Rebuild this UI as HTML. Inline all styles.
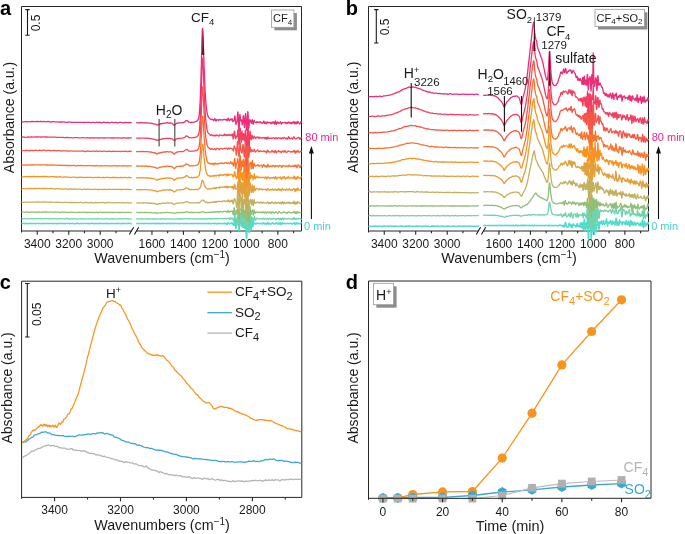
<!DOCTYPE html>
<html><head><meta charset="utf-8"><style>
html,body{margin:0;padding:0;background:#fff;width:685px;height:534px;overflow:hidden}
svg{display:block;will-change:transform}
</style></head><body>
<svg width="685" height="534" viewBox="0 0 685 534" font-family="Liberation Sans, sans-serif">
<rect width="685" height="534" fill="#fff"/>
<path d="M21.5,232.5 V6.5 H301.5 V231.0" fill="none" stroke="#262626" stroke-width="1"/>
<path d="M21.5,231.0 H131.3 M136.7,231.0 H301.5" fill="none" stroke="#262626" stroke-width="1"/>
<path d="M129.3,234.6 L133.6,227.3 M134.4,234.6 L138.7,227.3" stroke="#111" stroke-width="1.05" fill="none"/>
<path d="M37.24,231.0 v3.8 M68.72,231.0 v3.8 M100.20,231.0 v3.8 M52.98,231.0 v2.2 M84.46,231.0 v2.2 M115.94,231.0 v2.2 M151.94,231.0 v3.8 M183.42,231.0 v3.8 M214.90,231.0 v3.8 M246.38,231.0 v3.8 M277.86,231.0 v3.8 M167.68,231.0 v2.2 M199.16,231.0 v2.2 M230.64,231.0 v2.2 M262.12,231.0 v2.2 M293.60,231.0 v2.2" stroke="#262626" stroke-width="1.1" fill="none"/>
<text x="37.24" y="248" font-size="12" text-anchor="middle" fill="#1a1a1a" font-weight="normal" >3400</text>
<text x="68.72" y="248" font-size="12" text-anchor="middle" fill="#1a1a1a" font-weight="normal" >3200</text>
<text x="100.20" y="248" font-size="12" text-anchor="middle" fill="#1a1a1a" font-weight="normal" >3000</text>
<text x="151.94" y="248" font-size="12" text-anchor="middle" fill="#1a1a1a" font-weight="normal" >1600</text>
<text x="183.42" y="248" font-size="12" text-anchor="middle" fill="#1a1a1a" font-weight="normal" >1400</text>
<text x="214.90" y="248" font-size="12" text-anchor="middle" fill="#1a1a1a" font-weight="normal" >1200</text>
<text x="246.38" y="248" font-size="12" text-anchor="middle" fill="#1a1a1a" font-weight="normal" >1000</text>
<text x="277.86" y="248" font-size="12" text-anchor="middle" fill="#1a1a1a" font-weight="normal" >800</text>
<text x="162.0" y="262.7" font-size="14.3" text-anchor="middle" fill="#1a1a1a" font-weight="normal" >Wavenumbers (cm<tspan font-size="10" dy="-5">−1</tspan><tspan dy="5">)</tspan></text>
<path d="M368.5,232.5 V6.5 H648.5 V231.0" fill="none" stroke="#262626" stroke-width="1"/>
<path d="M368.5,231.0 H478.3 M483.7,231.0 H648.5" fill="none" stroke="#262626" stroke-width="1"/>
<path d="M476.3,234.6 L480.6,227.3 M481.4,234.6 L485.7,227.3" stroke="#111" stroke-width="1.05" fill="none"/>
<path d="M384.24,231.0 v3.8 M415.72,231.0 v3.8 M447.20,231.0 v3.8 M399.98,231.0 v2.2 M431.46,231.0 v2.2 M462.94,231.0 v2.2 M498.94,231.0 v3.8 M530.42,231.0 v3.8 M561.90,231.0 v3.8 M593.38,231.0 v3.8 M624.86,231.0 v3.8 M514.68,231.0 v2.2 M546.16,231.0 v2.2 M577.64,231.0 v2.2 M609.12,231.0 v2.2 M640.60,231.0 v2.2" stroke="#262626" stroke-width="1.1" fill="none"/>
<text x="384.24" y="248" font-size="12" text-anchor="middle" fill="#1a1a1a" font-weight="normal" >3400</text>
<text x="415.72" y="248" font-size="12" text-anchor="middle" fill="#1a1a1a" font-weight="normal" >3200</text>
<text x="447.20" y="248" font-size="12" text-anchor="middle" fill="#1a1a1a" font-weight="normal" >3000</text>
<text x="498.94" y="248" font-size="12" text-anchor="middle" fill="#1a1a1a" font-weight="normal" >1600</text>
<text x="530.42" y="248" font-size="12" text-anchor="middle" fill="#1a1a1a" font-weight="normal" >1400</text>
<text x="561.90" y="248" font-size="12" text-anchor="middle" fill="#1a1a1a" font-weight="normal" >1200</text>
<text x="593.38" y="248" font-size="12" text-anchor="middle" fill="#1a1a1a" font-weight="normal" >1000</text>
<text x="624.86" y="248" font-size="12" text-anchor="middle" fill="#1a1a1a" font-weight="normal" >800</text>
<text x="509.0" y="262.7" font-size="14.3" text-anchor="middle" fill="#1a1a1a" font-weight="normal" >Wavenumbers (cm<tspan font-size="10" dy="-5">−1</tspan><tspan dy="5">)</tspan></text>
<text x="0" y="0" font-size="14" text-anchor="middle" fill="#1a1a1a" transform="translate(14,117.5) rotate(-90)">Absorbance (a.u.)</text>
<text x="0" y="0" font-size="14" text-anchor="middle" fill="#1a1a1a" transform="translate(358.3,117.3) rotate(-90)">Absorbance (a.u.)</text>
<text x="0" y="0" font-size="14" text-anchor="middle" fill="#1a1a1a" transform="translate(12.2,387.9) rotate(-90)">Absorbance (a.u.)</text>
<text x="0" y="0" font-size="14" text-anchor="middle" fill="#1a1a1a" transform="translate(358.1,387.9) rotate(-90)">Absorbance (a.u.)</text>
<text x="0.1" y="15.2" font-size="20" text-anchor="start" fill="#000" font-weight="bold" >a</text>
<text x="345.8" y="15.2" font-size="20" text-anchor="start" fill="#000" font-weight="bold" >b</text>
<text x="-0.2" y="288.5" font-size="20" text-anchor="start" fill="#000" font-weight="bold" >c</text>
<text x="345.8" y="288.5" font-size="20" text-anchor="start" fill="#000" font-weight="bold" >d</text>
<path d="M25.3,9.6 h4.4 M27.5,9.6 V35.3 M25.3,35.3 h4.4" stroke="#1a1a1a" stroke-width="1.1" fill="none"/>
<text x="0" y="0" font-size="12" text-anchor="middle" fill="#1a1a1a" transform="translate(40.3,23) rotate(-90)">0.5</text>
<path d="M374.1,9.6 h4.4 M376.3,9.6 V43.0 M374.1,43.0 h4.4" stroke="#1a1a1a" stroke-width="1.1" fill="none"/>
<text x="0" y="0" font-size="12" text-anchor="middle" fill="#1a1a1a" transform="translate(389,27) rotate(-90)">0.5</text>
<path d="M25.1,283.5 h4.4 M27.3,283.5 V337.0 M25.1,337.0 h4.4" stroke="#1a1a1a" stroke-width="1.1" fill="none"/>
<text x="0" y="0" font-size="12" text-anchor="middle" fill="#1a1a1a" transform="translate(40.8,314.3) rotate(-90)">0.05</text>
<path d="M21.6,498.9 V281.2 H301.8 V497.4 H21.6" fill="none" stroke="#262626" stroke-width="1"/>
<path d="M54.56,497.4 v3.8 M120.49,497.4 v3.8 M186.42,497.4 v3.8 M252.35,497.4 v3.8 M87.53,497.4 v2.2 M153.46,497.4 v2.2 M219.39,497.4 v2.2 M285.32,497.4 v2.2" stroke="#262626" stroke-width="1.1" fill="none"/>
<text x="54.56" y="514.2" font-size="12" text-anchor="middle" fill="#1a1a1a" font-weight="normal" >3400</text>
<text x="120.49" y="514.2" font-size="12" text-anchor="middle" fill="#1a1a1a" font-weight="normal" >3200</text>
<text x="186.42" y="514.2" font-size="12" text-anchor="middle" fill="#1a1a1a" font-weight="normal" >3000</text>
<text x="252.35" y="514.2" font-size="12" text-anchor="middle" fill="#1a1a1a" font-weight="normal" >2800</text>
<text x="162.00" y="529.6" font-size="14.3" text-anchor="middle" fill="#1a1a1a" font-weight="normal" >Wavenumbers (cm<tspan font-size="10" dy="-5">−1</tspan><tspan dy="5">)</tspan></text>
<path d="M207.3,292.2 H231.9" stroke="#f7941d" stroke-width="1.3"/>
<text x="235.0" y="296.09999999999997" font-size="13.5" text-anchor="start" fill="#1a1a1a" font-weight="normal" >CF<tspan font-size="11" dy="3.8">4</tspan><tspan dy="-3.8">+SO</tspan><tspan font-size="11" dy="3.8">2</tspan></text>
<path d="M207.3,312.7 H231.9" stroke="#3ca7d2" stroke-width="1.3"/>
<text x="235.0" y="316.59999999999997" font-size="13.5" text-anchor="start" fill="#1a1a1a" font-weight="normal" >SO<tspan font-size="11" dy="3.8">2</tspan></text>
<path d="M207.3,333.1 H231.9" stroke="#b4b4b4" stroke-width="1.3"/>
<text x="235.0" y="337.0" font-size="13.5" text-anchor="start" fill="#1a1a1a" font-weight="normal" >CF<tspan font-size="11" dy="3.8">4</tspan></text>
<text x="106" y="297.6" font-size="13.5" text-anchor="start" fill="#1a1a1a" font-weight="normal" >H<tspan font-size="9" dy="-5">+</tspan></text>
<path d="M21.90,458.23 22.40,457.84 22.90,457.34 23.40,456.92 23.90,456.34 24.40,456.09 24.90,456.22 25.40,455.91 25.90,455.67 26.40,455.45 26.90,454.95 27.40,454.77 27.90,454.42 28.40,454.02 28.90,453.80 29.40,453.23 29.90,453.05 30.40,452.40 30.90,451.73 31.40,451.36 31.90,451.14 32.40,451.01 32.90,451.06 33.40,451.20 33.90,450.96 34.40,450.45 34.90,450.04 35.40,449.75 35.90,449.57 36.40,449.53 36.90,449.30 37.40,448.88 37.90,448.46 38.40,448.74 38.90,448.45 39.40,448.41 39.90,448.52 40.40,447.97 40.90,447.89 41.40,447.68 41.90,447.26 42.40,446.87 42.90,446.64 43.40,446.62 43.90,446.03 44.40,446.19 44.90,445.97 45.40,445.36 45.90,445.89 46.40,445.72 46.90,445.35 47.40,445.44 47.90,445.14 48.40,444.97 48.90,445.37 49.40,445.38 49.90,445.45 50.40,445.84 50.90,445.65 51.40,445.78 51.90,445.65 52.40,445.49 52.90,445.50 53.40,445.46 53.90,445.63 54.40,445.91 54.90,446.50 55.40,446.48 55.90,446.50 56.40,446.58 56.90,446.09 57.40,446.40 57.90,446.67 58.40,446.92 58.90,447.58 59.40,447.73 59.90,447.80 60.40,447.61 60.90,447.88 61.40,447.96 61.90,448.06 62.40,448.27 62.90,448.03 63.40,448.16 63.90,448.09 64.40,448.10 64.90,448.11 65.40,448.47 65.90,448.90 66.40,448.98 66.90,449.28 67.40,449.05 67.90,449.21 68.40,449.29 68.90,449.35 69.40,449.24 69.90,449.17 70.40,448.91 70.90,448.46 71.40,448.73 71.90,448.56 72.40,449.00 72.90,449.94 73.40,449.91 73.90,450.04 74.40,450.12 74.90,449.85 75.40,450.06 75.90,450.22 76.40,450.40 76.90,450.49 77.40,450.40 77.90,450.51 78.40,450.46 78.90,450.23 79.40,450.57 79.90,450.51 80.40,450.78 80.90,451.13 81.40,451.19 81.90,451.33 82.40,451.21 82.90,450.88 83.40,450.73 83.90,451.03 84.40,450.74 84.90,451.41 85.40,451.40 85.90,451.59 86.40,451.97 86.90,452.07 87.40,452.56 87.90,452.22 88.40,452.77 88.90,453.02 89.40,453.11 89.90,453.48 90.40,453.33 90.90,452.97 91.40,453.34 91.90,453.41 92.40,453.56 92.90,453.73 93.40,453.52 93.90,453.51 94.40,453.90 94.90,454.16 95.40,454.61 95.90,455.00 96.40,454.75 96.90,454.85 97.40,454.68 97.90,454.81 98.40,455.00 98.90,455.14 99.40,455.11 99.90,455.08 100.40,455.62 100.90,455.67 101.40,455.87 101.90,456.22 102.40,456.30 102.90,456.27 103.40,456.57 103.90,456.50 104.40,455.99 104.90,456.55 105.40,456.71 105.90,456.98 106.40,457.31 106.90,457.37 107.40,457.40 107.90,457.48 108.40,457.53 108.90,457.32 109.40,457.82 109.90,457.87 110.40,458.28 110.90,458.64 111.40,458.41 111.90,458.54 112.40,458.73 112.90,458.80 113.40,458.98 113.90,459.21 114.40,459.45 114.90,459.77 115.40,460.00 115.90,460.01 116.40,459.62 116.90,459.80 117.40,460.04 117.90,460.25 118.40,460.76 118.90,460.85 119.40,460.95 119.90,461.29 120.40,461.21 120.90,461.49 121.40,461.20 121.90,461.31 122.40,461.62 122.90,461.62 123.40,462.37 123.90,462.62 124.40,462.42 124.90,462.03 125.40,461.94 125.90,461.56 126.40,461.90 126.90,462.53 127.40,462.15 127.90,462.05 128.40,462.22 128.90,462.18 129.40,462.57 129.90,463.11 130.40,463.00 130.90,462.81 131.40,462.94 131.90,462.85 132.40,462.81 132.90,463.32 133.40,463.46 133.90,463.85 134.40,464.10 134.90,463.98 135.40,463.92 135.90,463.78 136.40,464.13 136.90,464.23 137.40,464.63 137.90,465.00 138.40,465.49 138.90,465.50 139.40,465.73 139.90,465.78 140.40,465.51 140.90,465.63 141.40,465.50 141.90,465.81 142.40,465.94 142.90,466.40 143.40,466.58 143.90,466.82 144.40,466.99 144.90,466.69 145.40,466.79 145.90,466.36 146.40,465.91 146.90,466.46 147.40,467.08 147.90,467.70 148.40,468.32 148.90,468.44 149.40,468.60 149.90,468.80 150.40,469.21 150.90,469.56 151.40,469.51 151.90,469.80 152.40,470.07 152.90,470.28 153.40,470.23 153.90,470.33 154.40,470.24 154.90,470.57 155.40,470.68 155.90,470.70 156.40,470.99 156.90,470.66 157.40,471.40 157.90,471.87 158.40,471.92 158.90,472.49 159.40,472.36 159.90,471.68 160.40,471.96 160.90,471.93 161.40,472.00 161.90,472.44 162.40,472.47 162.90,472.57 163.40,472.91 163.90,473.32 164.40,473.49 164.90,473.95 165.40,473.71 165.90,473.68 166.40,473.42 166.90,473.54 167.40,473.95 167.90,474.31 168.40,474.90 168.90,474.71 169.40,474.65 169.90,474.52 170.40,474.44 170.90,474.52 171.40,474.87 171.90,475.12 172.40,475.24 172.90,475.21 173.40,474.87 173.90,475.17 174.40,475.37 174.90,475.58 175.40,475.72 175.90,475.27 176.40,475.24 176.90,475.48 177.40,475.55 177.90,475.81 178.40,475.86 178.90,475.79 179.40,475.62 179.90,475.70 180.40,475.65 180.90,475.88 181.40,476.12 181.90,476.35 182.40,476.90 182.90,476.74 183.40,476.84 183.90,476.83 184.40,476.60 184.90,476.53 185.40,476.81 185.90,477.24 186.40,477.26 186.90,477.48 187.40,477.24 187.90,476.96 188.40,476.83 188.90,476.71 189.40,477.23 189.90,477.05 190.40,477.57 190.90,478.16 191.40,478.01 191.90,478.36 192.40,478.59 192.90,478.30 193.40,478.18 193.90,477.85 194.40,477.52 194.90,477.90 195.40,478.26 195.90,478.40 196.40,478.26 196.90,477.91 197.40,477.82 197.90,478.01 198.40,478.27 198.90,478.47 199.40,478.40 199.90,478.47 200.40,478.51 200.90,478.47 201.40,478.67 201.90,479.09 202.40,479.20 202.90,479.27 203.40,478.86 203.90,478.60 204.40,478.13 204.90,477.87 205.40,478.42 205.90,478.52 206.40,478.91 206.90,478.88 207.40,478.67 207.90,478.43 208.40,478.63 208.90,479.46 209.40,479.61 209.90,479.63 210.40,479.30 210.90,478.88 211.40,478.84 211.90,478.80 212.40,479.10 212.90,478.92 213.40,479.22 213.90,479.71 214.40,479.94 214.90,480.13 215.40,480.06 215.90,479.87 216.40,479.62 216.90,479.70 217.40,479.39 217.90,479.19 218.40,479.48 218.90,479.57 219.40,479.93 219.90,480.47 220.40,480.03 220.90,479.96 221.40,480.02 221.90,479.95 222.40,480.28 222.90,480.70 223.40,480.77 223.90,480.50 224.40,480.45 224.90,480.46 225.40,480.57 225.90,480.48 226.40,480.99 226.90,481.00 227.40,481.23 227.90,481.58 228.40,481.30 228.90,481.00 229.40,481.28 229.90,481.37 230.40,481.78 230.90,481.92 231.40,481.48 231.90,481.21 232.40,480.85 232.90,481.20 233.40,480.95 233.90,481.52 234.40,481.68 234.90,481.29 235.40,481.45 235.90,481.16 236.40,481.09 236.90,481.19 237.40,481.13 237.90,481.15 238.40,480.96 238.90,480.80 239.40,480.95 239.90,481.18 240.40,481.07 240.90,481.32 241.40,481.19 241.90,480.81 242.40,481.27 242.90,481.15 243.40,481.57 243.90,481.60 244.40,481.49 244.90,481.53 245.40,481.06 245.90,481.32 246.40,481.19 246.90,481.34 247.40,481.47 247.90,481.11 248.40,481.11 248.90,480.98 249.40,481.16 249.90,481.18 250.40,481.17 250.90,480.80 251.40,480.72 251.90,480.67 252.40,480.29 252.90,480.61 253.40,480.68 253.90,480.58 254.40,480.71 254.90,480.55 255.40,480.09 255.90,480.46 256.40,480.50 256.90,480.49 257.40,480.81 257.90,480.57 258.40,480.80 258.90,480.74 259.40,480.36 259.90,480.13 260.40,480.40 260.90,480.51 261.40,480.79 261.90,481.13 262.40,480.78 262.90,480.83 263.40,481.15 263.90,480.93 264.40,480.57 264.90,480.34 265.40,479.68 265.90,480.02 266.40,480.47 266.90,480.47 267.40,480.44 267.90,480.20 268.40,480.30 268.90,479.91 269.40,480.28 269.90,480.11 270.40,480.03 270.90,480.36 271.40,480.18 271.90,480.08 272.40,479.65 272.90,480.13 273.40,480.33 273.90,480.54 274.40,480.54 274.90,479.87 275.40,479.61 275.90,479.67 276.40,479.81 276.90,480.15 277.40,479.99 277.90,479.96 278.40,479.95 278.90,480.21 279.40,480.79 279.90,480.76 280.40,480.60 280.90,480.31 281.40,479.80 281.90,479.66 282.40,479.78 282.90,479.57 283.40,479.80 283.90,479.91 284.40,479.95 284.90,480.11 285.40,479.82 285.90,479.63 286.40,479.52 286.90,479.43 287.40,479.60 287.90,479.77 288.40,479.53 288.90,479.64 289.40,479.30 289.90,479.16 290.40,479.36 290.90,478.91 291.40,479.18 291.90,479.32 292.40,479.33 292.90,479.64 293.40,479.53 293.90,479.29 294.40,479.24 294.90,479.20 295.40,479.28 295.90,479.21 296.40,479.30 296.90,479.42 297.40,479.35 297.90,479.49 298.40,479.53 298.90,479.15 299.40,479.25 299.90,479.37 300.40,479.30 300.90,479.69 301.40,479.58" fill="none" stroke="#b4b4b4" stroke-width="1.25" stroke-linejoin="round"/>
<path d="M21.90,442.54 22.40,442.53 22.90,442.48 23.40,442.46 23.90,442.13 24.40,441.94 24.90,441.85 25.40,441.76 25.90,441.79 26.40,441.26 26.90,440.99 27.40,440.59 27.90,439.95 28.40,439.96 28.90,439.30 29.40,438.77 29.90,438.62 30.40,438.29 30.90,437.97 31.40,437.72 31.90,437.58 32.40,437.19 32.90,436.82 33.40,436.40 33.90,435.70 34.40,435.14 34.90,434.97 35.40,434.82 35.90,434.77 36.40,434.77 36.90,434.38 37.40,434.10 37.90,433.97 38.40,433.71 38.90,433.77 39.40,433.65 39.90,433.33 40.40,433.15 40.90,432.71 41.40,432.30 41.90,432.32 42.40,432.17 42.90,432.28 43.40,432.22 43.90,432.05 44.40,431.97 44.90,431.82 45.40,431.79 45.90,431.85 46.40,432.15 46.90,432.42 47.40,432.76 47.90,432.93 48.40,433.05 48.90,432.76 49.40,432.97 49.90,433.21 50.40,433.36 50.90,434.14 51.40,434.47 51.90,434.59 52.40,434.68 52.90,434.69 53.40,434.58 53.90,434.64 54.40,434.82 54.90,435.07 55.40,435.21 55.90,435.29 56.40,435.27 56.90,435.27 57.40,435.37 57.90,435.67 58.40,435.59 58.90,435.46 59.40,435.52 59.90,435.50 60.40,435.86 60.90,435.76 61.40,435.73 61.90,435.74 62.40,435.57 62.90,435.63 63.40,435.96 63.90,436.04 64.40,436.25 64.90,436.45 65.40,436.49 65.90,436.42 66.40,436.54 66.90,436.50 67.40,436.26 67.90,436.33 68.40,436.08 68.90,436.30 69.40,436.45 69.90,436.28 70.40,436.36 70.90,436.19 71.40,436.25 71.90,436.26 72.40,436.14 72.90,436.32 73.40,436.45 73.90,436.77 74.40,436.78 74.90,436.59 75.40,436.43 75.90,436.07 76.40,435.86 76.90,435.78 77.40,435.56 77.90,435.39 78.40,435.23 78.90,434.95 79.40,434.91 79.90,434.86 80.40,435.00 80.90,435.17 81.40,435.10 81.90,435.10 82.40,435.14 82.90,434.93 83.40,434.73 83.90,434.57 84.40,434.60 84.90,434.65 85.40,434.53 85.90,434.55 86.40,434.29 86.90,434.31 87.40,434.12 87.90,433.95 88.40,433.85 88.90,434.03 89.40,434.31 89.90,434.36 90.40,434.44 90.90,434.30 91.40,434.06 91.90,433.95 92.40,433.95 92.90,433.66 93.40,433.73 93.90,433.65 94.40,433.69 94.90,433.80 95.40,433.74 95.90,433.86 96.40,433.27 96.90,433.08 97.40,432.94 97.90,432.88 98.40,433.24 98.90,433.09 99.40,432.87 99.90,432.86 100.40,432.68 100.90,432.70 101.40,432.88 101.90,432.83 102.40,432.66 102.90,432.94 103.40,433.13 103.90,433.41 104.40,434.09 104.90,434.02 105.40,433.83 105.90,433.65 106.40,433.30 106.90,433.34 107.40,433.72 107.90,433.68 108.40,434.01 108.90,433.98 109.40,434.13 109.90,434.52 110.40,434.54 110.90,434.88 111.40,434.92 111.90,435.02 112.40,435.01 112.90,435.21 113.40,435.75 113.90,436.33 114.40,436.98 114.90,437.32 115.40,437.21 115.90,437.38 116.40,437.44 116.90,437.59 117.40,437.90 117.90,437.98 118.40,438.19 118.90,438.45 119.40,438.59 119.90,438.79 120.40,439.42 120.90,439.67 121.40,440.03 121.90,440.38 122.40,440.39 122.90,440.46 123.40,440.66 123.90,440.91 124.40,441.03 124.90,441.37 125.40,441.80 125.90,441.74 126.40,441.89 126.90,441.96 127.40,442.12 127.90,442.10 128.40,442.15 128.90,442.31 129.40,442.35 129.90,442.86 130.40,443.30 130.90,443.30 131.40,443.46 131.90,443.48 132.40,443.34 132.90,443.78 133.40,443.69 133.90,443.58 134.40,443.77 134.90,443.62 135.40,443.80 135.90,444.28 136.40,444.52 136.90,445.09 137.40,445.29 137.90,445.17 138.40,445.16 138.90,444.94 139.40,444.94 139.90,445.36 140.40,445.52 140.90,445.51 141.40,445.92 141.90,445.99 142.40,446.27 142.90,446.71 143.40,446.84 143.90,447.01 144.40,447.27 144.90,447.46 145.40,447.57 145.90,447.76 146.40,447.52 146.90,447.58 147.40,447.62 147.90,447.73 148.40,447.87 148.90,448.25 149.40,448.43 149.90,448.36 150.40,448.43 150.90,448.28 151.40,448.38 151.90,448.56 152.40,448.93 152.90,448.99 153.40,449.19 153.90,449.30 154.40,449.39 154.90,449.73 155.40,450.12 155.90,450.18 156.40,450.23 156.90,450.08 157.40,449.93 157.90,450.02 158.40,450.12 158.90,450.33 159.40,450.19 159.90,450.32 160.40,450.42 160.90,450.23 161.40,450.27 161.90,450.45 162.40,450.64 162.90,451.01 163.40,451.07 163.90,451.17 164.40,451.37 164.90,451.58 165.40,451.93 165.90,451.98 166.40,452.06 166.90,452.02 167.40,451.98 167.90,452.11 168.40,452.34 168.90,452.57 169.40,453.02 169.90,453.20 170.40,453.26 170.90,453.27 171.40,453.22 171.90,453.78 172.40,453.89 172.90,454.04 173.40,454.19 173.90,454.03 174.40,454.24 174.90,454.38 175.40,454.29 175.90,454.35 176.40,454.32 176.90,454.55 177.40,455.12 177.90,455.34 178.40,455.59 178.90,455.56 179.40,455.63 179.90,456.01 180.40,456.14 180.90,456.46 181.40,456.48 181.90,456.56 182.40,456.44 182.90,456.51 183.40,456.66 183.90,456.62 184.40,456.79 184.90,456.95 185.40,456.94 185.90,456.94 186.40,457.07 186.90,456.95 187.40,457.07 187.90,457.26 188.40,457.22 188.90,457.42 189.40,457.60 189.90,457.40 190.40,457.64 190.90,457.59 191.40,457.73 191.90,458.28 192.40,458.61 192.90,458.79 193.40,458.81 193.90,458.57 194.40,458.36 194.90,458.68 195.40,458.45 195.90,458.65 196.40,458.69 196.90,458.73 197.40,459.00 197.90,458.82 198.40,458.93 198.90,458.89 199.40,458.93 199.90,459.15 200.40,459.09 200.90,458.75 201.40,458.93 201.90,459.01 202.40,459.16 202.90,459.52 203.40,459.60 203.90,459.49 204.40,459.42 204.90,459.44 205.40,459.51 205.90,459.43 206.40,459.75 206.90,459.74 207.40,459.47 207.90,459.89 208.40,459.76 208.90,459.72 209.40,459.87 209.90,459.87 210.40,460.11 210.90,460.28 211.40,460.44 211.90,460.46 212.40,460.26 212.90,460.42 213.40,460.41 213.90,460.29 214.40,460.37 214.90,460.39 215.40,460.45 215.90,460.50 216.40,460.57 216.90,460.77 217.40,460.85 217.90,461.11 218.40,461.40 218.90,461.38 219.40,461.72 219.90,461.53 220.40,461.53 220.90,461.46 221.40,461.45 221.90,461.86 222.40,461.52 222.90,461.48 223.40,461.36 223.90,461.28 224.40,461.70 224.90,461.87 225.40,461.88 225.90,461.90 226.40,461.82 226.90,462.01 227.40,461.67 227.90,461.70 228.40,461.60 228.90,461.61 229.40,461.93 229.90,461.74 230.40,461.95 230.90,461.71 231.40,461.63 231.90,461.55 232.40,461.51 232.90,461.71 233.40,461.99 233.90,462.19 234.40,462.34 234.90,462.27 235.40,462.11 235.90,462.21 236.40,462.21 236.90,462.16 237.40,462.13 237.90,462.03 238.40,461.89 238.90,461.80 239.40,461.97 239.90,461.93 240.40,461.98 240.90,461.98 241.40,461.88 241.90,461.99 242.40,461.85 242.90,462.24 243.40,462.23 243.90,462.42 244.40,462.60 244.90,462.21 245.40,462.09 245.90,461.89 246.40,461.76 246.90,461.84 247.40,461.84 247.90,461.51 248.40,461.46 248.90,461.13 249.40,461.20 249.90,461.34 250.40,461.25 250.90,461.51 251.40,461.48 251.90,461.37 252.40,461.20 252.90,461.06 253.40,460.72 253.90,460.77 254.40,461.21 254.90,461.19 255.40,461.55 255.90,461.47 256.40,461.27 256.90,461.35 257.40,461.23 257.90,461.47 258.40,461.65 258.90,461.67 259.40,461.64 259.90,461.35 260.40,461.10 260.90,460.94 261.40,460.93 261.90,460.95 262.40,461.00 262.90,460.63 263.40,460.35 263.90,460.35 264.40,459.93 264.90,459.98 265.40,459.86 265.90,459.43 266.40,459.39 266.90,459.75 267.40,459.86 267.90,459.82 268.40,459.62 268.90,459.17 269.40,459.12 269.90,459.15 270.40,459.18 270.90,459.38 271.40,459.39 271.90,459.49 272.40,459.49 272.90,459.21 273.40,459.06 273.90,458.88 274.40,459.22 274.90,459.44 275.40,459.69 275.90,460.35 276.40,460.50 276.90,460.51 277.40,460.65 277.90,460.63 278.40,460.44 278.90,460.53 279.40,460.46 279.90,460.13 280.40,460.50 280.90,460.36 281.40,460.28 281.90,460.53 282.40,460.35 282.90,460.77 283.40,461.03 283.90,461.09 284.40,461.34 284.90,461.08 285.40,461.10 285.90,461.09 286.40,461.01 286.90,461.40 287.40,461.33 287.90,461.40 288.40,461.55 288.90,461.62 289.40,461.71 289.90,462.14 290.40,462.41 290.90,462.21 291.40,462.41 291.90,462.53 292.40,462.37 292.90,462.66 293.40,462.64 293.90,462.27 294.40,462.18 294.90,462.13 295.40,462.32 295.90,462.39 296.40,462.41 296.90,462.37 297.40,462.31 297.90,462.29 298.40,462.38 298.90,462.74 299.40,462.85 299.90,463.10 300.40,463.22 300.90,463.13 301.40,463.13" fill="none" stroke="#3ca7d2" stroke-width="1.25" stroke-linejoin="round"/>
<path d="M21.90,442.55 22.40,442.44 22.90,442.03 23.40,441.96 23.90,441.70 24.40,441.13 24.90,440.86 25.40,440.17 25.90,439.79 26.40,439.38 26.90,439.19 27.40,438.68 27.90,437.74 28.40,436.98 28.90,435.74 29.40,435.24 29.90,435.21 30.40,434.48 30.90,433.46 31.40,432.10 31.90,431.83 32.40,430.56 32.90,430.91 33.40,430.17 33.90,430.36 34.40,429.60 34.90,429.94 35.40,429.96 35.90,429.60 36.40,428.42 36.90,428.27 37.40,427.94 37.90,427.22 38.40,427.09 38.90,426.44 39.40,426.66 39.90,425.31 40.40,424.97 40.90,425.26 41.40,424.80 41.90,425.61 42.40,425.41 42.90,426.22 43.40,424.56 43.90,424.15 44.40,424.61 44.90,425.59 45.40,425.90 45.90,424.54 46.40,425.28 46.90,425.02 47.40,426.78 47.90,425.52 48.40,425.93 48.90,425.12 49.40,426.80 49.90,425.69 50.40,425.72 50.90,426.65 51.40,426.40 51.90,426.57 52.40,425.32 52.90,425.19 53.40,426.20 53.90,427.06 54.40,427.21 54.90,425.58 55.40,425.15 55.90,426.24 56.40,427.45 56.90,427.44 57.40,426.13 57.90,425.38 58.40,423.79 58.90,423.13 59.40,423.58 59.90,423.34 60.40,424.59 60.90,423.64 61.40,422.81 61.90,421.69 62.40,422.08 62.90,422.01 63.40,420.43 63.90,419.05 64.40,419.02 64.90,418.97 65.40,418.30 65.90,417.67 66.40,417.29 66.90,416.26 67.40,415.01 67.90,414.02 68.40,413.93 68.90,413.75 69.40,413.51 69.90,412.64 70.40,411.16 70.90,409.65 71.40,408.63 71.90,408.53 72.40,407.79 72.90,406.45 73.40,405.40 73.90,404.26 74.40,402.95 74.90,401.76 75.40,400.42 75.90,399.06 76.40,398.04 76.90,396.89 77.40,395.78 77.90,394.52 78.40,393.10 78.90,391.41 79.40,389.32 79.90,387.38 80.40,385.44 80.90,383.45 81.40,381.95 81.90,380.03 82.40,377.95 82.90,376.31 83.40,374.37 83.90,372.56 84.40,370.95 84.90,368.96 85.40,366.93 85.90,364.51 86.40,362.23 86.90,359.94 87.40,357.66 87.90,355.99 88.40,354.20 88.90,352.14 89.40,350.09 89.90,348.37 90.40,346.17 90.90,344.15 91.40,342.49 91.90,340.36 92.40,338.43 92.90,336.84 93.40,334.85 93.90,332.78 94.40,331.08 94.90,329.28 95.40,327.50 95.90,326.00 96.40,324.33 96.90,323.08 97.40,321.60 97.90,320.37 98.40,319.07 98.90,317.33 99.40,316.26 99.90,314.93 100.40,313.90 100.90,312.78 101.40,311.44 101.90,310.14 102.40,309.00 102.90,308.08 103.40,307.50 103.90,306.85 104.40,306.22 104.90,305.76 105.40,305.02 105.90,304.18 106.40,303.31 106.90,302.34 107.40,302.07 107.90,301.71 108.40,301.67 108.90,301.63 109.40,301.36 109.90,301.43 110.40,301.11 110.90,300.96 111.40,300.75 111.90,300.68 112.40,300.72 112.90,300.87 113.40,301.26 113.90,301.17 114.40,301.50 114.90,301.60 115.40,301.65 115.90,302.31 116.40,302.55 116.90,303.11 117.40,303.16 117.90,303.53 118.40,303.78 118.90,304.10 119.40,304.77 119.90,304.71 120.40,305.25 120.90,305.83 121.40,306.73 121.90,307.92 122.40,308.88 122.90,309.49 123.40,310.36 123.90,311.51 124.40,312.42 124.90,313.56 125.40,314.07 125.90,314.90 126.40,316.27 126.90,317.36 127.40,318.73 127.90,319.64 128.40,320.09 128.90,321.24 129.40,321.96 129.90,322.97 130.40,324.30 130.90,325.40 131.40,326.83 131.90,328.10 132.40,329.12 132.90,329.97 133.40,331.07 133.90,332.04 134.40,333.07 134.90,334.14 135.40,335.08 135.90,335.89 136.40,336.82 136.90,337.70 137.40,338.75 137.90,340.03 138.40,341.48 138.90,342.43 139.40,343.22 139.90,344.20 140.40,344.75 140.90,345.77 141.40,346.94 141.90,347.53 142.40,348.12 142.90,348.66 143.40,349.08 143.90,349.75 144.40,350.22 144.90,350.71 145.40,351.18 145.90,351.65 146.40,352.18 146.90,352.84 147.40,353.24 147.90,353.26 148.40,353.65 148.90,353.93 149.40,354.04 149.90,354.21 150.40,354.40 150.90,354.58 151.40,354.97 151.90,354.98 152.40,355.41 152.90,355.13 153.40,355.04 153.90,355.55 154.40,355.31 154.90,355.50 155.40,355.18 155.90,355.09 156.40,354.83 156.90,354.43 157.40,355.03 157.90,355.04 158.40,355.42 158.90,355.67 159.40,355.48 159.90,355.70 160.40,355.80 160.90,356.12 161.40,355.95 161.90,355.95 162.40,355.69 162.90,355.76 163.40,356.29 163.90,356.51 164.40,357.17 164.90,357.76 165.40,358.39 165.90,359.14 166.40,359.61 166.90,360.31 167.40,360.44 167.90,360.76 168.40,361.49 168.90,361.74 169.40,362.46 169.90,362.96 170.40,363.50 170.90,364.59 171.40,365.19 171.90,366.08 172.40,366.57 172.90,366.79 173.40,367.33 173.90,368.11 174.40,369.17 174.90,369.99 175.40,370.63 175.90,371.09 176.40,371.25 176.90,371.86 177.40,372.57 177.90,373.06 178.40,373.76 178.90,374.11 179.40,374.57 179.90,374.82 180.40,375.22 180.90,375.65 181.40,376.25 181.90,376.92 182.40,377.56 182.90,378.41 183.40,378.78 183.90,379.36 184.40,379.77 184.90,380.38 185.40,381.42 185.90,382.24 186.40,382.90 186.90,383.59 187.40,383.70 187.90,384.39 188.40,384.94 188.90,384.90 189.40,386.12 189.90,386.73 190.40,387.27 190.90,388.31 191.40,388.47 191.90,388.84 192.40,389.36 192.90,389.81 193.40,390.49 193.90,391.07 194.40,392.03 194.90,392.69 195.40,393.51 195.90,393.93 196.40,394.36 196.90,394.64 197.40,394.69 197.90,395.58 198.40,395.98 198.90,396.92 199.40,397.66 199.90,397.86 200.40,398.47 200.90,398.82 201.40,399.24 201.90,399.95 202.40,400.52 202.90,400.88 203.40,401.15 203.90,401.37 204.40,401.49 204.90,401.94 205.40,402.65 205.90,402.89 206.40,403.04 206.90,402.99 207.40,402.60 207.90,402.47 208.40,402.48 208.90,402.63 209.40,402.90 209.90,403.38 210.40,403.81 210.90,404.37 211.40,404.90 211.90,405.76 212.40,406.63 212.90,407.62 213.40,408.50 213.90,408.89 214.40,408.97 214.90,408.77 215.40,408.91 215.90,408.28 216.40,408.21 216.90,408.06 217.40,407.43 217.90,407.48 218.40,407.31 218.90,406.87 219.40,406.87 219.90,406.63 220.40,406.36 220.90,406.39 221.40,406.33 221.90,406.53 222.40,406.75 222.90,406.68 223.40,407.06 223.90,407.28 224.40,407.40 224.90,407.64 225.40,407.40 225.90,407.39 226.40,407.44 226.90,407.33 227.40,407.56 227.90,408.03 228.40,407.79 228.90,408.32 229.40,408.38 229.90,408.03 230.40,408.65 230.90,408.44 231.40,408.56 231.90,409.02 232.40,409.04 232.90,409.46 233.40,409.79 233.90,409.85 234.40,410.48 234.90,410.77 235.40,411.24 235.90,411.44 236.40,411.61 236.90,411.98 237.40,411.67 237.90,412.06 238.40,411.97 238.90,412.09 239.40,412.89 239.90,412.87 240.40,413.02 240.90,413.46 241.40,413.38 241.90,413.93 242.40,414.29 242.90,414.07 243.40,414.20 243.90,414.31 244.40,414.57 244.90,414.88 245.40,415.09 245.90,415.09 246.40,415.09 246.90,415.67 247.40,415.99 247.90,416.18 248.40,416.57 248.90,416.77 249.40,417.26 249.90,417.80 250.40,418.14 250.90,418.39 251.40,418.35 251.90,418.44 252.40,418.90 252.90,418.99 253.40,419.41 253.90,419.86 254.40,419.89 254.90,420.02 255.40,420.33 255.90,420.29 256.40,420.17 256.90,420.31 257.40,420.08 257.90,419.87 258.40,419.96 258.90,419.84 259.40,419.50 259.90,419.62 260.40,419.59 260.90,419.56 261.40,419.63 261.90,419.63 262.40,419.68 262.90,419.79 263.40,419.90 263.90,420.08 264.40,419.92 264.90,419.91 265.40,420.32 265.90,420.16 266.40,420.32 266.90,420.57 267.40,420.37 267.90,420.51 268.40,420.72 268.90,420.83 269.40,420.68 269.90,420.74 270.40,420.70 270.90,420.53 271.40,420.92 271.90,421.10 272.40,421.49 272.90,421.72 273.40,422.07 273.90,422.47 274.40,422.52 274.90,422.89 275.40,423.34 275.90,423.54 276.40,423.77 276.90,423.95 277.40,423.77 277.90,423.97 278.40,424.39 278.90,424.47 279.40,424.77 279.90,425.09 280.40,425.09 280.90,425.45 281.40,425.54 281.90,425.46 282.40,425.67 282.90,426.19 283.40,426.51 283.90,426.78 284.40,427.00 284.90,426.87 285.40,427.25 285.90,427.57 286.40,428.18 286.90,428.44 287.40,428.76 287.90,428.97 288.40,428.94 288.90,428.88 289.40,428.81 289.90,428.92 290.40,428.95 290.90,428.98 291.40,429.27 291.90,429.35 292.40,429.45 292.90,429.86 293.40,429.82 293.90,430.06 294.40,430.05 294.90,430.07 295.40,430.26 295.90,430.33 296.40,430.56 296.90,430.72 297.40,430.65 297.90,430.71 298.40,431.03 298.90,431.04 299.40,431.47 299.90,431.68 300.40,431.51 300.90,431.85 301.40,431.68" fill="none" stroke="#f7941d" stroke-width="1.25" stroke-linejoin="round"/>
<text x="382.90" y="515.7" font-size="12" text-anchor="middle" fill="#1a1a1a" font-weight="normal" >0</text>
<text x="442.56" y="515.7" font-size="12" text-anchor="middle" fill="#1a1a1a" font-weight="normal" >20</text>
<text x="502.22" y="515.7" font-size="12" text-anchor="middle" fill="#1a1a1a" font-weight="normal" >40</text>
<text x="561.88" y="515.7" font-size="12" text-anchor="middle" fill="#1a1a1a" font-weight="normal" >60</text>
<text x="621.54" y="515.7" font-size="12" text-anchor="middle" fill="#1a1a1a" font-weight="normal" >80</text>
<text x="510.10" y="530.8" font-size="14.5" text-anchor="middle" fill="#1a1a1a" font-weight="normal" >Time (min)</text>
<rect x="376.4" y="286.3" width="20.2" height="21.4" fill="#8c8c8c"/>
<rect x="373.4" y="283.3" width="20.2" height="21.4" fill="#fff" stroke="#9a9a9a" stroke-width="0.8"/>

<text x="376.0" y="300.0" font-size="14" text-anchor="start" fill="#1a1a1a" font-weight="normal" >H<tspan font-size="9" dy="-5.5">+</tspan></text>
<path d="M382.90,498.00 397.81,497.80 412.73,494.50 442.56,491.90 472.39,491.50 502.22,458.10 532.05,413.20 561.88,364.90 591.71,331.50 621.54,299.80" fill="none" stroke="#f7941d" stroke-width="1.3"/>
<circle cx="382.90" cy="498.0" r="4.6" fill="#f7941d"/>
<circle cx="397.81" cy="497.8" r="4.6" fill="#f7941d"/>
<circle cx="412.73" cy="494.5" r="4.6" fill="#f7941d"/>
<circle cx="442.56" cy="491.9" r="4.6" fill="#f7941d"/>
<circle cx="472.39" cy="491.5" r="4.6" fill="#f7941d"/>
<circle cx="502.22" cy="458.1" r="4.6" fill="#f7941d"/>
<circle cx="532.05" cy="413.2" r="4.6" fill="#f7941d"/>
<circle cx="561.88" cy="364.9" r="4.6" fill="#f7941d"/>
<circle cx="591.71" cy="331.5" r="4.6" fill="#f7941d"/>
<circle cx="621.54" cy="299.8" r="4.6" fill="#f7941d"/>
<path d="M382.90,498.00 397.81,498.00 412.73,497.50 442.56,497.30 472.39,495.50 502.22,492.00 532.05,489.80 561.88,487.00 591.71,485.00 621.54,483.60" fill="none" stroke="#3ca7d2" stroke-width="1.3"/>
<polygon points="382.90,493.00 387.23,495.50 387.23,500.50 382.90,503.00 378.57,500.50 378.57,495.50" fill="#3ca7d2"/>
<polygon points="397.81,493.00 402.15,495.50 402.15,500.50 397.81,503.00 393.48,500.50 393.48,495.50" fill="#3ca7d2"/>
<polygon points="412.73,492.50 417.06,495.00 417.06,500.00 412.73,502.50 408.40,500.00 408.40,495.00" fill="#3ca7d2"/>
<polygon points="442.56,492.30 446.89,494.80 446.89,499.80 442.56,502.30 438.23,499.80 438.23,494.80" fill="#3ca7d2"/>
<polygon points="472.39,490.50 476.72,493.00 476.72,498.00 472.39,500.50 468.06,498.00 468.06,493.00" fill="#3ca7d2"/>
<polygon points="502.22,487.00 506.55,489.50 506.55,494.50 502.22,497.00 497.89,494.50 497.89,489.50" fill="#3ca7d2"/>
<polygon points="532.05,484.80 536.38,487.30 536.38,492.30 532.05,494.80 527.72,492.30 527.72,487.30" fill="#3ca7d2"/>
<polygon points="561.88,482.00 566.21,484.50 566.21,489.50 561.88,492.00 557.55,489.50 557.55,484.50" fill="#3ca7d2"/>
<polygon points="591.71,480.00 596.04,482.50 596.04,487.50 591.71,490.00 587.38,487.50 587.38,482.50" fill="#3ca7d2"/>
<polygon points="621.54,478.60 625.87,481.10 625.87,486.10 621.54,488.60 617.21,486.10 617.21,481.10" fill="#3ca7d2"/>
<path d="M382.90,498.60 397.81,498.60 412.73,498.60 442.56,498.50 472.39,498.60 502.22,495.50 532.05,487.80 561.88,483.60 591.71,481.50 621.54,480.00" fill="none" stroke="#bdbdbd" stroke-width="1.2"/>
<rect x="379.00" y="494.70000000000005" width="7.8" height="7.8" fill="#b0b0b0"/>
<rect x="393.92" y="494.70000000000005" width="7.8" height="7.8" fill="#b0b0b0"/>
<rect x="408.83" y="494.70000000000005" width="7.8" height="7.8" fill="#b0b0b0"/>
<rect x="438.66" y="494.6" width="7.8" height="7.8" fill="#b0b0b0"/>
<rect x="468.49" y="494.70000000000005" width="7.8" height="7.8" fill="#b0b0b0"/>
<rect x="498.32" y="491.6" width="7.8" height="7.8" fill="#b0b0b0"/>
<rect x="528.15" y="483.90000000000003" width="7.8" height="7.8" fill="#b0b0b0"/>
<rect x="557.98" y="479.70000000000005" width="7.8" height="7.8" fill="#b0b0b0"/>
<rect x="587.81" y="477.6" width="7.8" height="7.8" fill="#b0b0b0"/>
<rect x="617.64" y="476.1" width="7.8" height="7.8" fill="#b0b0b0"/>
<path d="M368.5,499.8 V281.0 H651.0 V498.3 H368.5" fill="none" stroke="#262626" stroke-width="1"/>
<path d="M382.90,498.3 v4 M442.56,498.3 v4 M502.22,498.3 v4 M561.88,498.3 v4 M621.54,498.3 v4 M412.73,498.3 v2.4 M472.39,498.3 v2.4 M532.05,498.3 v2.4 M591.71,498.3 v2.4" stroke="#262626" stroke-width="1.1" fill="none"/>
<text x="550.3" y="300.9" font-size="14" text-anchor="start" fill="#f7941d" font-weight="normal" >CF<tspan font-size="11" dy="3.8">4</tspan><tspan dy="-3.8">+SO</tspan><tspan font-size="11" dy="3.8">2</tspan></text>
<text x="623.6" y="472.4" font-size="14" text-anchor="start" fill="#b4b4b4" font-weight="normal" >CF<tspan font-size="11" dy="3.8">4</tspan></text>
<text x="624.6" y="493.8" font-size="14" text-anchor="start" fill="#3ca7d2" font-weight="normal" >SO<tspan font-size="11" dy="3.8">2</tspan></text>
<path d="M21.5,223.5 22.4,223.4 23.4,223.3 24.3,223.6 25.3,223.6 26.2,223.4 27.2,223.5 28.1,223.7 29.1,223.5 30.0,223.3 30.9,223.5 31.9,223.6 32.8,223.4 33.8,223.4 34.7,223.6 35.7,223.6 36.6,223.5 37.6,223.4 38.5,223.4 39.4,223.4 40.4,223.6 41.3,223.8 42.3,223.5 43.2,223.3 44.2,223.4 45.1,223.6 46.1,223.5 47.0,223.4 47.9,223.5 48.9,223.6 49.8,223.5 50.8,223.5 51.7,223.5 52.7,223.4 53.6,223.4 54.6,223.5 55.5,223.6 56.4,223.6 57.4,223.6 58.3,223.5 59.3,223.4 60.2,223.3 61.2,223.5 62.1,223.6 63.1,223.5 64.0,223.4 64.9,223.6 65.9,223.6 66.8,223.4 67.8,223.5 68.7,223.6 69.7,223.5 70.6,223.4 71.6,223.5 72.5,223.4 73.4,223.4 74.4,223.7 75.3,223.8 76.3,223.4 77.2,223.1 78.2,223.4 79.1,223.7 80.1,223.6 81.0,223.4 81.9,223.5 82.9,223.5 83.8,223.5 84.8,223.5 85.7,223.5 86.7,223.5 87.6,223.5 88.6,223.6 89.5,223.6 90.4,223.5 91.4,223.3 92.3,223.3 93.3,223.5 94.2,223.8 95.2,223.6 96.1,223.3 97.1,223.4 98.0,223.7 98.9,223.5 99.9,223.3 100.8,223.4 101.8,223.6 102.7,223.6 103.7,223.5 104.6,223.5 105.6,223.4 106.5,223.3 107.4,223.5 108.4,223.7 109.3,223.6 110.3,223.5 111.2,223.4 112.2,223.4 113.1,223.4 114.1,223.6 115.0,223.7 115.9,223.5 116.9,223.3 117.8,223.4 118.8,223.5 119.7,223.6 120.7,223.7 121.6,223.6 122.6,223.3 123.5,223.4 124.4,223.6 125.4,223.5 126.3,223.5 127.3,223.6 128.2,223.5 129.2,223.3 130.1,223.4 131.1,223.7 131.8,223.7 M136.2,223.5 136.8,223.5 137.5,223.3 138.1,223.5 138.7,223.6 139.3,223.5 140.0,223.6 140.6,223.5 141.2,223.4 141.9,223.4 142.5,223.5 143.1,223.6 143.8,223.6 144.4,223.5 145.0,223.6 145.6,223.5 146.3,223.4 146.9,223.4 147.5,223.4 148.2,223.7 148.8,223.6 149.4,223.5 150.1,223.6 150.7,223.3 151.3,223.4 151.9,223.6 152.6,223.4 153.2,223.6 153.8,223.5 154.5,223.6 155.1,223.5 155.7,223.1 156.3,223.5 157.0,223.8 157.6,223.6 158.2,223.4 158.9,223.2 159.5,223.6 160.1,223.7 160.8,223.4 161.4,223.6 162.0,223.4 162.6,223.4 163.3,223.6 163.9,223.4 164.5,223.5 165.2,223.5 165.8,223.6 166.4,223.7 167.1,223.4 167.7,223.3 168.3,223.5 168.9,223.6 169.6,223.6 170.2,223.5 170.8,223.6 171.5,223.6 172.1,223.3 172.7,223.4 173.3,223.6 174.0,223.6 174.6,223.5 175.2,223.5 175.9,223.6 176.5,223.4 177.1,223.4 177.8,223.5 178.4,223.5 179.0,223.6 179.6,223.6 180.3,223.4 180.9,223.4 181.5,223.5 182.2,223.5 182.8,223.5 183.4,223.6 184.0,223.5 184.2,223.5 184.4,223.5 184.7,223.4 184.9,223.5 185.2,223.5 185.3,223.5 185.4,223.5 185.6,223.5 185.9,223.5 185.9,223.5 186.1,223.5 186.3,223.5 186.6,223.6 186.8,223.6 187.0,223.5 187.2,223.5 187.3,223.4 187.5,223.4 187.7,223.4 187.8,223.4 188.0,223.4 188.2,223.4 188.5,223.5 188.7,223.6 189.1,223.7 189.7,223.5 190.3,223.5 191.0,223.5 191.6,223.4 192.2,223.5 192.9,223.5 193.5,223.4 194.1,223.7 194.8,223.6 195.4,223.2 196.0,223.5 196.6,223.6 197.3,223.4 197.9,223.6 198.5,223.6 199.2,223.5 199.3,223.5 199.5,223.5 199.6,223.4 199.8,223.4 199.9,223.4 200.1,223.3 200.3,223.3 200.4,223.4 200.6,223.4 200.7,223.4 200.9,223.5 201.0,223.5 201.2,223.6 201.4,223.6 201.5,223.6 201.7,223.6 201.8,223.6 202.0,223.6 202.2,223.6 202.3,223.6 202.5,223.6 202.6,223.6 202.8,223.5 202.9,223.5 203.1,223.5 203.3,223.5 203.4,223.4 203.6,223.4 203.7,223.4 203.9,223.4 204.0,223.4 204.2,223.4 204.4,223.4 204.5,223.4 204.7,223.5 204.8,223.5 205.0,223.5 205.1,223.6 205.3,223.6 205.5,223.6 205.6,223.7 206.1,223.5 206.7,223.3 207.3,223.7 208.0,223.7 208.6,223.3 209.0,223.2 209.4,223.3 209.8,223.5 210.2,223.7 210.6,223.7 211.0,223.7 211.4,223.5 211.8,223.4 212.1,223.4 212.5,223.4 212.9,223.5 213.3,223.5 213.7,223.6 214.1,223.7 214.5,223.5 214.9,223.2 215.3,223.2 215.7,223.4 216.1,223.7 216.5,223.9 216.9,223.8 217.3,223.5 217.7,223.2 218.0,223.3 218.4,223.5 218.8,223.7 219.2,223.6 219.6,223.4 220.0,223.3 220.4,223.4 220.8,223.5 221.2,223.6 221.6,223.8 222.0,223.7 222.4,223.5 222.8,223.4 223.2,223.5 223.6,223.6 224.0,223.3 224.3,223.0 224.7,223.2 225.1,223.7 225.5,223.7 225.9,223.4 226.3,223.3 226.7,224.0 227.1,224.4 227.5,223.7 227.9,222.8 228.3,222.7 228.7,223.3 229.1,223.7 229.5,223.8 229.9,223.7 230.2,223.4 230.6,223.3 231.0,223.7 231.4,223.6 231.6,223.2 231.8,222.7 232.0,222.5 232.2,222.7 232.4,223.2 232.6,223.9 232.8,224.3 233.0,224.5 233.2,224.5 233.4,224.7 233.6,225.1 233.8,225.5 234.0,225.4 234.2,224.2 234.4,222.0 234.6,219.5 234.8,217.9 235.0,217.9 235.2,219.9 235.4,223.2 235.6,226.4 235.8,228.4 236.0,228.5 236.1,227.2 236.3,225.6 236.5,224.6 236.7,224.6 236.9,224.8 237.1,224.3 237.3,222.6 237.5,219.9 237.7,217.3 237.9,216.4 238.1,217.7 238.3,221.1 238.5,225.3 238.7,228.8 238.9,230.5 239.1,230.0 239.3,228.0 239.5,225.4 239.7,223.1 239.9,221.4 240.1,220.3 240.3,219.8 240.5,219.9 240.7,220.7 240.9,222.3 241.1,224.2 241.3,225.7 241.5,226.2 241.7,225.4 241.9,223.5 242.1,221.5 242.2,220.7 242.4,221.5 242.6,223.7 242.8,226.3 243.0,227.7 243.2,227.2 243.4,225.0 243.6,222.0 243.8,219.9 244.0,219.7 244.2,221.9 244.4,225.2 244.6,227.8 244.8,228.3 245.0,225.5 245.2,220.7 245.4,215.7 245.6,213.1 245.8,214.9 246.0,220.6 246.2,228.6 246.4,235.7 246.6,238.8 246.8,236.8 247.0,230.1 247.2,221.6 247.4,214.2 247.6,210.2 247.8,210.4 248.0,213.6 248.2,218.4 248.3,223.3 248.5,227.1 248.7,229.9 248.9,231.8 249.1,232.3 249.3,231.0 249.5,227.6 249.7,222.7 249.9,217.9 250.1,215.1 250.3,215.3 250.5,218.7 250.7,223.5 250.9,227.8 251.1,229.9 251.3,228.8 251.5,225.7 251.7,222.0 251.9,219.6 252.1,219.3 252.3,220.9 252.5,223.5 252.7,225.6 252.9,226.5 253.1,226.1 253.3,224.9 253.5,223.4 253.7,222.4 253.9,222.0 254.1,222.1 254.2,222.5 254.4,222.9 254.6,223.3 254.8,223.6 255.0,223.8 255.4,224.0 255.8,224.0 256.2,223.8 256.6,223.5 257.0,223.2 257.4,223.2 257.8,223.4 258.2,223.5 258.6,223.5 259.0,223.6 259.4,223.7 259.8,223.6 260.2,223.5 260.5,223.4 260.9,223.4 261.3,223.3 261.7,223.6 262.1,224.0 262.5,223.9 262.9,223.3 263.3,222.8 263.7,223.0 264.1,223.6 264.5,224.0 264.9,223.7 265.3,223.3 265.7,223.2 266.1,223.7 266.4,224.3 266.8,224.1 267.2,223.3 267.6,222.5 268.0,222.7 268.4,223.6 268.8,224.0 269.2,223.6 269.6,223.2 270.0,223.5 270.4,224.0 270.8,224.1 271.2,223.7 271.6,223.4 272.0,223.3 272.4,223.1 272.7,222.8 273.1,223.0 273.5,223.5 273.9,223.9 274.3,224.0 274.7,223.8 275.1,223.8 275.5,223.8 275.9,223.4 276.3,222.8 276.7,222.8 277.1,223.5 277.5,224.1 277.9,223.8 278.3,223.1 278.6,223.1 279.0,223.9 279.4,224.1 279.8,223.2 280.2,222.5 280.6,223.1 281.0,224.3 281.4,224.7 281.8,223.7 282.2,222.8 282.6,222.8 283.0,223.3 283.4,223.6 283.8,223.7 284.2,223.6 284.5,223.4 284.9,223.3 285.3,223.5 285.7,223.8 286.1,223.8 286.5,223.6 286.9,223.3 287.3,223.3 287.7,223.4 288.1,223.5 288.5,223.6 288.9,223.6 289.3,223.5 289.7,223.4 290.1,223.6 290.5,223.5 290.8,223.3 291.2,223.2 291.6,223.6 292.0,223.9 292.4,223.8 292.8,223.5 293.2,223.5 293.6,223.5 294.0,223.0 294.4,222.8 294.8,223.5 295.2,224.3 295.6,224.0 296.0,223.1 296.4,222.9 296.7,223.6 297.1,224.0 297.5,223.5 297.9,223.0 298.3,223.2 298.7,223.7 299.1,223.8 299.5,223.7 299.9,223.8 300.3,223.5 300.7,223.0 301.1,222.9 301.5,223.4" fill="none" stroke="#52dccd" stroke-width="1.55" stroke-linejoin="round"/>
<path d="M21.5,218.8 22.4,218.9 23.4,218.7 24.3,218.6 25.3,218.7 26.2,218.8 27.2,218.8 28.1,218.8 29.1,218.9 30.0,218.8 30.9,218.5 31.9,218.6 32.8,218.9 33.8,218.9 34.7,218.7 35.7,218.6 36.6,218.8 37.6,218.9 38.5,218.7 39.4,218.6 40.4,218.7 41.3,218.9 42.3,218.8 43.2,218.8 44.2,218.7 45.1,218.7 46.1,218.6 47.0,218.7 47.9,218.9 48.9,218.8 49.8,218.7 50.8,218.8 51.7,218.9 52.7,218.7 53.6,218.6 54.6,218.7 55.5,218.8 56.4,218.8 57.4,219.0 58.3,219.0 59.3,218.7 60.2,218.5 61.2,218.7 62.1,218.9 63.1,218.9 64.0,218.9 64.9,219.0 65.9,218.7 66.8,218.4 67.8,218.6 68.7,219.0 69.7,219.0 70.6,218.8 71.6,218.8 72.5,218.8 73.4,218.7 74.4,218.6 75.3,218.8 76.3,219.0 77.2,218.9 78.2,218.8 79.1,218.9 80.1,218.9 81.0,218.7 81.9,218.6 82.9,218.8 83.8,219.0 84.8,218.8 85.7,218.8 86.7,218.9 87.6,218.9 88.6,218.8 89.5,218.8 90.4,218.7 91.4,218.8 92.3,218.9 93.3,218.9 94.2,218.8 95.2,218.9 96.1,219.0 97.1,218.9 98.0,218.7 98.9,218.7 99.9,218.8 100.8,218.8 101.8,218.8 102.7,219.1 103.7,219.1 104.6,218.8 105.6,218.6 106.5,218.7 107.4,218.9 108.4,218.9 109.3,218.9 110.3,219.0 111.2,218.8 112.2,218.6 113.1,218.8 114.1,219.0 115.0,218.9 115.9,218.8 116.9,218.9 117.8,218.8 118.8,218.6 119.7,218.7 120.7,218.9 121.6,219.0 122.6,218.9 123.5,218.9 124.4,218.9 125.4,218.6 126.3,218.6 127.3,218.9 128.2,219.0 129.2,218.9 130.1,218.8 131.1,218.9 131.8,218.9 M136.2,219.0 136.8,218.7 137.5,218.8 138.1,218.9 138.7,219.0 139.3,218.8 140.0,218.8 140.6,219.0 141.2,218.9 141.9,218.7 142.5,218.9 143.1,219.0 143.8,218.8 144.4,218.8 145.0,219.0 145.6,218.8 146.3,218.8 146.9,218.9 147.5,218.7 148.2,218.9 148.8,219.0 149.4,218.9 150.1,219.0 150.7,218.8 151.3,218.9 151.9,219.0 152.6,218.9 153.2,219.0 153.8,219.1 154.5,219.0 155.1,219.0 155.7,218.8 156.3,218.9 157.0,219.2 157.6,219.3 158.2,219.0 158.9,218.8 159.5,219.0 160.1,219.1 160.8,219.0 161.4,219.1 162.0,218.9 162.6,218.7 163.3,218.9 163.9,218.9 164.5,219.1 165.2,219.1 165.8,218.8 166.4,218.9 167.1,218.8 167.7,218.8 168.3,219.0 168.9,218.9 169.6,218.9 170.2,218.9 170.8,218.9 171.5,219.0 172.1,218.9 172.7,218.9 173.3,219.1 174.0,219.2 174.6,219.1 175.2,219.1 175.9,219.1 176.5,218.8 177.1,218.8 177.8,219.0 178.4,218.7 179.0,219.0 179.6,219.1 180.3,218.6 180.9,218.9 181.5,219.0 182.2,218.7 182.8,218.8 183.4,219.0 184.0,218.9 184.2,218.9 184.4,218.8 184.7,218.8 184.9,218.8 185.2,218.8 185.3,218.7 185.4,218.7 185.6,218.6 185.9,218.6 185.9,218.6 186.1,218.6 186.3,218.6 186.6,218.7 186.8,218.7 187.0,218.7 187.2,218.7 187.3,218.7 187.5,218.6 187.7,218.6 187.8,218.6 188.0,218.6 188.2,218.7 188.5,218.9 188.7,219.0 189.1,219.0 189.7,218.8 190.3,218.8 191.0,218.8 191.6,218.8 192.2,218.9 192.9,218.9 193.5,218.9 194.1,218.9 194.8,218.9 195.4,218.7 196.0,218.8 196.6,219.0 197.3,218.8 197.9,218.8 198.5,219.0 199.2,218.9 199.3,218.9 199.5,218.9 199.6,218.9 199.8,218.9 199.9,218.9 200.1,218.8 200.3,218.8 200.4,218.7 200.6,218.7 200.7,218.6 200.9,218.7 201.0,218.7 201.2,218.8 201.4,218.9 201.5,219.0 201.7,219.0 201.8,219.1 202.0,219.0 202.2,219.0 202.3,218.9 202.5,218.9 202.6,218.8 202.8,218.8 202.9,218.8 203.1,218.9 203.3,218.9 203.4,218.9 203.6,218.9 203.7,218.9 203.9,218.8 204.0,218.8 204.2,218.8 204.4,218.7 204.5,218.7 204.7,218.7 204.8,218.8 205.0,218.9 205.1,218.9 205.3,219.0 205.5,219.0 205.6,219.0 206.1,218.8 206.7,218.7 207.3,219.0 208.0,219.1 208.6,218.7 209.0,218.5 209.4,218.6 209.8,218.7 210.2,219.0 210.6,219.1 211.0,219.0 211.4,218.8 211.8,218.6 212.1,218.6 212.5,218.7 212.9,218.8 213.3,218.8 213.7,218.8 214.1,218.8 214.5,218.5 214.9,218.4 215.3,218.7 215.7,219.0 216.1,219.1 216.5,218.8 216.9,218.4 217.3,218.3 217.7,218.5 218.0,218.8 218.4,218.8 218.8,218.7 219.2,218.6 219.6,218.6 220.0,218.7 220.4,218.6 220.8,218.5 221.2,218.6 221.6,218.6 222.0,218.6 222.4,218.5 222.8,218.7 223.2,218.8 223.6,218.7 224.0,218.4 224.3,218.3 224.7,218.5 225.1,218.6 225.5,218.5 225.9,218.5 226.3,218.7 226.7,218.9 227.1,218.8 227.5,218.5 227.9,218.4 228.3,218.3 228.7,218.1 229.1,218.4 229.5,219.2 229.9,219.4 230.2,218.5 230.6,217.8 231.0,218.3 231.4,218.7 231.6,218.4 231.8,218.0 232.0,217.9 232.2,218.0 232.4,218.4 232.6,218.8 232.8,219.1 233.0,219.4 233.2,219.7 233.4,220.2 233.6,220.8 233.8,221.0 234.0,220.2 234.2,218.3 234.4,215.8 234.6,213.7 234.8,213.1 235.0,214.4 235.2,217.3 235.4,220.4 235.6,222.4 235.8,222.5 236.0,221.1 236.1,219.4 236.3,218.9 236.5,219.9 236.7,221.9 236.9,223.1 237.1,221.9 237.3,218.3 237.5,213.3 237.7,209.2 237.9,208.2 238.1,210.9 238.3,216.5 238.5,222.8 238.7,227.3 238.9,228.8 239.1,227.0 239.3,223.3 239.5,219.0 239.7,215.5 239.9,213.5 240.1,212.8 240.3,213.5 240.5,215.2 240.7,217.9 240.9,221.0 241.1,223.3 241.3,223.8 241.5,222.0 241.7,218.3 241.9,214.1 242.1,211.6 242.2,212.4 242.4,216.4 242.6,222.0 242.8,226.4 243.0,227.5 243.2,224.8 243.4,219.6 243.6,214.6 243.8,212.3 244.0,213.3 244.2,216.9 244.4,220.8 244.6,222.4 244.8,221.1 245.0,217.3 245.2,213.4 245.4,211.8 245.6,213.6 245.8,218.4 246.0,224.1 246.2,228.2 246.4,229.1 246.6,226.3 246.8,221.3 247.0,215.8 247.2,211.6 247.4,209.8 247.6,210.1 247.8,212.1 248.0,215.2 248.2,218.9 248.3,222.6 248.5,225.5 248.7,226.9 248.9,226.0 249.1,223.1 249.3,218.8 249.5,214.7 249.7,212.2 249.9,212.2 250.1,214.5 250.3,218.1 250.5,221.3 250.7,223.0 250.9,222.8 251.1,221.2 251.3,219.2 251.5,217.6 251.7,217.0 251.9,217.2 252.1,217.6 252.3,218.0 252.5,218.1 252.7,218.1 252.9,218.5 253.1,219.2 253.3,220.2 253.5,220.8 253.7,220.8 253.9,220.0 254.1,218.7 254.2,217.4 254.4,216.6 254.6,216.6 254.8,217.4 255.0,218.4 255.4,220.1 255.8,220.1 256.2,219.1 256.6,218.2 257.0,218.1 257.4,218.3 257.8,218.6 258.2,218.9 258.6,219.2 259.0,219.2 259.4,219.0 259.8,218.7 260.2,218.6 260.5,218.8 260.9,218.8 261.3,218.7 261.7,218.9 262.1,219.2 262.5,219.1 262.9,218.5 263.3,218.1 263.7,218.5 264.1,219.2 264.5,219.5 264.9,219.1 265.3,218.6 265.7,218.5 266.1,218.8 266.4,219.0 266.8,219.1 267.2,218.9 267.6,218.5 268.0,218.5 268.4,219.0 268.8,219.3 269.2,219.0 269.6,218.4 270.0,218.4 270.4,218.9 270.8,219.2 271.2,219.0 271.6,218.9 272.0,219.1 272.4,219.3 272.7,218.9 273.1,218.3 273.5,218.3 273.9,218.7 274.3,218.9 274.7,218.7 275.1,218.6 275.5,219.1 275.9,219.6 276.3,219.5 276.7,218.9 277.1,218.5 277.5,218.7 277.9,218.9 278.3,218.6 278.6,218.1 279.0,218.5 279.4,219.4 279.8,219.6 280.2,218.9 280.6,218.3 281.0,218.8 281.4,219.6 281.8,219.4 282.2,218.3 282.6,218.0 283.0,219.0 283.4,219.7 283.8,219.2 284.2,218.3 284.5,218.2 284.9,218.6 285.3,218.9 285.7,218.9 286.1,219.0 286.5,219.4 286.9,219.4 287.3,219.1 287.7,218.8 288.1,218.6 288.5,218.5 288.9,218.5 289.3,218.7 289.7,218.8 290.1,218.8 290.5,218.8 290.8,219.1 291.2,219.3 291.6,219.0 292.0,218.6 292.4,218.9 292.8,219.5 293.2,219.5 293.6,218.4 294.0,217.6 294.4,217.9 294.8,219.1 295.2,219.6 295.6,219.1 296.0,218.6 296.4,218.9 296.7,219.4 297.1,219.4 297.5,218.9 297.9,218.6 298.3,218.5 298.7,218.5 299.1,218.5 299.5,218.8 299.9,219.0 300.3,218.8 300.7,218.7 301.1,219.2 301.5,219.8" fill="none" stroke="#6fd3ac" stroke-width="1.3" stroke-linejoin="round"/>
<path d="M21.5,212.4 22.4,212.2 23.4,212.1 24.3,212.2 25.3,212.3 26.2,212.1 27.2,211.9 28.1,212.1 29.1,212.4 30.0,212.4 30.9,212.1 31.9,212.0 32.8,212.1 33.8,212.1 34.7,212.0 35.7,212.2 36.6,212.3 37.6,212.1 38.5,211.9 39.4,212.0 40.4,212.3 41.3,212.2 42.3,212.0 43.2,212.1 44.2,212.2 45.1,212.0 46.1,212.0 47.0,212.2 47.9,212.2 48.9,212.2 49.8,212.2 50.8,212.2 51.7,212.1 52.7,212.2 53.6,212.3 54.6,212.2 55.5,212.0 56.4,212.2 57.4,212.2 58.3,212.1 59.3,212.3 60.2,212.5 61.2,212.3 62.1,212.0 63.1,212.1 64.0,212.3 64.9,212.2 65.9,212.2 66.8,212.4 67.8,212.5 68.7,212.3 69.7,212.2 70.6,212.2 71.6,212.2 72.5,212.3 73.4,212.3 74.4,212.3 75.3,212.4 76.3,212.6 77.2,212.4 78.2,212.1 79.1,212.3 80.1,212.4 81.0,212.4 81.9,212.3 82.9,212.4 83.8,212.4 84.8,212.2 85.7,212.4 86.7,212.5 87.6,212.5 88.6,212.3 89.5,212.3 90.4,212.3 91.4,212.3 92.3,212.3 93.3,212.6 94.2,212.6 95.2,212.3 96.1,212.1 97.1,212.4 98.0,212.7 98.9,212.5 99.9,212.2 100.8,212.2 101.8,212.4 102.7,212.5 103.7,212.5 104.6,212.4 105.6,212.4 106.5,212.4 107.4,212.5 108.4,212.4 109.3,212.2 110.3,212.3 111.2,212.4 112.2,212.5 113.1,212.5 114.1,212.5 115.0,212.4 115.9,212.3 116.9,212.3 117.8,212.4 118.8,212.5 119.7,212.5 120.7,212.5 121.6,212.3 122.6,212.3 123.5,212.4 124.4,212.6 125.4,212.5 126.3,212.3 127.3,212.4 128.2,212.4 129.2,212.3 130.1,212.4 131.1,212.5 131.8,212.5 M136.2,212.4 136.8,212.3 137.5,212.3 138.1,212.6 138.7,212.7 139.3,212.5 140.0,212.4 140.6,212.5 141.2,212.5 141.9,212.3 142.5,212.5 143.1,212.6 143.8,212.6 144.4,212.5 145.0,212.5 145.6,212.4 146.3,212.4 146.9,212.4 147.5,212.5 148.2,212.7 148.8,212.7 149.4,212.6 150.1,212.5 150.7,212.4 151.3,212.6 151.9,212.8 152.6,212.8 153.2,212.9 153.8,212.8 154.5,212.9 155.1,212.9 155.7,212.6 156.3,213.1 157.0,213.4 157.6,213.2 158.2,213.0 158.9,212.8 159.5,212.9 160.1,212.9 160.8,212.7 161.4,213.0 162.0,212.8 162.6,212.5 163.3,212.6 163.9,212.6 164.5,212.7 165.2,212.6 165.8,212.6 166.4,212.7 167.1,212.4 167.7,212.4 168.3,212.6 168.9,212.6 169.6,212.6 170.2,212.6 170.8,212.6 171.5,212.6 172.1,212.6 172.7,212.8 173.3,213.0 174.0,213.3 174.6,213.2 175.2,213.0 175.9,212.9 176.5,212.7 177.1,212.5 177.8,212.5 178.4,212.6 179.0,212.8 179.6,212.6 180.3,212.3 180.9,212.4 181.5,212.6 182.2,212.5 182.8,212.4 183.4,212.5 184.0,212.4 184.2,212.3 184.4,212.3 184.7,212.2 184.9,212.2 185.2,212.2 185.3,212.1 185.4,212.1 185.6,212.0 185.9,212.0 185.9,211.9 186.1,211.9 186.3,211.9 186.6,211.9 186.8,212.0 187.0,212.0 187.2,211.9 187.3,211.9 187.5,211.9 187.7,211.9 187.8,211.9 188.0,212.0 188.2,212.1 188.5,212.2 188.7,212.3 189.1,212.4 189.7,212.5 190.3,212.5 191.0,212.4 191.6,212.5 192.2,212.5 192.9,212.4 193.5,212.5 194.1,212.6 194.8,212.6 195.4,212.4 196.0,212.4 196.6,212.4 197.3,212.5 197.9,212.5 198.5,212.4 199.2,212.5 199.3,212.5 199.5,212.5 199.6,212.4 199.8,212.4 199.9,212.3 200.1,212.3 200.3,212.3 200.4,212.2 200.6,212.2 200.7,212.2 200.9,212.2 201.0,212.2 201.2,212.2 201.4,212.2 201.5,212.2 201.7,212.1 201.8,212.1 202.0,212.0 202.2,211.9 202.3,211.8 202.5,211.8 202.6,211.8 202.8,211.8 202.9,211.8 203.1,211.9 203.3,211.9 203.4,212.0 203.6,212.0 203.7,212.1 203.9,212.1 204.0,212.2 204.2,212.2 204.4,212.2 204.5,212.3 204.7,212.3 204.8,212.3 205.0,212.3 205.1,212.4 205.3,212.4 205.5,212.4 205.6,212.3 206.1,212.3 206.7,212.3 207.3,212.4 208.0,212.7 208.6,212.5 209.0,212.2 209.4,212.1 209.8,212.3 210.2,212.5 210.6,212.5 211.0,212.2 211.4,212.1 211.8,212.3 212.1,212.2 212.5,212.0 212.9,211.9 213.3,212.2 213.7,212.5 214.1,212.2 214.5,211.7 214.9,211.7 215.3,212.0 215.7,212.1 216.1,211.9 216.5,211.8 216.9,212.1 217.3,212.1 217.7,211.7 218.0,211.4 218.4,211.8 218.8,212.3 219.2,212.2 219.6,211.7 220.0,211.4 220.4,211.5 220.8,211.6 221.2,211.5 221.6,211.6 222.0,211.9 222.4,212.2 222.8,212.1 223.2,211.7 223.6,211.4 224.0,211.2 224.3,211.3 224.7,211.6 225.1,211.7 225.5,211.6 225.9,211.4 226.3,211.6 226.7,212.1 227.1,212.3 227.5,211.6 227.9,210.6 228.3,210.8 228.7,211.9 229.1,212.4 229.5,211.8 229.9,211.4 230.2,211.6 230.6,211.5 231.0,211.0 231.4,211.3 231.6,211.6 231.8,211.6 232.0,211.3 232.2,211.0 232.4,211.1 232.6,211.8 232.8,213.0 233.0,214.3 233.2,214.9 233.4,214.3 233.6,212.6 233.8,210.3 234.0,208.4 234.2,207.6 234.4,208.1 234.6,209.4 234.8,210.9 235.0,212.2 235.2,213.0 235.4,213.7 235.6,214.2 235.8,214.6 236.0,214.4 236.1,213.5 236.3,212.0 236.5,210.5 236.7,209.9 236.9,210.3 237.1,211.5 237.3,212.4 237.5,212.2 237.7,210.7 237.9,208.6 238.1,207.3 238.3,207.9 238.5,210.6 238.7,214.3 238.9,217.4 239.1,218.3 239.3,216.9 239.5,213.9 239.7,211.0 239.9,209.3 240.1,209.0 240.3,209.6 240.5,210.1 240.7,209.8 240.9,209.2 241.1,209.2 241.3,210.5 241.5,213.0 241.7,215.6 241.9,216.9 242.1,216.3 242.2,213.8 242.4,210.9 242.6,209.1 242.8,209.0 243.0,210.2 243.2,211.6 243.4,212.0 243.6,211.5 243.8,210.7 244.0,210.8 244.2,212.4 244.4,214.9 244.6,216.8 244.8,216.9 245.0,214.4 245.2,210.4 245.4,206.4 245.6,204.1 245.8,204.6 246.0,207.6 246.2,212.1 246.4,216.5 246.6,219.6 246.8,220.9 247.0,220.2 247.2,217.6 247.4,213.3 247.6,208.0 247.8,203.2 248.0,200.3 248.2,201.1 248.3,205.8 248.5,212.7 248.7,219.0 248.9,222.2 249.1,221.5 249.3,217.4 249.5,212.1 249.7,207.9 249.9,206.1 250.1,207.2 250.3,209.8 250.5,212.6 250.7,214.5 250.9,215.0 251.1,214.5 251.3,213.4 251.5,212.4 251.7,211.5 251.9,210.8 252.1,210.2 252.3,209.9 252.5,210.3 252.7,211.4 252.9,212.9 253.1,214.5 253.3,215.2 253.5,215.0 253.7,213.7 253.9,211.9 254.1,210.5 254.2,209.8 254.4,210.2 254.6,211.2 254.8,212.3 255.0,213.2 255.4,213.3 255.8,212.4 256.2,212.0 256.6,212.2 257.0,212.3 257.4,212.0 257.8,212.1 258.2,212.4 258.6,212.6 259.0,212.4 259.4,212.2 259.8,212.3 260.2,212.6 260.5,212.5 260.9,212.2 261.3,212.0 261.7,212.3 262.1,212.8 262.5,213.0 262.9,212.4 263.3,211.7 263.7,211.8 264.1,212.6 264.5,213.1 264.9,212.5 265.3,211.9 265.7,212.0 266.1,212.8 266.4,213.2 266.8,212.9 267.2,212.4 267.6,212.0 268.0,211.9 268.4,212.2 268.8,212.7 269.2,212.8 269.6,212.4 270.0,212.0 270.4,212.4 270.8,213.2 271.2,213.3 271.6,212.4 272.0,211.8 272.4,212.1 272.7,212.7 273.1,212.6 273.5,212.2 273.9,212.2 274.3,212.8 274.7,213.0 275.1,212.7 275.5,212.1 275.9,211.9 276.3,212.0 276.7,212.4 277.1,212.9 277.5,213.4 277.9,213.4 278.3,212.8 278.6,212.0 279.0,211.5 279.4,211.5 279.8,212.0 280.2,212.6 280.6,212.9 281.0,212.8 281.4,212.9 281.8,213.2 282.2,213.0 282.6,212.3 283.0,211.9 283.4,212.2 283.8,212.6 284.2,212.3 284.5,211.8 284.9,212.0 285.3,212.6 285.7,212.8 286.1,212.6 286.5,212.9 286.9,213.3 287.3,213.1 287.7,212.4 288.1,211.9 288.5,212.0 288.9,212.1 289.3,212.1 289.7,212.2 290.1,212.7 290.5,212.8 290.8,212.6 291.2,212.6 291.6,212.8 292.0,212.8 292.4,212.5 292.8,212.5 293.2,212.6 293.6,212.1 294.0,211.4 294.4,211.7 294.8,213.0 295.2,213.6 295.6,212.6 296.0,211.7 296.4,212.3 296.7,213.5 297.1,213.2 297.5,212.0 297.9,211.7 298.3,212.3 298.7,212.7 299.1,212.4 299.5,212.3 299.9,212.6 300.3,212.7 300.7,212.5 301.1,212.5 301.5,212.7" fill="none" stroke="#94bd78" stroke-width="1.3" stroke-linejoin="round"/>
<path d="M21.5,202.4 22.4,202.4 23.4,202.3 24.3,202.3 25.3,202.2 26.2,202.1 27.2,202.1 28.1,202.2 29.1,202.3 30.0,202.2 30.9,202.1 31.9,202.1 32.8,202.1 33.8,202.2 34.7,202.2 35.7,202.2 36.6,202.1 37.6,201.9 38.5,202.0 39.4,202.2 40.4,202.2 41.3,202.2 42.3,202.2 43.2,202.2 44.2,202.0 45.1,202.0 46.1,202.1 47.0,202.2 47.9,202.3 48.9,202.4 49.8,202.2 50.8,202.0 51.7,202.2 52.7,202.3 53.6,202.3 54.6,202.3 55.5,202.4 56.4,202.3 57.4,202.2 58.3,202.3 59.3,202.4 60.2,202.3 61.2,202.4 62.1,202.6 63.1,202.5 64.0,202.3 64.9,202.3 65.9,202.3 66.8,202.4 67.8,202.7 68.7,202.7 69.7,202.5 70.6,202.4 71.6,202.5 72.5,202.5 73.4,202.4 74.4,202.6 75.3,202.7 76.3,202.5 77.2,202.6 78.2,202.7 79.1,202.6 80.1,202.3 81.0,202.4 81.9,202.7 82.9,202.9 83.8,202.8 84.8,202.5 85.7,202.4 86.7,202.5 87.6,202.7 88.6,202.8 89.5,202.7 90.4,202.7 91.4,202.5 92.3,202.5 93.3,202.8 94.2,202.8 95.2,202.5 96.1,202.5 97.1,202.8 98.0,202.9 98.9,202.6 99.9,202.6 100.8,202.7 101.8,202.6 102.7,202.4 103.7,202.6 104.6,202.9 105.6,203.0 106.5,202.7 107.4,202.5 108.4,202.5 109.3,202.7 110.3,202.7 111.2,202.6 112.2,202.7 113.1,202.8 114.1,202.8 115.0,202.6 115.9,202.6 116.9,202.7 117.8,202.8 118.8,202.7 119.7,202.7 120.7,202.7 121.6,202.8 122.6,202.7 123.5,202.6 124.4,202.8 125.4,202.9 126.3,202.8 127.3,202.5 128.2,202.6 129.2,202.8 130.1,202.8 131.1,202.7 131.8,202.8 M136.2,202.9 136.8,202.9 137.5,202.8 138.1,203.0 138.7,202.9 139.3,202.8 140.0,202.9 140.6,202.9 141.2,202.8 141.9,202.8 142.5,202.7 143.1,203.0 143.8,203.0 144.4,202.9 145.0,202.9 145.6,202.8 146.3,202.8 146.9,203.0 147.5,203.0 148.2,203.1 148.8,202.9 149.4,203.0 150.1,203.3 150.7,203.0 151.3,203.3 151.9,203.2 152.6,203.2 153.2,203.7 153.8,203.5 154.5,203.6 155.1,203.8 155.7,203.5 156.3,204.1 157.0,204.3 157.6,204.1 158.2,204.1 158.9,203.6 159.5,203.7 160.1,203.8 160.8,203.5 161.4,203.7 162.0,203.2 162.6,203.0 163.3,203.3 163.9,203.1 164.5,203.2 165.2,203.3 165.8,203.0 166.4,203.0 167.1,202.9 167.7,202.8 168.3,203.0 168.9,203.1 169.6,203.1 170.2,203.0 170.8,203.1 171.5,203.2 172.1,203.1 172.7,203.5 173.3,204.1 174.0,204.4 174.6,204.2 175.2,203.9 175.9,203.6 176.5,203.3 177.1,203.2 177.8,203.0 178.4,202.8 179.0,203.2 179.6,203.2 180.3,202.8 180.9,202.9 181.5,202.9 182.2,202.8 182.8,202.9 183.4,202.9 184.0,202.6 184.2,202.5 184.4,202.5 184.7,202.4 184.9,202.3 185.2,202.2 185.3,202.2 185.4,202.1 185.6,202.0 185.9,201.8 185.9,201.8 186.1,201.7 186.3,201.7 186.6,201.7 186.8,201.6 187.0,201.6 187.2,201.6 187.3,201.7 187.5,201.7 187.7,201.9 187.8,201.9 188.0,202.1 188.2,202.3 188.5,202.5 188.7,202.6 189.1,202.8 189.7,202.8 190.3,202.8 191.0,202.8 191.6,202.8 192.2,202.8 192.9,202.9 193.5,202.9 194.1,202.9 194.8,202.9 195.4,202.8 196.0,202.8 196.6,202.7 197.3,202.8 197.9,202.8 198.5,202.7 199.2,202.8 199.3,202.8 199.5,202.7 199.6,202.6 199.8,202.5 199.9,202.3 200.1,202.1 200.3,202.0 200.4,201.9 200.6,201.7 200.7,201.6 200.9,201.4 201.0,201.3 201.2,201.1 201.4,200.9 201.5,200.7 201.7,200.6 201.8,200.4 202.0,200.3 202.2,200.2 202.3,200.1 202.5,200.1 202.6,200.1 202.8,200.1 202.9,200.1 203.1,200.1 203.3,200.2 203.4,200.3 203.6,200.4 203.7,200.6 203.9,200.7 204.0,200.9 204.2,201.1 204.4,201.2 204.5,201.4 204.7,201.5 204.8,201.6 205.0,201.8 205.1,202.0 205.3,202.1 205.5,202.3 205.6,202.4 206.1,202.3 206.7,202.1 207.3,202.6 208.0,203.0 208.6,202.6 209.0,202.4 209.4,202.4 209.8,202.5 210.2,202.8 210.6,202.8 211.0,202.5 211.4,202.1 211.8,202.1 212.1,202.3 212.5,202.3 212.9,201.9 213.3,201.8 213.7,202.1 214.1,202.3 214.5,201.8 214.9,201.4 215.3,201.7 215.7,202.4 216.1,202.4 216.5,201.7 216.9,201.3 217.3,201.4 217.7,201.6 218.0,201.6 218.4,201.5 218.8,201.4 219.2,201.4 219.6,201.5 220.0,201.4 220.4,201.3 220.8,201.3 221.2,201.4 221.6,201.7 222.0,201.8 222.4,201.4 222.8,201.0 223.2,200.9 223.6,200.9 224.0,200.8 224.3,200.7 224.7,201.1 225.1,201.6 225.5,201.6 225.9,201.2 226.3,201.0 226.7,201.4 227.1,201.5 227.5,200.9 227.9,200.0 228.3,200.0 228.7,201.0 229.1,201.9 229.5,202.1 229.9,201.3 230.2,200.4 230.6,200.3 231.0,201.2 231.4,201.6 231.6,201.2 231.8,200.6 232.0,200.1 232.2,200.0 232.4,200.6 232.6,201.6 232.8,202.7 233.0,203.5 233.2,203.7 233.4,203.3 233.6,202.4 233.8,201.4 234.0,200.3 234.2,199.4 234.4,198.7 234.6,198.4 234.8,198.7 235.0,199.4 235.2,200.4 235.4,201.4 235.6,202.1 235.8,202.3 236.0,202.5 236.1,203.1 236.3,204.5 236.5,206.3 236.7,207.3 236.9,206.6 237.1,203.4 237.3,198.2 237.5,192.9 237.7,189.5 237.9,190.2 238.1,194.7 238.3,201.7 238.5,208.5 238.7,212.5 238.9,212.9 239.1,209.7 239.3,205.0 239.5,200.5 239.7,197.4 239.9,195.8 240.1,195.2 240.3,195.4 240.5,196.4 240.7,198.7 240.9,202.4 241.1,206.8 241.3,210.1 241.5,210.4 241.7,207.2 241.9,201.2 242.1,195.1 242.2,191.8 242.4,192.7 242.6,197.7 242.8,203.9 243.0,208.3 243.2,209.3 243.4,206.8 243.6,202.9 243.8,200.0 244.0,199.5 244.2,201.3 244.4,203.5 244.6,204.2 244.8,202.7 245.0,199.3 245.2,195.7 245.4,194.0 245.6,195.0 245.8,198.7 246.0,203.7 246.2,208.5 246.4,211.6 246.6,212.3 246.8,210.6 247.0,206.9 247.2,202.0 247.4,196.7 247.6,192.4 247.8,190.3 248.0,191.2 248.2,195.2 248.3,201.1 248.5,206.4 248.7,209.6 248.9,209.9 249.1,208.1 249.3,205.4 249.5,202.9 249.7,201.3 249.9,200.5 250.1,200.0 250.3,199.7 250.5,199.6 250.7,199.9 250.9,201.0 251.1,202.7 251.3,204.2 251.5,204.9 251.7,204.2 251.9,202.6 252.1,200.7 252.3,199.6 252.5,200.0 252.7,201.7 252.9,203.8 253.1,205.4 253.3,205.6 253.5,204.4 253.7,202.4 253.9,200.6 254.1,199.6 254.2,199.7 254.4,200.8 254.6,202.0 254.8,203.0 255.0,203.4 255.4,203.1 255.8,202.5 256.2,202.5 256.6,202.5 257.0,202.5 257.4,202.6 257.8,202.5 258.2,202.1 258.6,202.1 259.0,202.6 259.4,203.2 259.8,203.1 260.2,202.7 260.5,202.2 260.9,202.0 261.3,202.4 261.7,203.0 262.1,203.4 262.5,203.1 262.9,202.4 263.3,202.1 263.7,202.5 264.1,202.8 264.5,202.8 264.9,202.7 265.3,202.9 265.7,203.1 266.1,203.1 266.4,203.1 266.8,203.1 267.2,202.7 267.6,201.9 268.0,201.9 268.4,202.8 268.8,203.7 269.2,203.5 269.6,202.7 270.0,202.5 270.4,203.2 270.8,203.7 271.2,203.2 271.6,202.3 272.0,201.9 272.4,202.3 272.7,202.8 273.1,203.0 273.5,203.0 273.9,203.3 274.3,203.6 274.7,203.4 275.1,202.6 275.5,202.0 275.9,202.3 276.3,203.2 276.7,203.5 277.1,203.1 277.5,202.7 277.9,202.6 278.3,202.6 278.6,202.5 279.0,202.8 279.4,203.4 279.8,203.4 280.2,202.5 280.6,202.2 281.0,203.1 281.4,204.0 281.8,203.4 282.2,201.9 282.6,201.6 283.0,202.9 283.4,203.8 283.8,203.2 284.2,202.2 284.5,202.1 284.9,202.8 285.3,203.5 285.7,203.7 286.1,203.5 286.5,202.9 286.9,202.2 287.3,202.2 287.7,202.9 288.1,203.4 288.5,202.8 288.9,202.0 289.3,202.2 289.7,203.3 290.1,203.7 290.5,203.2 290.8,202.9 291.2,203.1 291.6,203.0 292.0,202.4 292.4,202.4 292.8,203.4 293.2,203.6 293.6,202.3 294.0,201.1 294.4,202.0 294.8,204.0 295.2,204.3 295.6,202.8 296.0,202.1 296.4,203.1 296.7,204.1 297.1,203.4 297.5,201.9 297.9,201.7 298.3,202.5 298.7,202.9 299.1,202.7 299.5,202.7 299.9,203.2 300.3,203.5 300.7,203.4 301.1,203.1 301.5,202.8" fill="none" stroke="#c2b05c" stroke-width="1.3" stroke-linejoin="round"/>
<path d="M21.5,188.8 22.4,188.7 23.4,188.6 24.3,188.6 25.3,188.8 26.2,188.8 27.2,188.6 28.1,188.5 29.1,188.7 30.0,188.7 30.9,188.5 31.9,188.5 32.8,188.6 33.8,188.6 34.7,188.4 35.7,188.5 36.6,188.7 37.6,188.6 38.5,188.4 39.4,188.4 40.4,188.6 41.3,188.6 42.3,188.5 43.2,188.6 44.2,188.5 45.1,188.5 46.1,188.6 47.0,188.7 47.9,188.7 48.9,188.7 49.8,188.6 50.8,188.5 51.7,188.5 52.7,188.7 53.6,188.8 54.6,188.9 55.5,189.0 56.4,188.9 57.4,188.7 58.3,188.7 59.3,188.9 60.2,188.9 61.2,188.8 62.1,189.0 63.1,189.2 64.0,189.1 64.9,188.9 65.9,188.8 66.8,188.9 67.8,189.3 68.7,189.3 69.7,189.0 70.6,188.8 71.6,189.2 72.5,189.4 73.4,189.2 74.4,189.0 75.3,189.2 76.3,189.3 77.2,189.2 78.2,189.2 79.1,189.1 80.1,189.1 81.0,189.3 81.9,189.6 82.9,189.4 83.8,189.1 84.8,189.1 85.7,189.3 86.7,189.4 87.6,189.2 88.6,189.2 89.5,189.3 90.4,189.4 91.4,189.4 92.3,189.4 93.3,189.4 94.2,189.4 95.2,189.2 96.1,189.2 97.1,189.3 98.0,189.5 98.9,189.5 99.9,189.4 100.8,189.3 101.8,189.4 102.7,189.5 103.7,189.3 104.6,189.1 105.6,189.4 106.5,189.6 107.4,189.5 108.4,189.2 109.3,189.3 110.3,189.4 111.2,189.4 112.2,189.4 113.1,189.4 114.1,189.3 115.0,189.3 115.9,189.4 116.9,189.5 117.8,189.4 118.8,189.4 119.7,189.4 120.7,189.5 121.6,189.5 122.6,189.5 123.5,189.4 124.4,189.3 125.4,189.4 126.3,189.5 127.3,189.4 128.2,189.4 129.2,189.5 130.1,189.6 131.1,189.5 131.8,189.4 M136.2,189.8 136.8,189.6 137.5,189.4 138.1,189.6 138.7,189.8 139.3,189.6 140.0,189.7 140.6,189.8 141.2,189.5 141.9,189.6 142.5,189.7 143.1,189.6 143.8,189.7 144.4,189.7 145.0,189.6 145.6,189.6 146.3,189.7 146.9,189.7 147.5,189.7 148.2,189.9 148.8,189.9 149.4,189.9 150.1,189.9 150.7,190.0 151.3,190.2 151.9,190.2 152.6,190.4 153.2,190.6 153.8,190.6 154.5,190.8 155.1,190.8 155.7,190.8 156.3,191.4 157.0,191.7 157.6,191.7 158.2,191.4 158.9,190.8 159.5,190.9 160.1,190.8 160.8,190.5 161.4,190.8 162.0,190.5 162.6,190.2 163.3,190.2 163.9,189.9 164.5,190.0 165.2,190.1 165.8,189.8 166.4,189.8 167.1,189.9 167.7,189.8 168.3,190.0 168.9,190.0 169.6,189.6 170.2,189.7 170.8,190.3 171.5,190.3 172.1,190.1 172.7,190.5 173.3,191.2 174.0,191.9 174.6,192.0 175.2,191.2 175.9,190.7 176.5,190.2 177.1,190.0 177.8,189.9 178.4,189.8 179.0,189.9 179.6,189.8 180.3,189.7 180.9,189.8 181.5,189.7 182.2,189.6 182.8,189.7 183.4,189.7 184.0,189.2 184.2,189.1 184.4,188.9 184.7,188.8 184.9,188.8 185.2,188.7 185.3,188.6 185.4,188.5 185.6,188.3 185.9,188.1 185.9,188.0 186.1,187.9 186.3,187.8 186.6,187.8 186.8,187.9 187.0,188.0 187.2,188.1 187.3,188.1 187.5,188.1 187.7,188.1 187.8,188.2 188.0,188.3 188.2,188.5 188.5,188.9 188.7,189.3 189.1,189.6 189.7,189.4 190.3,189.5 191.0,189.6 191.6,189.4 192.2,189.6 192.9,189.7 193.5,189.6 194.1,189.6 194.8,189.6 195.4,189.3 196.0,189.4 196.6,189.6 197.3,189.5 197.9,189.4 198.5,189.2 199.2,188.7 199.3,188.6 199.5,188.5 199.6,188.3 199.8,188.1 199.9,187.9 200.1,187.7 200.3,187.3 200.4,187.0 200.6,186.6 200.7,186.1 200.9,185.6 201.0,185.0 201.2,184.4 201.4,183.8 201.5,183.2 201.7,182.5 201.8,181.8 202.0,181.2 202.2,180.6 202.3,180.3 202.5,180.1 202.6,180.2 202.8,180.4 202.9,180.7 203.1,181.1 203.3,181.5 203.4,181.9 203.6,182.3 203.7,182.8 203.9,183.2 204.0,183.7 204.2,184.2 204.4,184.6 204.5,185.1 204.7,185.5 204.8,185.9 205.0,186.3 205.1,186.6 205.3,186.9 205.5,187.1 205.6,187.3 206.1,187.8 206.7,188.3 207.3,188.7 208.0,189.2 208.6,189.1 209.0,188.8 209.4,188.7 209.8,188.8 210.2,189.1 210.6,189.1 211.0,188.9 211.4,188.8 211.8,188.7 212.1,188.6 212.5,188.3 212.9,188.1 213.3,188.3 213.7,188.5 214.1,188.3 214.5,187.8 214.9,187.5 215.3,188.1 215.7,188.7 216.1,188.6 216.5,187.9 216.9,187.5 217.3,187.4 217.7,187.4 218.0,187.3 218.4,187.6 218.8,188.1 219.2,188.1 219.6,187.5 220.0,187.0 220.4,187.1 220.8,187.5 221.2,187.5 221.6,187.4 222.0,187.2 222.4,187.2 222.8,187.2 223.2,187.3 223.6,187.2 224.0,186.9 224.3,186.6 224.7,187.0 225.1,187.5 225.5,187.2 225.9,186.4 226.3,186.3 226.7,187.3 227.1,187.9 227.5,187.1 227.9,186.2 228.3,186.4 228.7,187.3 229.1,187.4 229.5,186.9 229.9,186.8 230.2,187.0 230.6,186.7 231.0,186.4 231.4,187.0 231.6,187.5 231.8,187.8 232.0,187.7 232.2,187.2 232.4,186.7 232.6,186.3 232.8,186.5 233.0,187.3 233.2,188.3 233.4,189.2 233.6,189.4 233.8,188.8 234.0,187.5 234.2,186.0 234.4,184.7 234.6,184.2 234.8,184.5 235.0,185.5 235.2,186.8 235.4,188.0 235.6,188.8 235.8,189.3 236.0,189.3 236.1,189.2 236.3,189.0 236.5,188.8 236.7,188.8 236.9,188.7 237.1,188.3 237.3,187.3 237.5,185.8 237.7,183.8 237.9,182.2 238.1,181.6 238.3,183.0 238.5,186.3 238.7,190.7 238.9,194.9 239.1,196.9 239.3,196.0 239.5,192.0 239.7,186.5 239.9,181.6 240.1,179.0 240.3,180.1 240.5,183.9 240.7,188.9 240.9,192.9 241.1,194.1 241.3,192.3 241.5,188.4 241.7,184.5 241.9,182.4 242.1,183.0 242.2,186.2 242.4,190.3 242.6,193.2 242.8,193.6 243.0,191.0 243.2,186.9 243.4,183.3 243.6,182.1 243.8,184.3 244.0,188.9 244.2,193.8 244.4,196.6 244.6,195.4 244.8,190.4 245.0,183.5 245.2,177.6 245.4,175.6 245.6,178.3 245.8,185.0 246.0,192.9 246.2,198.9 246.4,201.2 246.6,199.2 246.8,194.3 247.0,188.6 247.2,183.9 247.4,181.3 247.6,180.5 247.8,181.0 248.0,182.3 248.2,184.3 248.3,187.2 248.5,190.6 248.7,193.7 248.9,195.6 249.1,195.6 249.3,193.5 249.5,190.1 249.7,186.5 249.9,183.8 250.1,183.0 250.3,183.9 250.5,186.1 250.7,188.7 250.9,191.0 251.1,192.5 251.3,192.6 251.5,191.6 251.7,189.6 251.9,187.3 252.1,185.5 252.3,184.8 252.5,185.7 252.7,187.7 252.9,190.2 253.1,192.1 253.3,192.5 253.5,191.6 253.7,189.5 253.9,187.4 254.1,186.1 254.2,186.0 254.4,187.0 254.6,188.6 254.8,190.0 255.0,190.7 255.4,190.2 255.8,188.8 256.2,188.4 256.6,188.8 257.0,189.0 257.4,188.8 257.8,188.7 258.2,189.1 258.6,189.8 259.0,190.0 259.4,189.3 259.8,188.7 260.2,189.0 260.5,189.5 260.9,189.3 261.3,188.8 261.7,189.0 262.1,189.8 262.5,190.0 262.9,189.6 263.3,189.3 263.7,189.3 264.1,189.4 264.5,189.4 264.9,189.4 265.3,189.2 265.7,189.1 266.1,189.6 266.4,190.5 266.8,190.7 267.2,189.7 267.6,188.6 268.0,188.5 268.4,189.3 268.8,189.9 269.2,190.0 269.6,190.1 270.0,190.0 270.4,189.5 270.8,189.2 271.2,189.7 271.6,190.1 272.0,189.8 272.4,189.0 272.7,189.0 273.1,189.8 273.5,190.3 273.9,190.1 274.3,189.6 274.7,189.1 275.1,189.0 275.5,189.4 275.9,190.1 276.3,190.3 276.7,189.8 277.1,189.4 277.5,189.9 277.9,190.2 278.3,189.4 278.6,188.4 279.0,188.8 279.4,189.9 279.8,190.2 280.2,189.5 280.6,189.6 281.0,190.6 281.4,190.9 281.8,189.8 282.2,188.5 282.6,188.4 283.0,189.3 283.4,190.0 283.8,190.1 284.2,189.8 284.5,189.4 284.9,189.4 285.3,189.9 285.7,190.3 286.1,189.9 286.5,189.1 286.9,189.0 287.3,189.6 287.7,190.2 288.1,190.2 288.5,189.9 288.9,189.2 289.3,188.7 289.7,188.9 290.1,189.8 290.5,190.3 290.8,189.9 291.2,189.5 291.6,189.9 292.0,190.5 292.4,190.2 292.8,189.3 293.2,188.8 293.6,188.7 294.0,188.6 294.4,189.0 294.8,190.6 295.2,191.6 295.6,190.5 296.0,188.7 296.4,188.8 296.7,190.4 297.1,190.7 297.5,189.0 297.9,187.9 298.3,188.9 298.7,190.1 299.1,190.2 299.5,190.0 299.9,190.2 300.3,190.1 300.7,189.3 301.1,189.3 301.5,190.2" fill="none" stroke="#e2a03a" stroke-width="1.3" stroke-linejoin="round"/>
<path d="M21.5,176.8 22.4,176.8 23.4,176.8 24.3,176.7 25.3,176.6 26.2,176.7 27.2,176.7 28.1,176.7 29.1,176.7 30.0,176.7 30.9,176.7 31.9,176.7 32.8,176.6 33.8,176.5 34.7,176.5 35.7,176.6 36.6,176.6 37.6,176.5 38.5,176.6 39.4,176.7 40.4,176.6 41.3,176.6 42.3,176.6 43.2,176.5 44.2,176.4 45.1,176.5 46.1,176.7 47.0,176.7 47.9,176.7 48.9,176.8 49.8,176.8 50.8,176.7 51.7,176.6 52.7,176.6 53.6,176.7 54.6,176.9 55.5,177.0 56.4,177.0 57.4,177.0 58.3,176.9 59.3,176.8 60.2,176.7 61.2,177.0 62.1,177.3 63.1,177.2 64.0,176.9 64.9,176.9 65.9,177.2 66.8,177.2 67.8,177.1 68.7,177.2 69.7,177.3 70.6,177.3 71.6,177.3 72.5,177.2 73.4,177.1 74.4,177.2 75.3,177.3 76.3,177.4 77.2,177.5 78.2,177.5 79.1,177.3 80.1,177.1 81.0,177.2 81.9,177.4 82.9,177.4 83.8,177.4 84.8,177.6 85.7,177.5 86.7,177.4 87.6,177.3 88.6,177.4 89.5,177.4 90.4,177.4 91.4,177.4 92.3,177.5 93.3,177.6 94.2,177.6 95.2,177.4 96.1,177.4 97.1,177.5 98.0,177.5 98.9,177.3 99.9,177.4 100.8,177.6 101.8,177.6 102.7,177.4 103.7,177.5 104.6,177.6 105.6,177.5 106.5,177.3 107.4,177.4 108.4,177.5 109.3,177.6 110.3,177.6 111.2,177.6 112.2,177.5 113.1,177.5 114.1,177.5 115.0,177.5 115.9,177.5 116.9,177.6 117.8,177.6 118.8,177.6 119.7,177.6 120.7,177.5 121.6,177.5 122.6,177.6 123.5,177.6 124.4,177.4 125.4,177.4 126.3,177.8 127.3,177.8 128.2,177.5 129.2,177.4 130.1,177.6 131.1,177.6 131.8,177.6 M136.2,177.8 136.8,177.7 137.5,177.8 138.1,177.9 138.7,177.8 139.3,177.7 140.0,177.8 140.6,178.0 141.2,177.8 141.9,177.6 142.5,177.7 143.1,178.0 143.8,177.9 144.4,177.9 145.0,177.9 145.6,177.6 146.3,177.9 146.9,178.0 147.5,177.7 148.2,178.2 148.8,178.2 149.4,177.9 150.1,178.1 150.7,178.1 151.3,178.4 151.9,178.7 152.6,178.6 153.2,178.7 153.8,178.8 154.5,179.0 155.1,179.2 155.7,179.1 156.3,179.7 157.0,180.2 157.6,180.1 158.2,179.5 158.9,179.2 159.5,179.3 160.1,179.1 160.8,178.7 161.4,179.0 162.0,178.8 162.6,178.3 163.3,178.3 163.9,178.3 164.5,178.2 165.2,178.3 165.8,178.1 166.4,178.0 167.1,177.9 167.7,177.9 168.3,178.1 168.9,178.2 169.6,177.9 170.2,177.9 170.8,178.3 171.5,178.4 172.1,178.4 172.7,178.9 173.3,179.5 174.0,180.3 174.6,180.2 175.2,179.5 175.9,179.1 176.5,178.5 177.1,178.1 177.8,178.1 178.4,178.1 179.0,178.0 179.6,178.0 180.3,177.8 180.9,178.0 181.5,177.8 182.2,177.6 182.8,177.8 183.4,177.7 184.0,177.3 184.2,177.2 184.4,177.0 184.7,177.0 184.9,176.9 185.2,176.7 185.3,176.6 185.4,176.5 185.6,176.3 185.9,176.0 185.9,176.0 186.1,175.8 186.3,175.7 186.6,175.6 186.8,175.7 187.0,175.8 187.2,175.9 187.3,175.9 187.5,176.0 187.7,176.2 187.8,176.2 188.0,176.4 188.2,176.6 188.5,176.9 188.7,177.2 189.1,177.5 189.7,177.6 190.3,177.6 191.0,177.5 191.6,177.4 192.2,177.6 192.9,177.8 193.5,177.6 194.1,177.5 194.8,177.5 195.4,177.4 196.0,177.3 196.6,177.2 197.3,177.1 197.9,176.8 198.5,176.2 199.2,175.1 199.3,174.6 199.5,174.0 199.6,173.3 199.8,172.5 199.9,171.5 200.1,170.4 200.3,169.2 200.4,167.9 200.6,166.4 200.7,164.7 200.9,163.0 201.0,161.0 201.2,159.0 201.4,156.8 201.5,154.4 201.7,152.0 201.8,149.7 202.0,147.5 202.2,145.6 202.3,144.4 202.5,143.9 202.6,144.2 202.8,144.8 202.9,145.8 203.1,147.1 203.3,148.6 203.4,150.2 203.6,151.9 203.7,153.7 203.9,155.3 204.0,157.0 204.2,158.5 204.4,160.0 204.5,161.3 204.7,162.6 204.8,163.8 205.0,165.0 205.1,166.2 205.3,167.3 205.5,168.4 205.6,169.3 206.1,171.5 206.7,173.2 207.3,174.7 208.0,175.6 208.6,175.6 209.0,175.7 209.4,175.9 209.8,176.1 210.2,176.4 210.6,176.5 211.0,176.2 211.4,175.8 211.8,175.8 212.1,176.2 212.5,176.2 212.9,175.8 213.3,175.5 213.7,175.9 214.1,176.2 214.5,175.9 214.9,175.3 215.3,175.4 215.7,176.0 216.1,176.2 216.5,175.8 216.9,175.4 217.3,175.3 217.7,175.1 218.0,175.1 218.4,175.6 218.8,176.1 219.2,175.7 219.6,174.8 220.0,174.6 220.4,175.1 220.8,175.4 221.2,175.2 221.6,175.0 222.0,175.1 222.4,175.1 222.8,174.9 223.2,175.1 223.6,175.3 224.0,175.0 224.3,174.4 224.7,174.4 225.1,174.9 225.5,174.8 225.9,174.2 226.3,174.3 226.7,175.4 227.1,175.9 227.5,174.9 227.9,173.9 228.3,174.2 228.7,175.2 229.1,175.4 229.5,174.8 229.9,174.5 230.2,174.6 230.6,174.7 231.0,174.6 231.4,174.4 231.6,174.3 231.8,174.3 232.0,174.4 232.2,174.7 232.4,175.2 232.6,175.8 232.8,176.3 233.0,176.8 233.2,177.0 233.4,177.0 233.6,176.6 233.8,175.8 234.0,174.7 234.2,173.3 234.4,172.2 234.6,171.7 234.8,172.0 235.0,173.0 235.2,174.6 235.4,176.0 235.6,176.9 235.8,177.1 236.0,176.8 236.1,176.6 236.3,176.8 236.5,177.5 236.7,178.3 236.9,178.5 237.1,177.4 237.3,175.1 237.5,172.0 237.7,169.3 237.9,168.2 238.1,169.0 238.3,172.0 238.5,176.0 238.7,179.9 238.9,182.5 239.1,183.1 239.3,181.8 239.5,179.0 239.7,175.7 239.9,172.7 240.1,170.7 240.3,170.2 240.5,171.2 240.7,173.5 240.9,176.2 241.1,178.3 241.3,179.1 241.5,178.2 241.7,176.0 241.9,173.8 242.1,172.6 242.2,173.5 242.4,176.0 242.6,178.9 242.8,180.5 243.0,179.7 243.2,176.8 243.4,173.3 243.6,171.1 243.8,171.7 244.0,174.9 244.2,179.3 244.4,182.4 244.6,182.4 244.8,179.1 245.0,173.8 245.2,168.9 245.4,166.8 245.6,168.1 245.8,172.5 246.0,177.9 246.2,182.3 246.4,184.6 246.6,184.6 246.8,183.1 247.0,180.7 247.2,177.8 247.4,174.5 247.6,170.9 247.8,167.6 248.0,166.0 248.2,167.3 248.3,171.9 248.5,178.0 248.7,183.3 248.9,185.7 249.1,184.7 249.3,180.9 249.5,176.4 249.7,173.2 249.9,172.2 250.1,173.4 250.3,175.7 250.5,177.7 250.7,178.6 250.9,178.2 251.1,177.2 251.3,176.1 251.5,175.4 251.7,175.3 251.9,175.4 252.1,175.6 252.3,176.0 252.5,176.6 252.7,177.6 252.9,178.7 253.1,179.6 253.3,179.7 253.5,178.9 253.7,177.3 253.9,175.5 254.1,174.2 254.2,173.9 254.4,174.5 254.6,175.7 254.8,177.1 255.0,178.2 255.4,178.9 255.8,177.9 256.2,176.7 256.6,176.2 257.0,176.5 257.4,177.1 257.8,177.6 258.2,177.5 258.6,177.1 259.0,177.0 259.4,177.3 259.8,177.7 260.2,177.7 260.5,177.3 260.9,177.1 261.3,177.4 261.7,177.7 262.1,177.5 262.5,177.4 262.9,177.5 263.3,177.6 263.7,177.3 264.1,177.3 264.5,177.9 264.9,178.2 265.3,177.5 265.7,176.8 266.1,177.4 266.4,178.7 266.8,178.9 267.2,177.8 267.6,176.9 268.0,177.0 268.4,177.5 268.8,177.6 269.2,177.7 269.6,178.2 270.0,178.5 270.4,178.1 270.8,177.7 271.2,177.7 271.6,177.8 272.0,177.6 272.4,177.7 272.7,178.0 273.1,177.8 273.5,177.2 273.9,177.3 274.3,178.3 274.7,178.7 275.1,177.6 275.5,176.5 275.9,177.1 276.3,178.7 276.7,179.1 277.1,178.3 277.5,177.4 277.9,177.3 278.3,177.4 278.6,177.4 279.0,177.8 279.4,178.1 279.8,177.6 280.2,176.9 280.6,177.3 281.0,178.6 281.4,179.4 281.8,178.7 282.2,177.4 282.6,177.0 283.0,177.6 283.4,178.1 283.8,177.5 284.2,176.6 284.5,176.6 284.9,177.8 285.3,179.1 285.7,179.1 286.1,178.1 286.5,177.6 286.9,178.1 287.3,178.2 287.7,177.4 288.1,176.4 288.5,176.7 288.9,177.8 289.3,178.5 289.7,178.5 290.1,178.2 290.5,177.9 290.8,177.6 291.2,177.4 291.6,177.6 292.0,177.8 292.4,178.1 292.8,178.5 293.2,178.6 293.6,177.6 294.0,176.1 294.4,176.2 294.8,178.1 295.2,179.3 295.6,178.4 296.0,177.1 296.4,177.7 296.7,179.0 297.1,178.6 297.5,177.0 297.9,176.4 298.3,177.2 298.7,177.9 299.1,177.8 299.5,178.1 299.9,178.7 300.3,178.6 300.7,177.6 301.1,177.0 301.5,177.5" fill="none" stroke="#f7931e" stroke-width="1.3" stroke-linejoin="round"/>
<path d="M21.5,165.0 22.4,164.9 23.4,165.1 24.3,165.2 25.3,165.0 26.2,165.0 27.2,165.1 28.1,165.0 29.1,164.8 30.0,164.9 30.9,165.0 31.9,165.0 32.8,165.0 33.8,164.9 34.7,164.8 35.7,164.8 36.6,164.8 37.6,164.8 38.5,164.8 39.4,164.9 40.4,165.0 41.3,164.9 42.3,164.9 43.2,164.9 44.2,164.8 45.1,164.8 46.1,165.0 47.0,165.0 47.9,164.9 48.9,165.1 49.8,165.1 50.8,165.0 51.7,164.9 52.7,165.1 53.6,165.2 54.6,165.1 55.5,165.1 56.4,165.1 57.4,165.2 58.3,165.4 59.3,165.3 60.2,165.1 61.2,165.3 62.1,165.5 63.1,165.3 64.0,165.2 64.9,165.3 65.9,165.5 66.8,165.4 67.8,165.5 68.7,165.7 69.7,165.5 70.6,165.4 71.6,165.6 72.5,165.6 73.4,165.3 74.4,165.4 75.3,165.9 76.3,165.9 77.2,165.6 78.2,165.5 79.1,165.7 80.1,165.6 81.0,165.5 81.9,165.6 82.9,165.7 83.8,165.7 84.8,165.9 85.7,165.9 86.7,165.7 87.6,165.6 88.6,165.7 89.5,165.7 90.4,165.7 91.4,165.7 92.3,165.7 93.3,165.8 94.2,166.0 95.2,165.9 96.1,165.6 97.1,165.5 98.0,165.8 98.9,165.9 99.9,165.8 100.8,165.7 101.8,165.8 102.7,165.8 103.7,165.9 104.6,165.9 105.6,165.7 106.5,165.6 107.4,165.8 108.4,165.9 109.3,165.9 110.3,165.8 111.2,165.8 112.2,165.9 113.1,165.9 114.1,165.7 115.0,165.7 115.9,165.8 116.9,166.0 117.8,165.9 118.8,165.8 119.7,165.8 120.7,165.8 121.6,165.9 122.6,166.0 123.5,165.9 124.4,165.7 125.4,165.8 126.3,165.9 127.3,166.0 128.2,166.0 129.2,165.9 130.1,165.8 131.1,165.8 131.8,166.0 M136.2,166.1 136.8,165.9 137.5,166.0 138.1,166.1 138.7,166.2 139.3,166.2 140.0,166.1 140.6,166.2 141.2,166.1 141.9,166.0 142.5,166.0 143.1,166.2 143.8,166.2 144.4,166.2 145.0,166.3 145.6,166.0 146.3,166.0 146.9,166.1 147.5,166.1 148.2,166.5 148.8,166.5 149.4,166.3 150.1,166.4 150.7,166.4 151.3,166.7 151.9,166.9 152.6,166.8 153.2,167.1 153.8,167.1 154.5,167.3 155.1,167.5 155.7,167.4 156.3,168.0 157.0,168.4 157.6,168.3 158.2,167.9 158.9,167.6 159.5,167.5 160.1,167.2 160.8,167.1 161.4,167.3 162.0,167.0 162.6,166.6 163.3,166.6 163.9,166.5 164.5,166.5 165.2,166.5 165.8,166.5 166.4,166.3 167.1,166.1 167.7,166.2 168.3,166.4 168.9,166.3 169.6,166.2 170.2,166.4 170.8,166.6 171.5,166.5 172.1,166.8 172.7,167.2 173.3,167.6 174.0,168.5 174.6,168.7 175.2,167.8 175.9,167.2 176.5,166.8 177.1,166.4 177.8,166.3 178.4,166.4 179.0,166.3 179.6,166.3 180.3,166.1 180.9,166.0 181.5,166.3 182.2,166.1 182.8,165.9 183.4,166.0 184.0,165.6 184.2,165.4 184.4,165.3 184.7,165.2 184.9,165.1 185.2,165.0 185.3,164.9 185.4,164.8 185.6,164.5 185.9,164.2 185.9,164.1 186.1,164.0 186.3,164.0 186.6,164.0 186.8,164.1 187.0,164.2 187.2,164.3 187.3,164.3 187.5,164.3 187.7,164.4 187.8,164.5 188.0,164.6 188.2,164.9 188.5,165.1 188.7,165.4 189.1,165.6 189.7,165.8 190.3,166.0 191.0,165.9 191.6,165.8 192.2,165.8 192.9,165.8 193.5,165.8 194.1,165.7 194.8,165.6 195.4,165.6 196.0,165.3 196.6,165.2 197.3,165.1 197.9,164.5 198.5,163.7 199.2,162.1 199.3,161.4 199.5,160.5 199.6,159.5 199.8,158.3 199.9,156.9 200.1,155.4 200.3,153.6 200.4,151.6 200.6,149.4 200.7,146.9 200.9,144.3 201.0,141.4 201.2,138.4 201.4,135.1 201.5,131.7 201.7,128.2 201.8,124.7 202.0,121.5 202.2,118.7 202.3,116.8 202.5,116.1 202.6,116.6 202.8,117.5 202.9,119.1 203.1,121.0 203.3,123.2 203.4,125.6 203.6,128.1 203.7,130.6 203.9,133.0 204.0,135.4 204.2,137.7 204.4,139.8 204.5,141.9 204.7,143.9 204.8,145.8 205.0,147.6 205.1,149.3 205.3,150.9 205.5,152.3 205.6,153.6 206.1,156.5 206.7,159.4 207.3,161.5 208.0,162.8 208.6,163.3 209.0,163.2 209.4,163.3 209.8,163.5 210.2,163.9 210.6,164.0 211.0,163.9 211.4,163.9 211.8,164.1 212.1,164.1 212.5,163.6 212.9,163.3 213.3,163.8 213.7,164.7 214.1,164.8 214.5,163.9 214.9,163.0 215.3,163.1 215.7,163.8 216.1,164.0 216.5,163.7 216.9,163.4 217.3,163.6 217.7,164.0 218.0,164.0 218.4,163.8 218.8,163.6 219.2,163.4 219.6,163.2 220.0,163.2 220.4,163.4 220.8,163.5 221.2,163.4 221.6,163.0 222.0,162.8 222.4,163.2 222.8,163.6 223.2,163.7 223.6,163.5 224.0,163.2 224.3,162.9 224.7,162.9 225.1,163.0 225.5,162.9 225.9,162.6 226.3,162.6 226.7,163.1 227.1,163.4 227.5,163.3 227.9,162.8 228.3,162.7 228.7,163.1 229.1,163.5 229.5,163.7 229.9,163.4 230.2,162.7 230.6,161.7 231.0,162.1 231.4,163.4 231.6,163.8 231.8,163.8 232.0,163.5 232.2,163.0 232.4,162.7 232.6,162.8 232.8,163.4 233.0,164.3 233.2,165.3 233.4,166.0 233.6,166.0 233.8,165.2 234.0,163.5 234.2,161.4 234.4,159.5 234.6,158.4 234.8,158.7 235.0,160.5 235.2,163.2 235.4,166.0 235.6,167.9 235.8,168.5 236.0,167.7 236.1,166.1 236.3,164.6 236.5,163.5 236.7,163.1 236.9,162.8 237.1,162.1 237.3,161.0 237.5,159.6 237.7,158.6 237.9,159.0 238.1,160.8 238.3,164.0 238.5,167.7 238.7,170.8 238.9,172.3 239.1,171.4 239.3,168.4 239.5,164.0 239.7,159.4 239.9,156.1 240.1,155.1 240.3,156.9 240.5,160.9 240.7,165.6 240.9,169.4 241.1,170.6 241.3,169.3 241.5,166.1 241.7,162.8 241.9,161.0 242.1,161.4 242.2,163.5 242.4,165.8 242.6,166.5 242.8,165.3 243.0,162.6 243.2,160.1 243.4,159.4 243.6,161.1 243.8,164.7 244.0,168.7 244.2,171.2 244.4,171.6 244.6,169.5 244.8,165.9 245.0,161.8 245.2,158.1 245.4,155.7 245.6,155.1 245.8,156.9 246.0,161.0 246.2,167.1 246.4,173.6 246.6,178.1 246.8,178.8 247.0,174.4 247.2,166.4 247.4,157.4 247.6,151.0 247.8,149.7 248.0,153.7 248.2,161.2 248.3,168.6 248.5,172.6 248.7,172.8 248.9,170.2 249.1,166.9 249.3,164.7 249.5,163.9 249.7,163.9 249.9,163.9 250.1,163.3 250.3,162.5 250.5,162.4 250.7,163.5 250.9,165.6 251.1,167.9 251.3,169.1 251.5,168.6 251.7,166.3 251.9,163.4 252.1,161.3 252.3,160.7 252.5,162.1 252.7,164.5 252.9,166.9 253.1,168.3 253.3,168.4 253.5,167.3 253.7,165.8 253.9,164.4 254.1,163.6 254.2,163.5 254.4,163.9 254.6,164.4 254.8,165.0 255.0,165.5 255.4,166.0 255.8,166.1 256.2,165.9 256.6,165.6 257.0,165.4 257.4,165.1 257.8,164.7 258.2,164.9 258.6,165.7 259.0,166.3 259.4,166.2 259.8,165.7 260.2,165.5 260.5,165.4 260.9,165.2 261.3,165.1 261.7,165.8 262.1,166.9 262.5,167.2 262.9,166.2 263.3,164.8 263.7,164.4 264.1,165.1 264.5,166.2 264.9,166.7 265.3,166.2 265.7,165.6 266.1,165.9 266.4,167.0 266.8,167.4 267.2,166.2 267.6,164.6 268.0,164.4 268.4,165.7 268.8,166.8 269.2,166.6 269.6,166.2 270.0,166.2 270.4,166.4 270.8,166.1 271.2,165.8 271.6,166.0 272.0,166.5 272.4,166.5 272.7,166.0 273.1,165.5 273.5,165.4 273.9,165.8 274.3,166.4 274.7,166.8 275.1,166.6 275.5,165.9 275.9,165.7 276.3,166.1 276.7,166.3 277.1,166.0 277.5,165.8 277.9,166.3 278.3,166.8 278.6,166.4 279.0,165.6 279.4,165.5 279.8,165.9 280.2,165.9 280.6,165.7 281.0,166.0 281.4,166.9 281.8,167.3 282.2,166.7 282.6,165.7 283.0,165.4 283.4,165.6 283.8,165.8 284.2,165.8 284.5,165.9 284.9,166.1 285.3,166.2 285.7,166.4 286.1,166.6 286.5,166.4 286.9,165.9 287.3,165.8 287.7,166.3 288.1,166.7 288.5,166.2 288.9,165.3 289.3,165.2 289.7,165.9 290.1,166.5 290.5,166.5 290.8,166.2 291.2,166.4 291.6,166.4 292.0,166.0 292.4,165.8 292.8,166.2 293.2,166.6 293.6,166.0 294.0,165.2 294.4,165.6 294.8,166.6 295.2,166.7 295.6,165.5 296.0,165.0 296.4,166.2 296.7,167.7 297.1,167.6 297.5,166.2 297.9,165.1 298.3,164.9 298.7,164.9 299.1,165.4 299.5,166.7 299.9,167.8 300.3,167.5 300.7,166.0 301.1,165.2 301.5,165.6" fill="none" stroke="#f8742e" stroke-width="1.3" stroke-linejoin="round"/>
<path d="M21.5,150.5 22.4,150.7 23.4,150.7 24.3,150.6 25.3,150.5 26.2,150.5 27.2,150.4 28.1,150.4 29.1,150.6 30.0,150.5 30.9,150.3 31.9,150.3 32.8,150.5 33.8,150.6 34.7,150.3 35.7,150.1 36.6,150.4 37.6,150.6 38.5,150.4 39.4,150.1 40.4,150.3 41.3,150.7 42.3,150.5 43.2,150.2 44.2,150.2 45.1,150.5 46.1,150.6 47.0,150.5 47.9,150.3 48.9,150.3 49.8,150.5 50.8,150.6 51.7,150.6 52.7,150.6 53.6,150.5 54.6,150.5 55.5,150.6 56.4,150.8 57.4,150.7 58.3,150.6 59.3,150.7 60.2,150.9 61.2,150.8 62.1,150.8 63.1,150.9 64.0,150.9 64.9,150.9 65.9,150.9 66.8,150.9 67.8,151.0 68.7,151.2 69.7,151.1 70.6,150.9 71.6,150.9 72.5,151.1 73.4,151.1 74.4,151.1 75.3,151.1 76.3,151.1 77.2,151.1 78.2,151.2 79.1,151.2 80.1,151.2 81.0,151.2 81.9,151.1 82.9,151.0 83.8,151.1 84.8,151.5 85.7,151.6 86.7,151.2 87.6,150.9 88.6,151.1 89.5,151.3 90.4,151.4 91.4,151.3 92.3,151.2 93.3,151.2 94.2,151.5 95.2,151.4 96.1,151.0 97.1,151.0 98.0,151.4 98.9,151.4 99.9,151.2 100.8,151.2 101.8,151.5 102.7,151.3 103.7,151.2 104.6,151.2 105.6,151.3 106.5,151.4 107.4,151.5 108.4,151.3 109.3,151.1 110.3,151.3 111.2,151.6 112.2,151.3 113.1,151.1 114.1,151.3 115.0,151.4 115.9,151.3 116.9,151.3 117.8,151.4 118.8,151.3 119.7,151.3 120.7,151.5 121.6,151.4 122.6,151.3 123.5,151.4 124.4,151.4 125.4,151.2 126.3,151.3 127.3,151.7 128.2,151.6 129.2,151.2 130.1,151.3 131.1,151.5 131.8,151.4 M136.2,151.6 136.8,151.4 137.5,151.6 138.1,151.6 138.7,151.6 139.3,151.7 140.0,151.5 140.6,151.6 141.2,151.7 141.9,151.5 142.5,151.5 143.1,151.6 143.8,151.6 144.4,151.6 145.0,151.7 145.6,151.7 146.3,151.6 146.9,151.7 147.5,151.7 148.2,151.8 148.8,151.9 149.4,151.8 150.1,152.0 150.7,151.9 151.3,152.2 151.9,152.4 152.6,152.3 153.2,152.6 153.8,152.7 154.5,152.7 155.1,153.1 155.7,153.0 156.3,153.4 157.0,154.0 157.6,153.9 158.2,153.3 158.9,152.9 159.5,153.2 160.1,152.8 160.8,152.4 161.4,152.8 162.0,152.5 162.6,152.1 163.3,152.2 163.9,152.0 164.5,152.0 165.2,152.0 165.8,151.9 166.4,151.9 167.1,151.6 167.7,151.7 168.3,151.9 168.9,152.0 169.6,151.8 170.2,151.6 170.8,152.0 171.5,152.1 172.1,152.2 172.7,152.7 173.3,153.3 174.0,154.2 174.6,154.1 175.2,153.0 175.9,152.7 176.5,152.3 177.1,152.0 177.8,152.0 178.4,151.8 179.0,151.7 179.6,151.7 180.3,151.6 180.9,151.5 181.5,151.5 182.2,151.7 182.8,151.7 183.4,151.3 184.0,151.0 184.2,150.9 184.4,150.8 184.7,150.7 184.9,150.5 185.2,150.3 185.3,150.2 185.4,150.1 185.6,149.9 185.9,149.8 185.9,149.7 186.1,149.6 186.3,149.6 186.6,149.5 186.8,149.5 187.0,149.5 187.2,149.5 187.3,149.6 187.5,149.7 187.7,149.9 187.8,150.0 188.0,150.2 188.2,150.5 188.5,150.8 188.7,151.0 189.1,151.1 189.7,151.1 190.3,151.3 191.0,151.3 191.6,151.2 192.2,151.2 192.9,151.2 193.5,151.2 194.1,151.2 194.8,150.9 195.4,150.7 196.0,150.7 196.6,150.6 197.3,150.1 197.9,149.5 198.5,148.6 199.2,146.4 199.3,145.4 199.5,144.3 199.6,143.0 199.8,141.5 199.9,139.7 200.1,137.7 200.3,135.3 200.4,132.8 200.6,129.9 200.7,126.8 200.9,123.3 201.0,119.6 201.2,115.6 201.4,111.4 201.5,106.9 201.7,102.3 201.8,97.7 202.0,93.5 202.2,89.9 202.3,87.5 202.5,86.6 202.6,87.2 202.8,88.5 202.9,90.5 203.1,93.0 203.3,95.8 203.4,98.9 203.6,102.1 203.7,105.4 203.9,108.6 204.0,111.7 204.2,114.7 204.4,117.5 204.5,120.3 204.7,122.8 204.8,125.3 205.0,127.6 205.1,129.7 205.3,131.7 205.5,133.5 205.6,135.2 206.1,139.3 206.7,143.1 207.3,145.5 208.0,147.0 208.6,147.8 209.0,148.0 209.4,148.2 209.8,148.6 210.2,149.1 210.6,149.4 211.0,149.2 211.4,148.8 211.8,148.5 212.1,148.6 212.5,148.9 212.9,149.2 213.3,149.4 213.7,149.5 214.1,149.2 214.5,148.7 214.9,148.6 215.3,149.2 215.7,149.9 216.1,149.8 216.5,149.0 216.9,148.4 217.3,148.5 217.7,148.7 218.0,148.6 218.4,148.8 218.8,149.3 219.2,149.7 219.6,149.4 220.0,148.7 220.4,148.4 220.8,148.4 221.2,148.5 221.6,148.6 222.0,148.7 222.4,148.9 222.8,149.0 223.2,148.8 223.6,148.7 224.0,148.5 224.3,148.3 224.7,148.1 225.1,148.4 225.5,148.7 225.9,148.5 226.3,148.1 226.7,148.2 227.1,148.9 227.5,149.2 227.9,148.6 228.3,147.9 228.7,148.2 229.1,148.9 229.5,148.8 229.9,148.2 230.2,148.1 230.6,148.3 231.0,148.3 231.4,148.4 231.6,148.6 231.8,148.8 232.0,148.9 232.2,148.9 232.4,148.8 232.6,148.9 232.8,149.4 233.0,150.2 233.2,150.9 233.4,151.0 233.6,150.3 233.8,148.9 234.0,147.3 234.2,146.1 234.4,145.9 234.6,146.4 234.8,147.4 235.0,148.1 235.2,148.3 235.4,148.4 235.6,148.7 235.8,149.9 236.0,151.9 236.1,154.0 236.3,155.0 236.5,154.5 236.7,152.0 236.9,148.4 237.1,144.8 237.3,142.3 237.5,141.7 237.7,142.8 237.9,145.2 238.1,148.1 238.3,151.0 238.5,153.5 238.7,155.4 238.9,156.3 239.1,155.9 239.3,154.0 239.5,150.9 239.7,147.3 239.9,144.3 240.1,142.8 240.3,143.2 240.5,145.1 240.7,147.6 240.9,149.9 241.1,151.4 241.3,152.1 241.5,152.5 241.7,152.8 241.9,153.0 242.1,152.8 242.2,151.7 242.4,149.8 242.6,147.3 242.8,145.2 243.0,144.3 243.2,144.8 243.4,146.9 243.6,149.8 243.8,152.9 244.0,155.5 244.2,156.8 244.4,156.6 244.6,154.4 244.8,150.6 245.0,145.7 245.2,141.1 245.4,138.5 245.6,139.1 245.8,143.7 246.0,150.9 246.2,158.7 246.4,164.2 246.6,165.1 246.8,161.2 247.0,153.7 247.2,145.3 247.4,139.0 247.6,136.6 247.8,138.6 248.0,143.4 248.2,149.3 248.3,154.2 248.5,156.8 248.7,157.3 248.9,156.2 249.1,154.2 249.3,152.0 249.5,149.8 249.7,148.0 249.9,147.0 250.1,147.2 250.3,148.2 250.5,149.9 250.7,151.4 250.9,152.2 251.1,152.2 251.3,151.4 251.5,150.4 251.7,149.6 251.9,149.5 252.1,149.8 252.3,150.4 252.5,151.0 252.7,151.3 252.9,151.4 253.1,151.4 253.3,151.2 253.5,151.0 253.7,150.6 253.9,150.1 254.1,149.6 254.2,149.4 254.4,149.5 254.6,150.1 254.8,150.9 255.0,151.6 255.4,152.0 255.8,151.3 256.2,151.0 256.6,151.1 257.0,150.8 257.4,150.1 257.8,150.0 258.2,150.8 258.6,151.6 259.0,151.9 259.4,151.5 259.8,151.0 260.2,150.7 260.5,150.9 260.9,151.3 261.3,151.5 261.7,151.4 262.1,151.3 262.5,151.4 262.9,151.4 263.3,151.1 263.7,150.8 264.1,151.0 264.5,151.5 264.9,151.6 265.3,151.2 265.7,151.2 266.1,152.2 266.4,153.0 266.8,152.5 267.2,151.0 267.6,150.0 268.0,150.2 268.4,151.1 268.8,151.8 269.2,152.2 269.6,152.1 270.0,151.8 270.4,151.8 270.8,152.2 271.2,152.1 271.6,151.1 272.0,150.5 272.4,151.1 272.7,151.9 273.1,151.8 273.5,151.2 273.9,151.7 274.3,152.6 274.7,152.1 275.1,150.5 275.5,150.1 275.9,151.6 276.3,152.9 276.7,152.6 277.1,151.7 277.5,151.6 277.9,151.7 278.3,151.0 278.6,150.5 279.0,151.1 279.4,151.9 279.8,151.9 280.2,151.4 280.6,151.7 281.0,152.5 281.4,152.4 281.8,151.5 282.2,150.8 282.6,151.0 283.0,151.5 283.4,152.0 283.8,152.2 284.2,151.8 284.5,150.9 284.9,150.4 285.3,151.0 285.7,152.0 286.1,152.4 286.5,152.3 286.9,152.2 287.3,151.9 287.7,151.3 288.1,150.9 288.5,151.0 288.9,151.3 289.3,151.3 289.7,151.4 290.1,151.9 290.5,152.1 290.8,151.8 291.2,151.6 291.6,151.7 292.0,151.9 292.4,151.7 292.8,151.7 293.2,151.8 293.6,151.3 294.0,150.3 294.4,150.4 294.8,152.0 295.2,153.2 295.6,152.4 296.0,151.1 296.4,151.3 296.7,152.2 297.1,152.0 297.5,150.7 297.9,150.4 298.3,151.4 298.7,152.2 299.1,152.1 299.5,151.9 299.9,152.0 300.3,151.6 300.7,151.1 301.1,151.3 301.5,152.0" fill="none" stroke="#f55648" stroke-width="1.3" stroke-linejoin="round"/>
<path d="M21.5,137.2 22.4,137.2 23.4,137.0 24.3,137.1 25.3,137.3 26.2,137.3 27.2,137.0 28.1,137.0 29.1,137.1 30.0,137.0 30.9,136.8 31.9,137.0 32.8,137.2 33.8,137.1 34.7,136.9 35.7,136.9 36.6,137.0 37.6,137.0 38.5,136.9 39.4,136.9 40.4,137.0 41.3,137.1 42.3,137.0 43.2,136.9 44.2,136.9 45.1,137.0 46.1,137.0 47.0,137.0 47.9,137.1 48.9,137.1 49.8,137.1 50.8,137.1 51.7,137.2 52.7,137.1 53.6,137.1 54.6,137.2 55.5,137.2 56.4,137.3 57.4,137.4 58.3,137.4 59.3,137.3 60.2,137.3 61.2,137.4 62.1,137.3 63.1,137.3 64.0,137.6 64.9,137.7 65.9,137.6 66.8,137.5 67.8,137.5 68.7,137.6 69.7,137.6 70.6,137.6 71.6,137.6 72.5,137.8 73.4,137.8 74.4,137.7 75.3,137.7 76.3,137.7 77.2,137.6 78.2,137.7 79.1,137.8 80.1,137.9 81.0,137.9 81.9,137.8 82.9,137.7 83.8,137.7 84.8,137.8 85.7,137.9 86.7,137.8 87.6,137.7 88.6,137.8 89.5,138.0 90.4,138.0 91.4,137.8 92.3,137.6 93.3,137.8 94.2,138.0 95.2,137.9 96.1,137.8 97.1,137.8 98.0,138.0 98.9,138.0 99.9,137.9 100.8,137.8 101.8,137.8 102.7,137.9 103.7,138.0 104.6,138.0 105.6,137.9 106.5,137.9 107.4,137.9 108.4,137.9 109.3,137.8 110.3,137.9 111.2,138.0 112.2,138.0 113.1,137.9 114.1,138.0 115.0,137.9 115.9,137.9 116.9,137.9 117.8,138.0 118.8,137.9 119.7,137.8 120.7,138.1 121.6,138.2 122.6,138.0 123.5,137.6 124.4,137.8 125.4,138.1 126.3,138.2 127.3,138.0 128.2,138.0 129.2,138.0 130.1,137.8 131.1,137.8 131.8,138.2 M136.2,138.2 136.8,138.2 137.5,138.1 138.1,138.2 138.7,138.3 139.3,138.2 140.0,138.2 140.6,138.2 141.2,138.2 141.9,138.2 142.5,138.1 143.1,138.2 143.8,138.2 144.4,138.2 145.0,138.3 145.6,138.2 146.3,138.3 146.9,138.2 147.5,138.1 148.2,138.5 148.8,138.5 149.4,138.4 150.1,138.6 150.7,138.6 151.3,138.7 151.9,138.9 152.6,139.0 153.2,139.1 153.8,139.1 154.5,139.5 155.1,139.7 155.7,139.5 156.3,140.0 157.0,140.6 157.6,140.3 158.2,139.9 158.9,139.6 159.5,139.6 160.1,139.6 160.8,139.2 161.4,139.3 162.0,139.0 162.6,138.6 163.3,138.8 163.9,138.7 164.5,138.6 165.2,138.7 165.8,138.4 166.4,138.4 167.1,138.3 167.7,138.3 168.3,138.4 168.9,138.5 169.6,138.4 170.2,138.4 170.8,138.6 171.5,138.6 172.1,138.7 172.7,139.4 173.3,140.0 174.0,140.5 174.6,140.7 175.2,139.9 175.9,139.3 176.5,138.8 177.1,138.6 177.8,138.5 178.4,138.4 179.0,138.3 179.6,138.3 180.3,138.2 180.9,138.1 181.5,138.2 182.2,138.3 182.8,138.0 183.4,137.8 184.0,137.7 184.2,137.7 184.4,137.5 184.7,137.3 184.9,137.1 185.2,137.0 185.3,136.9 185.4,136.8 185.6,136.6 185.9,136.3 185.9,136.2 186.1,136.1 186.3,135.9 186.6,135.9 186.8,136.0 187.0,136.2 187.2,136.2 187.3,136.3 187.5,136.4 187.7,136.5 187.8,136.5 188.0,136.7 188.2,136.9 188.5,137.2 188.7,137.5 189.1,137.8 189.7,137.6 190.3,137.7 191.0,137.8 191.6,137.8 192.2,137.9 192.9,137.7 193.5,137.5 194.1,137.5 194.8,137.5 195.4,137.3 196.0,137.1 196.6,136.8 197.3,136.3 197.9,135.8 198.5,134.6 199.2,131.7 199.3,130.5 199.5,129.1 199.6,127.5 199.8,125.6 199.9,123.4 200.1,120.9 200.3,118.0 200.4,114.9 200.6,111.4 200.7,107.6 200.9,103.5 201.0,98.9 201.2,94.0 201.4,88.8 201.5,83.2 201.7,77.5 201.8,71.8 202.0,66.6 202.2,62.2 202.3,59.3 202.5,58.2 202.6,59.0 202.8,60.7 202.9,63.2 203.1,66.2 203.3,69.7 203.4,73.4 203.6,77.3 203.7,81.2 203.9,85.1 204.0,88.9 204.2,92.6 204.4,96.2 204.5,99.6 204.7,102.8 204.8,105.8 205.0,108.6 205.1,111.2 205.3,113.6 205.5,115.9 205.6,118.0 206.1,123.1 206.7,127.7 207.3,130.7 208.0,132.8 208.6,133.5 209.0,133.6 209.4,134.0 209.8,134.6 210.2,135.2 210.6,135.3 211.0,135.1 211.4,134.8 211.8,135.0 212.1,135.4 212.5,135.6 212.9,135.2 213.3,135.1 213.7,135.6 214.1,136.0 214.5,135.6 214.9,135.0 215.3,135.2 215.7,135.9 216.1,135.9 216.5,135.3 216.9,135.0 217.3,135.1 217.7,135.4 218.0,135.6 218.4,136.0 218.8,136.0 219.2,135.5 219.6,135.0 220.0,135.0 220.4,135.2 220.8,135.0 221.2,134.9 221.6,135.2 222.0,135.6 222.4,135.6 222.8,135.5 223.2,135.7 223.6,135.6 224.0,134.7 224.3,134.0 224.7,134.4 225.1,135.4 225.5,135.6 225.9,134.9 226.3,134.7 226.7,135.4 227.1,135.7 227.5,135.1 227.9,134.5 228.3,134.9 228.7,135.5 229.1,135.3 229.5,134.7 229.9,134.7 230.2,135.0 230.6,135.0 231.0,135.3 231.4,135.7 231.6,135.6 231.8,135.1 232.0,134.4 232.2,133.9 232.4,134.0 232.6,134.8 232.8,136.3 233.0,137.8 233.2,138.8 233.4,138.8 233.6,137.6 233.8,135.6 234.0,133.4 234.2,131.8 234.4,131.1 234.6,131.5 234.8,132.8 235.0,134.6 235.2,136.5 235.4,138.0 235.6,138.7 235.8,138.6 236.0,137.8 236.1,136.9 236.3,136.2 236.5,136.1 236.7,136.4 236.9,136.8 237.1,136.6 237.3,135.4 237.5,133.3 237.7,131.1 237.9,129.9 238.1,130.3 238.3,132.9 238.5,136.9 238.7,141.0 238.9,143.9 239.1,144.3 239.3,142.2 239.5,138.1 239.7,133.4 239.9,129.6 240.1,127.9 240.3,128.9 240.5,132.1 240.7,136.5 240.9,140.4 241.1,142.4 241.3,142.0 241.5,139.3 241.7,135.6 241.9,132.5 242.1,131.2 242.2,132.4 242.4,135.3 242.6,138.2 242.8,139.8 243.0,139.2 243.2,137.0 243.4,134.7 243.6,133.6 243.8,134.5 244.0,136.9 244.2,139.6 244.4,141.1 244.6,140.5 244.8,137.9 245.0,134.5 245.2,131.6 245.4,130.1 245.6,130.4 245.8,132.2 246.0,134.8 246.2,137.8 246.4,140.9 246.6,143.8 246.8,145.9 247.0,146.1 247.2,143.9 247.4,138.9 247.6,132.3 247.8,125.9 248.0,122.1 248.2,122.9 248.3,128.4 248.5,136.3 248.7,143.7 248.9,148.0 249.1,148.2 249.3,144.8 249.5,139.7 249.7,134.8 249.9,131.7 250.1,131.2 250.3,132.6 250.5,135.1 250.7,137.7 250.9,139.4 251.1,139.8 251.3,139.2 251.5,137.9 251.7,136.5 251.9,135.5 252.1,135.3 252.3,135.8 252.5,136.8 252.7,137.8 252.9,138.5 253.1,138.8 253.3,138.5 253.5,137.9 253.7,137.3 253.9,136.7 254.1,136.3 254.2,136.2 254.4,136.3 254.6,136.6 254.8,137.1 255.0,137.6 255.4,138.5 255.8,138.3 256.2,137.5 256.6,137.1 257.0,137.5 257.4,137.4 257.8,136.9 258.2,137.1 258.6,138.1 259.0,138.4 259.4,137.7 259.8,137.3 260.2,137.7 260.5,138.0 260.9,137.8 261.3,137.8 261.7,138.1 262.1,138.1 262.5,137.7 262.9,137.7 263.3,137.8 263.7,137.7 264.1,137.5 264.5,138.0 264.9,138.8 265.3,138.6 265.7,137.6 266.1,137.4 266.4,138.5 266.8,139.3 267.2,138.4 267.6,137.1 268.0,137.1 268.4,138.1 268.8,138.6 269.2,138.3 269.6,138.2 270.0,138.4 270.4,138.4 270.8,138.1 271.2,138.1 271.6,138.4 272.0,138.4 272.4,138.2 272.7,138.1 273.1,138.0 273.5,137.8 273.9,137.7 274.3,138.1 274.7,138.7 275.1,138.6 275.5,137.9 275.9,137.6 276.3,138.1 276.7,138.8 277.1,138.9 277.5,138.5 277.9,138.0 278.3,137.6 278.6,137.6 279.0,138.0 279.4,138.3 279.8,138.2 280.2,138.0 280.6,138.4 281.0,138.9 281.4,138.7 281.8,138.0 282.2,137.7 282.6,138.2 283.0,138.6 283.4,138.4 283.8,137.9 284.2,137.5 284.5,137.5 284.9,137.9 285.3,138.4 285.7,138.8 286.1,138.6 286.5,138.2 286.9,138.4 287.3,139.1 287.7,139.0 288.1,137.7 288.5,136.7 288.9,136.9 289.3,137.9 289.7,138.6 290.1,138.7 290.5,138.7 290.8,138.6 291.2,138.2 291.6,137.9 292.0,138.3 292.4,139.0 292.8,138.9 293.2,138.0 293.6,137.0 294.0,136.9 294.4,137.6 294.8,138.4 295.2,138.8 295.6,138.9 296.0,138.9 296.4,138.8 296.7,138.5 297.1,138.1 297.5,137.9 297.9,137.7 298.3,137.5 298.7,137.3 299.1,137.7 299.5,138.7 299.9,139.4 300.3,139.0 300.7,138.1 301.1,137.8 301.5,138.2" fill="none" stroke="#f23e60" stroke-width="1.3" stroke-linejoin="round"/>
<path d="M21.5,121.6 22.4,121.8 23.4,121.9 24.3,121.8 25.3,121.5 26.2,121.6 27.2,121.9 28.1,121.8 29.1,121.6 30.0,121.6 30.9,121.6 31.9,121.5 32.8,121.5 33.8,121.7 34.7,121.7 35.7,121.6 36.6,121.5 37.6,121.5 38.5,121.6 39.4,121.6 40.4,121.5 41.3,121.5 42.3,121.6 43.2,121.6 44.2,121.5 45.1,121.6 46.1,121.8 47.0,121.7 47.9,121.5 48.9,121.5 49.8,121.8 50.8,122.0 51.7,121.8 52.7,121.6 53.6,121.7 54.6,121.8 55.5,121.9 56.4,121.8 57.4,121.9 58.3,122.1 59.3,122.0 60.2,121.8 61.2,122.0 62.1,122.2 63.1,121.9 64.0,121.8 64.9,122.2 65.9,122.4 66.8,122.3 67.8,122.0 68.7,122.1 69.7,122.2 70.6,122.2 71.6,122.3 72.5,122.4 73.4,122.3 74.4,122.3 75.3,122.3 76.3,122.4 77.2,122.3 78.2,122.3 79.1,122.4 80.1,122.4 81.0,122.3 81.9,122.3 82.9,122.4 83.8,122.5 84.8,122.5 85.7,122.4 86.7,122.4 87.6,122.3 88.6,122.3 89.5,122.4 90.4,122.6 91.4,122.6 92.3,122.3 93.3,122.4 94.2,122.6 95.2,122.6 96.1,122.3 97.1,122.2 98.0,122.5 98.9,122.5 99.9,122.4 100.8,122.5 101.8,122.8 102.7,122.6 103.7,122.2 104.6,122.3 105.6,122.6 106.5,122.6 107.4,122.4 108.4,122.5 109.3,122.8 110.3,122.7 111.2,122.4 112.2,122.3 113.1,122.5 114.1,122.6 115.0,122.5 115.9,122.5 116.9,122.6 117.8,122.8 118.8,122.7 119.7,122.4 120.7,122.3 121.6,122.5 122.6,122.9 123.5,122.9 124.4,122.5 125.4,122.3 126.3,122.6 127.3,122.7 128.2,122.6 129.2,122.5 130.1,122.6 131.1,122.7 131.8,122.6 M136.2,122.9 136.8,122.7 137.5,122.6 138.1,122.8 138.7,123.0 139.3,122.8 140.0,122.7 140.6,122.9 141.2,122.9 141.9,122.7 142.5,122.7 143.1,122.8 143.8,122.9 144.4,122.9 145.0,123.0 145.6,122.7 146.3,122.8 146.9,122.9 147.5,122.8 148.2,123.1 148.8,123.1 149.4,123.1 150.1,123.2 150.7,123.1 151.3,123.4 151.9,123.5 152.6,123.5 153.2,123.8 153.8,123.9 154.5,124.1 155.1,124.2 155.7,124.2 156.3,124.6 157.0,125.0 157.6,125.1 158.2,124.7 158.9,124.1 159.5,124.4 160.1,124.1 160.8,123.6 161.4,124.0 162.0,123.7 162.6,123.2 163.3,123.3 163.9,123.3 164.5,123.2 165.2,123.2 165.8,123.1 166.4,123.0 167.1,122.9 167.7,122.7 168.3,123.0 168.9,123.2 169.6,123.0 170.2,122.9 170.8,123.2 171.5,123.2 172.1,123.4 172.7,123.9 173.3,124.5 174.0,125.2 174.6,125.2 175.2,124.6 175.9,123.9 176.5,123.3 177.1,123.2 177.8,123.1 178.4,123.0 179.0,122.9 179.6,122.9 180.3,122.8 180.9,122.8 181.5,122.8 182.2,122.6 182.8,122.6 183.4,122.7 184.0,122.2 184.2,122.1 184.4,121.9 184.7,121.8 184.9,121.7 185.2,121.5 185.3,121.4 185.4,121.3 185.6,121.1 185.9,120.9 185.9,120.8 186.1,120.7 186.3,120.6 186.6,120.6 186.8,120.6 187.0,120.7 187.2,120.7 187.3,120.7 187.5,120.8 187.7,121.0 187.8,121.0 188.0,121.2 188.2,121.5 188.5,121.8 188.7,122.1 189.1,122.2 189.7,122.3 190.3,122.5 191.0,122.3 191.6,122.2 192.2,122.3 192.9,122.2 193.5,122.1 194.1,122.1 194.8,121.9 195.4,121.6 196.0,121.4 196.6,121.2 197.3,120.7 197.9,119.9 198.5,118.4 199.2,115.2 199.3,113.8 199.5,112.2 199.6,110.2 199.8,107.9 199.9,105.3 200.1,102.3 200.3,99.0 200.4,95.3 200.6,91.2 200.7,86.7 200.9,81.7 201.0,76.4 201.2,70.5 201.4,64.3 201.5,57.8 201.7,51.1 201.8,44.4 202.0,38.2 202.2,33.1 202.3,29.6 202.5,28.4 202.6,29.3 202.8,31.2 202.9,34.1 203.1,37.7 203.3,41.8 203.4,46.3 203.6,50.9 203.7,55.6 203.9,60.2 204.0,64.7 204.2,69.0 204.4,73.2 204.5,77.1 204.7,80.9 204.8,84.4 205.0,87.7 205.1,90.8 205.3,93.7 205.5,96.4 205.6,98.9 206.1,104.9 206.7,110.4 207.3,114.0 208.0,116.1 208.6,117.4 209.0,117.8 209.4,118.1 209.8,118.4 210.2,118.8 210.6,119.3 211.0,119.4 211.4,119.3 211.8,119.3 212.1,119.6 212.5,119.5 212.9,119.4 213.3,119.9 213.7,120.6 214.1,120.4 214.5,119.2 214.9,118.5 215.3,119.4 215.7,120.7 216.1,120.9 216.5,120.1 216.9,119.5 217.3,119.7 217.7,119.9 218.0,119.9 218.4,120.1 218.8,120.3 219.2,120.0 219.6,119.4 220.0,119.3 220.4,119.8 220.8,120.0 221.2,119.9 221.6,119.8 222.0,120.1 222.4,120.1 222.8,119.8 223.2,119.6 223.6,119.6 224.0,119.5 224.3,119.3 224.7,119.4 225.1,119.8 225.5,119.8 225.9,119.3 226.3,119.3 226.7,120.2 227.1,120.7 227.5,119.8 227.9,118.5 228.3,118.3 228.7,119.5 229.1,120.6 229.5,120.6 229.9,119.8 230.2,119.1 230.6,119.2 231.0,119.9 231.4,120.0 231.6,119.6 231.8,119.0 232.0,118.8 232.2,119.0 232.4,119.6 232.6,120.5 232.8,121.2 233.0,121.6 233.2,121.6 233.4,121.4 233.6,121.2 233.8,120.9 234.0,120.4 234.2,119.6 234.4,118.2 234.6,116.8 234.8,115.9 235.0,116.1 235.2,117.6 235.4,120.1 235.6,122.6 235.8,124.2 236.0,124.5 236.1,123.8 236.3,122.7 236.5,122.1 236.7,121.9 236.9,121.8 237.1,120.8 237.3,118.5 237.5,115.4 237.7,112.6 237.9,111.8 238.1,113.8 238.3,118.6 238.5,124.4 238.7,129.2 238.9,131.1 239.1,129.4 239.3,125.1 239.5,120.0 239.7,116.1 239.9,114.5 240.1,115.3 240.3,117.4 240.5,119.6 240.7,120.8 240.9,120.9 241.1,120.3 241.3,119.9 241.5,120.2 241.7,121.3 241.9,122.8 242.1,124.2 242.2,124.8 242.4,124.3 242.6,122.6 242.8,120.2 243.0,117.8 243.2,116.0 243.4,115.7 243.6,116.9 243.8,119.7 244.0,123.0 244.2,126.0 244.4,127.5 244.6,126.8 244.8,124.2 245.0,120.4 245.2,116.5 245.4,114.0 245.6,113.5 245.8,115.4 246.0,119.0 246.2,123.5 246.4,127.6 246.6,130.1 246.8,130.2 247.0,127.8 247.2,123.3 247.4,118.1 247.6,113.6 247.8,111.6 248.0,112.4 248.2,116.1 248.3,121.2 248.5,125.5 248.7,127.7 248.9,127.5 249.1,125.6 249.3,123.0 249.5,120.9 249.7,119.8 249.9,119.5 250.1,119.8 250.3,120.2 250.5,120.8 250.7,121.4 250.9,122.1 251.1,122.8 251.3,123.2 251.5,123.0 251.7,122.1 251.9,120.9 252.1,119.9 252.3,119.7 252.5,120.4 252.7,121.9 252.9,123.3 253.1,124.2 253.3,124.1 253.5,123.2 253.7,121.9 253.9,120.8 254.1,120.3 254.2,120.4 254.4,120.9 254.6,121.5 254.8,121.9 255.0,122.1 255.4,122.3 255.8,122.7 256.2,122.8 256.6,122.2 257.0,121.7 257.4,121.9 257.8,122.3 258.2,122.3 258.6,122.2 259.0,122.4 259.4,122.6 259.8,122.1 260.2,121.6 260.5,121.8 260.9,122.7 261.3,123.1 261.7,122.8 262.1,122.6 262.5,123.0 262.9,123.0 263.3,122.0 263.7,121.1 264.1,121.7 264.5,123.1 264.9,123.4 265.3,122.4 265.7,122.2 266.1,123.2 266.4,123.9 266.8,123.0 267.2,121.9 267.6,122.1 268.0,122.9 268.4,122.9 268.8,122.5 269.2,122.5 269.6,122.8 270.0,122.6 270.4,122.4 270.8,123.2 271.2,123.9 271.6,123.3 272.0,122.1 272.4,122.2 272.7,123.2 273.1,123.0 273.5,121.9 273.9,122.1 274.3,123.7 274.7,124.1 275.1,122.2 275.5,120.9 275.9,122.4 276.3,124.4 276.7,124.1 277.1,122.3 277.5,121.9 277.9,123.0 278.3,123.3 278.6,122.5 279.0,122.3 279.4,123.0 279.8,123.0 280.2,122.0 280.6,121.8 281.0,123.1 281.4,124.2 281.8,123.7 282.2,122.6 282.6,122.4 283.0,122.7 283.4,122.7 283.8,122.6 284.2,122.7 284.5,122.7 284.9,122.3 285.3,122.4 285.7,123.2 286.1,123.6 286.5,123.0 286.9,122.5 287.3,122.9 287.7,123.4 288.1,122.8 288.5,122.0 288.9,122.2 289.3,123.0 289.7,123.0 290.1,122.3 290.5,122.4 290.8,123.3 291.2,123.8 291.6,123.0 292.0,122.2 292.4,122.5 292.8,123.3 293.2,123.2 293.6,122.0 294.0,121.5 294.4,122.5 294.8,123.9 295.2,123.9 295.6,122.6 296.0,121.9 296.4,122.6 296.7,123.8 297.1,123.5 297.5,122.2 297.9,121.4 298.3,121.9 298.7,122.8 299.1,123.5 299.5,123.9 299.9,124.0 300.3,123.2 300.7,121.9 301.1,121.5 301.5,122.4" fill="none" stroke="#ec2c78" stroke-width="1.3" stroke-linejoin="round"/>
<path d="M368.5,226.1 369.4,226.3 370.4,226.3 371.3,226.2 372.3,226.3 373.2,226.3 374.2,226.2 375.1,226.1 376.1,226.2 377.0,226.2 377.9,226.2 378.9,226.2 379.8,226.2 380.8,226.2 381.7,226.3 382.7,226.4 383.6,226.1 384.6,225.9 385.5,226.2 386.4,226.3 387.4,226.3 388.3,226.3 389.3,226.3 390.2,226.1 391.2,226.0 392.1,226.3 393.1,226.3 394.0,226.1 394.9,226.1 395.9,226.2 396.8,226.2 397.8,226.2 398.7,226.4 399.7,226.3 400.6,226.0 401.6,225.8 402.5,226.2 403.4,226.6 404.4,226.5 405.3,226.1 406.3,226.1 407.2,226.2 408.2,226.1 409.1,226.1 410.1,226.2 411.0,226.3 411.9,226.3 412.9,226.2 413.8,226.2 414.8,226.2 415.7,226.2 416.7,226.1 417.6,226.1 418.6,226.2 419.5,226.2 420.4,226.3 421.4,226.3 422.3,226.4 423.3,226.2 424.2,226.0 425.2,226.0 426.1,226.2 427.1,226.2 428.0,226.2 428.9,226.3 429.9,226.4 430.8,226.3 431.8,226.1 432.7,226.1 433.7,226.1 434.6,226.2 435.6,226.3 436.5,226.3 437.4,226.1 438.4,226.1 439.3,226.4 440.3,226.4 441.2,226.1 442.2,226.0 443.1,226.2 444.1,226.3 445.0,226.2 445.9,226.3 446.9,226.2 447.8,226.1 448.8,226.1 449.7,226.3 450.7,226.4 451.6,226.2 452.6,226.0 453.5,226.0 454.4,226.1 455.4,226.4 456.3,226.5 457.3,226.3 458.2,226.0 459.2,226.0 460.1,226.2 461.1,226.3 462.0,226.3 462.9,226.2 463.9,226.0 464.8,226.1 465.8,226.4 466.7,226.3 467.7,226.2 468.6,226.1 469.6,226.2 470.5,226.2 471.4,226.2 472.4,226.2 473.3,226.2 474.3,226.2 475.2,226.2 476.2,226.2 477.1,226.2 478.1,226.1 478.8,226.1 M483.2,225.4 483.8,225.8 484.5,225.5 485.1,225.5 485.7,225.6 486.3,225.4 487.0,225.5 487.6,225.6 488.2,225.4 488.9,225.5 489.5,225.6 490.1,225.6 490.8,225.5 491.4,225.4 492.0,225.6 492.6,225.5 493.3,225.4 493.9,225.5 494.5,225.5 495.2,225.5 495.8,225.5 496.4,225.4 497.1,225.5 497.7,225.6 498.3,225.5 498.9,225.3 499.6,225.5 500.2,225.7 500.8,225.5 501.5,225.3 502.1,225.5 502.7,225.5 503.3,225.4 504.0,225.7 504.6,225.5 505.2,225.3 505.9,225.6 506.5,225.5 507.1,225.3 507.8,225.6 508.4,225.7 509.0,225.5 509.6,225.2 510.3,225.4 510.9,225.8 511.5,225.6 512.2,225.4 512.8,225.3 513.4,225.5 514.1,225.6 514.7,225.6 515.3,225.7 515.9,225.2 516.6,225.3 517.2,225.8 517.8,225.4 518.5,225.6 519.1,225.6 519.7,225.4 520.3,225.6 521.0,225.3 521.6,225.6 522.2,225.8 522.9,225.2 523.5,225.7 524.1,225.6 524.8,225.1 525.4,225.5 526.0,225.6 526.6,225.6 527.3,225.5 527.9,225.4 528.5,225.6 529.2,225.2 529.8,225.5 530.4,225.8 531.0,225.5 531.2,225.5 531.4,225.5 531.7,225.5 531.9,225.4 532.2,225.4 532.3,225.3 532.4,225.3 532.6,225.3 532.9,225.4 532.9,225.5 533.1,225.6 533.3,225.7 533.6,225.8 533.8,225.7 534.0,225.5 534.2,225.4 534.3,225.4 534.5,225.3 534.7,225.4 534.8,225.4 535.0,225.5 535.2,225.5 535.5,225.5 535.7,225.4 536.1,225.4 536.7,225.7 537.3,225.5 538.0,225.4 538.6,225.5 539.2,225.4 539.9,225.7 540.5,225.7 541.1,225.3 541.8,225.4 542.4,225.6 543.0,225.5 543.6,225.6 544.3,225.7 544.9,225.4 545.5,225.3 546.2,225.5 546.3,225.5 546.5,225.4 546.6,225.4 546.8,225.4 546.9,225.5 547.1,225.6 547.3,225.7 547.4,225.8 547.6,225.8 547.7,225.8 547.9,225.8 548.0,225.7 548.2,225.6 548.4,225.4 548.5,225.3 548.7,225.3 548.8,225.2 549.0,225.3 549.2,225.3 549.3,225.4 549.5,225.5 549.6,225.5 549.8,225.6 549.9,225.6 550.1,225.6 550.3,225.6 550.4,225.5 550.6,225.5 550.7,225.5 550.9,225.4 551.0,225.4 551.2,225.4 551.4,225.4 551.5,225.4 551.7,225.4 551.8,225.5 552.0,225.6 552.1,225.7 552.3,225.8 552.5,225.8 552.6,225.7 553.1,225.4 553.7,225.4 554.3,225.7 555.0,225.4 555.6,225.4 556.0,225.5 556.4,225.4 556.8,225.4 557.2,225.5 557.6,225.9 558.0,225.9 558.4,225.6 558.8,225.4 559.1,225.5 559.5,225.3 559.9,224.9 560.3,224.9 560.7,225.4 561.1,225.6 561.5,225.3 561.9,225.4 562.3,226.1 562.7,226.4 563.1,225.8 563.5,225.4 563.9,226.3 564.3,227.0 564.7,226.0 565.0,223.7 565.4,222.4 565.8,223.4 566.2,225.5 566.6,226.9 567.0,227.0 567.4,226.8 567.8,227.0 568.2,226.8 568.6,225.4 569.0,223.5 569.4,223.2 569.8,224.8 570.2,226.3 570.6,225.8 571.0,224.6 571.3,225.0 571.7,227.0 572.1,227.9 572.5,226.6 572.9,224.6 573.3,224.0 573.7,224.6 574.1,225.2 574.5,225.2 574.9,225.3 575.3,226.1 575.7,226.9 576.1,226.7 576.5,225.4 576.9,223.8 577.2,223.8 577.6,225.4 578.0,226.7 578.4,226.3 578.6,225.8 578.8,225.5 579.0,225.6 579.2,226.1 579.4,226.6 579.6,226.8 579.8,226.4 580.0,225.5 580.2,224.0 580.4,223.1 580.6,223.2 580.8,224.5 581.0,226.3 581.2,227.6 581.4,227.6 581.6,226.3 581.8,224.4 582.0,222.9 582.2,222.6 582.4,223.3 582.6,224.8 582.8,226.5 583.0,227.9 583.1,229.0 583.3,229.4 583.5,228.7 583.7,226.6 583.9,223.7 584.1,220.9 584.3,219.3 584.5,220.0 584.7,222.7 584.9,226.5 585.1,229.9 585.3,231.3 585.5,230.4 585.7,227.7 585.9,224.7 586.1,223.0 586.3,223.4 586.5,225.5 586.7,227.7 586.9,227.9 587.1,225.3 587.3,220.8 587.5,217.1 587.7,217.3 587.9,222.4 588.1,230.6 588.3,238.0 588.5,239.7 588.7,234.7 588.9,225.2 589.1,216.9 589.2,214.8 589.4,218.7 589.6,224.8 589.8,228.1 590.0,226.2 590.2,221.6 590.4,218.9 590.6,221.3 590.8,228.7 591.0,236.2 591.2,238.7 591.4,234.2 591.6,224.9 591.8,216.6 592.0,214.2 592.2,218.3 592.4,225.7 592.6,231.3 592.8,231.5 593.0,227.1 593.2,221.3 593.4,218.2 593.6,219.8 593.8,224.8 594.0,230.5 594.2,234.2 594.4,234.3 594.6,231.5 594.8,226.8 595.0,221.8 595.2,217.9 595.3,216.3 595.5,218.0 595.7,222.0 595.9,226.7 596.1,230.4 596.3,231.6 596.5,230.4 596.7,227.9 596.9,225.8 597.1,224.8 597.3,224.7 597.5,224.7 597.7,224.0 597.9,222.6 598.1,221.7 598.3,222.1 598.5,224.1 598.7,226.8 598.9,228.8 599.1,229.1 599.3,227.8 599.5,225.4 599.7,223.0 599.9,221.6 600.1,221.5 600.3,222.3 600.5,223.2 600.7,223.5 600.9,223.4 601.1,222.7 601.2,221.8 601.4,221.2 601.6,221.2 601.8,221.8 602.0,222.9 602.4,224.5 602.8,223.1 603.2,220.7 603.6,220.7 604.0,223.1 604.4,224.6 604.8,224.3 605.2,223.6 605.6,222.7 606.0,220.6 606.4,218.9 606.8,220.4 607.2,224.1 607.5,226.0 607.9,224.6 608.3,222.5 608.7,222.2 609.1,223.1 609.5,223.2 609.9,222.1 610.3,220.9 610.7,220.6 611.1,222.1 611.5,224.3 611.9,224.9 612.3,222.9 612.7,221.1 613.1,221.9 613.4,223.6 613.8,223.3 614.2,222.0 614.6,223.0 615.0,225.1 615.4,223.9 615.8,219.7 616.2,218.2 616.6,221.8 617.0,225.2 617.4,224.2 617.8,221.9 618.2,222.8 618.6,225.3 619.0,224.7 619.4,221.4 619.7,220.0 620.1,221.5 620.5,222.5 620.9,221.9 621.3,222.1 621.7,223.9 622.1,224.8 622.5,223.3 622.9,221.8 623.3,222.0 623.7,222.8 624.1,222.4 624.5,222.3 624.9,223.6 625.3,224.8 625.6,223.7 626.0,221.3 626.4,220.6 626.8,222.6 627.2,224.8 627.6,225.0 628.0,223.3 628.4,221.4 628.8,221.2 629.2,223.3 629.6,226.0 630.0,226.2 630.4,223.3 630.8,220.6 631.2,221.3 631.5,224.1 631.9,225.0 632.3,223.3 632.7,222.0 633.1,223.2 633.5,225.1 633.9,224.9 634.3,223.2 634.7,222.3 635.1,223.4 635.5,224.9 635.9,225.2 636.3,224.5 636.7,223.5 637.1,222.9 637.5,222.8 637.8,223.0 638.2,223.3 638.6,223.8 639.0,224.8 639.4,225.6 639.8,225.1 640.2,223.6 640.6,223.1 641.0,224.6 641.4,226.0 641.8,224.6 642.2,221.2 642.6,220.0 643.0,223.4 643.4,227.5 643.7,227.4 644.1,223.6 644.5,221.3 644.9,223.2 645.3,226.0 645.7,225.8 646.1,223.6 646.5,223.3 646.9,224.8 647.3,224.9 647.7,223.0 648.1,222.3 648.5,224.3" fill="none" stroke="#52dccd" stroke-width="1.55" stroke-linejoin="round"/>
<path d="M368.5,215.9 369.4,215.7 370.4,215.5 371.3,215.8 372.3,215.9 373.2,215.5 374.2,215.5 375.1,215.9 376.1,215.8 377.0,215.5 377.9,215.7 378.9,215.9 379.8,215.7 380.8,215.6 381.7,215.8 382.7,215.8 383.6,215.6 384.6,215.6 385.5,215.7 386.4,215.8 387.4,215.8 388.3,215.7 389.3,215.5 390.2,215.7 391.2,215.9 392.1,215.8 393.1,215.5 394.0,215.6 394.9,215.9 395.9,215.7 396.8,215.5 397.8,215.7 398.7,215.8 399.7,215.7 400.6,215.8 401.6,215.8 402.5,215.5 403.4,215.6 404.4,215.9 405.3,215.8 406.3,215.6 407.2,215.7 408.2,215.8 409.1,215.7 410.1,215.7 411.0,215.8 411.9,215.6 412.9,215.5 413.8,215.7 414.8,215.8 415.7,215.7 416.7,215.8 417.6,215.8 418.6,215.5 419.5,215.5 420.4,215.8 421.4,215.8 422.3,215.7 423.3,215.7 424.2,215.7 425.2,215.6 426.1,215.7 427.1,215.8 428.0,215.7 428.9,215.5 429.9,215.6 430.8,215.8 431.8,215.8 432.7,215.7 433.7,215.6 434.6,215.7 435.6,215.8 436.5,215.8 437.4,215.5 438.4,215.5 439.3,215.8 440.3,215.8 441.2,215.7 442.2,215.7 443.1,215.7 444.1,215.5 445.0,215.7 445.9,215.9 446.9,215.7 447.8,215.4 448.8,215.6 449.7,216.0 450.7,215.8 451.6,215.6 452.6,215.7 453.5,215.8 454.4,215.6 455.4,215.4 456.3,215.7 457.3,216.0 458.2,215.8 459.2,215.6 460.1,215.7 461.1,215.7 462.0,215.6 462.9,215.6 463.9,215.7 464.8,215.8 465.8,215.8 466.7,215.7 467.7,215.7 468.6,215.6 469.6,215.6 470.5,215.7 471.4,215.8 472.4,215.7 473.3,215.7 474.3,215.7 475.2,215.7 476.2,215.7 477.1,215.7 478.1,215.7 478.8,215.7 M483.2,215.2 483.8,215.4 484.5,215.1 485.1,215.2 485.7,215.2 486.3,215.1 487.0,215.3 487.6,215.1 488.2,215.1 488.9,215.5 489.5,215.1 490.1,215.1 490.8,215.3 491.4,215.2 492.0,215.3 492.6,215.1 493.3,215.3 493.9,215.4 494.5,215.2 495.2,215.4 495.8,215.3 496.4,215.3 497.1,215.7 497.7,215.6 498.3,215.7 498.9,215.9 499.6,215.8 500.2,216.2 500.8,216.4 501.5,216.1 502.1,216.3 502.7,216.8 503.3,216.9 504.0,217.1 504.6,217.3 505.2,217.0 505.9,216.5 506.5,216.3 507.1,216.2 507.8,216.3 508.4,216.3 509.0,216.0 509.6,215.8 510.3,215.6 510.9,215.6 511.5,215.6 512.2,215.5 512.8,215.4 513.4,215.4 514.1,215.4 514.7,215.3 515.3,215.3 515.9,215.3 516.6,215.1 517.2,215.4 517.8,215.7 518.5,215.2 519.1,215.3 519.7,215.8 520.3,216.0 521.0,216.1 521.6,216.1 522.2,215.8 522.9,215.6 523.5,215.7 524.1,215.5 524.8,215.0 525.4,215.1 526.0,215.2 526.6,215.3 527.3,215.4 527.9,215.0 528.5,214.6 529.2,214.8 529.8,215.3 530.4,215.0 531.0,214.7 531.2,214.8 531.4,214.9 531.7,214.9 531.9,215.0 532.2,214.9 532.3,214.8 532.4,214.8 532.6,214.7 532.9,214.6 532.9,214.6 533.1,214.6 533.3,214.6 533.6,214.6 533.8,214.6 534.0,214.6 534.2,214.6 534.3,214.7 534.5,214.8 534.7,214.9 534.8,214.9 535.0,215.0 535.2,215.0 535.5,214.9 535.7,214.8 536.1,214.8 536.7,214.8 537.3,214.8 538.0,215.0 538.6,214.9 539.2,214.5 539.9,215.0 540.5,215.1 541.1,214.8 541.8,214.9 542.4,215.0 543.0,214.9 543.6,214.7 544.3,214.8 544.9,215.1 545.5,214.9 546.2,214.7 546.3,214.7 546.5,214.6 546.6,214.6 546.8,214.6 546.9,214.5 547.1,214.3 547.3,214.2 547.4,213.9 547.6,213.6 547.7,213.2 547.9,212.7 548.0,212.0 548.2,211.1 548.4,210.1 548.5,208.9 548.7,207.6 548.8,206.2 549.0,204.8 549.2,203.5 549.3,202.5 549.5,202.1 549.6,202.4 549.8,203.0 549.9,203.8 550.1,204.7 550.3,205.6 550.4,206.5 550.6,207.4 550.7,208.3 550.9,209.2 551.0,210.0 551.2,210.8 551.4,211.5 551.5,212.0 551.7,212.5 551.8,212.9 552.0,213.3 552.1,213.5 552.3,213.7 552.5,213.9 552.6,214.0 553.1,214.2 553.7,214.3 554.3,214.8 555.0,214.8 555.6,214.7 556.0,214.9 556.4,215.1 556.8,214.9 557.2,214.8 557.6,215.0 558.0,215.5 558.4,215.6 558.8,214.9 559.1,214.6 559.5,215.0 559.9,215.3 560.3,214.8 560.7,214.0 561.1,214.0 561.5,214.9 561.9,216.1 562.3,216.9 562.7,216.8 563.1,215.5 563.5,214.3 563.9,214.6 564.3,215.7 564.7,215.6 565.0,213.8 565.4,212.7 565.8,213.8 566.2,215.9 566.6,216.9 567.0,216.5 567.4,216.1 567.8,215.9 568.2,215.0 568.6,213.8 569.0,213.6 569.4,215.0 569.8,216.7 570.2,217.0 570.6,215.5 571.0,213.4 571.3,212.4 571.7,213.5 572.1,216.0 572.5,218.1 572.9,218.0 573.3,216.1 573.7,214.3 574.1,213.8 574.5,214.1 574.9,214.1 575.3,214.3 575.7,215.7 576.1,217.2 576.5,216.6 576.9,214.2 577.2,212.8 577.6,214.3 578.0,216.8 578.4,217.3 578.6,216.6 578.8,215.7 579.0,214.9 579.2,214.4 579.4,214.4 579.6,214.5 579.8,214.8 580.0,214.9 580.2,214.8 580.4,214.8 580.6,215.0 580.8,215.2 581.0,215.3 581.2,215.4 581.4,215.5 581.6,215.7 581.8,215.7 582.0,215.2 582.2,214.2 582.4,213.3 582.6,213.5 582.8,214.7 583.0,216.5 583.1,217.9 583.3,217.9 583.5,216.6 583.7,214.7 583.9,213.3 584.1,213.0 584.3,213.7 584.5,214.8 584.7,215.4 584.9,215.4 585.1,215.0 585.3,214.8 585.5,215.1 585.7,216.0 585.9,217.0 586.1,217.8 586.3,218.0 586.5,217.4 586.7,215.8 586.9,213.2 587.1,210.1 587.3,207.8 587.5,207.6 587.7,210.8 587.9,216.7 588.1,223.3 588.3,227.4 588.5,226.6 588.7,221.1 588.9,213.6 589.1,208.1 589.2,207.3 589.4,209.9 589.6,212.7 589.8,213.3 590.0,211.4 590.2,209.8 590.4,211.9 590.6,218.0 590.8,225.5 591.0,229.7 591.2,226.6 591.4,217.3 591.6,206.5 591.8,200.4 592.0,203.0 592.2,212.1 592.4,222.1 592.6,226.8 592.8,223.1 593.0,214.0 593.2,205.6 593.4,203.4 593.6,209.2 593.8,219.1 594.0,226.7 594.2,227.8 594.4,221.7 594.6,212.8 594.8,206.6 595.0,206.3 595.2,211.4 595.3,217.6 595.5,220.2 595.7,218.0 595.9,213.1 596.1,209.3 596.3,209.5 596.5,213.4 596.7,218.9 596.9,222.7 597.1,222.8 597.3,219.4 597.5,214.5 597.7,210.2 597.9,208.4 598.1,209.1 598.3,211.6 598.5,214.5 598.7,216.9 598.9,218.3 599.1,218.3 599.3,217.0 599.5,214.5 599.7,212.0 599.9,210.2 600.1,209.9 600.3,210.7 600.5,211.6 600.7,211.7 600.9,211.6 601.1,211.1 601.2,210.5 601.4,210.3 601.6,210.3 601.8,210.5 602.0,210.8 602.4,211.0 602.8,211.0 603.2,211.4 603.6,211.6 604.0,210.9 604.4,210.0 604.8,210.2 605.2,211.0 605.6,211.1 606.0,210.5 606.4,210.4 606.8,210.9 607.2,211.2 607.5,211.3 607.9,211.8 608.3,212.0 608.7,211.4 609.1,210.7 609.5,210.5 609.9,210.3 610.3,209.7 610.7,210.2 611.1,212.2 611.5,213.4 611.9,212.0 612.3,209.8 612.7,209.7 613.1,211.0 613.4,211.4 613.8,211.3 614.2,212.6 614.6,214.2 615.0,212.9 615.4,208.9 615.8,206.4 616.2,208.1 616.6,211.6 617.0,213.6 617.4,213.9 617.8,213.8 618.2,213.0 618.6,211.4 619.0,210.2 619.4,210.4 619.7,210.8 620.1,209.7 620.5,208.0 620.9,209.0 621.3,213.2 621.7,216.9 622.1,216.5 622.5,212.5 622.9,209.3 623.3,209.3 623.7,210.6 624.1,210.5 624.5,210.1 624.9,211.6 625.3,214.3 625.6,214.8 626.0,212.7 626.4,211.1 626.8,211.9 627.2,213.4 627.6,213.7 628.0,213.2 628.4,212.4 628.8,210.8 629.2,209.3 629.6,210.5 630.0,214.1 630.4,216.2 630.8,215.1 631.2,213.8 631.5,214.6 631.9,214.8 632.3,211.9 632.7,209.3 633.1,210.7 633.5,213.9 633.9,214.8 634.3,213.7 634.7,213.9 635.1,214.8 635.5,214.6 635.9,214.2 636.3,215.6 636.7,216.3 637.1,213.4 637.5,210.0 637.8,211.2 638.2,215.1 638.6,215.9 639.0,213.6 639.4,213.3 639.8,215.7 640.2,216.5 640.6,214.6 641.0,214.3 641.4,216.1 641.8,215.3 642.2,211.4 642.6,210.7 643.0,215.4 643.4,219.0 643.7,215.8 644.1,210.5 644.5,210.7 644.9,215.6 645.3,218.4 645.7,216.9 646.1,215.0 646.5,215.5 646.9,216.3 647.3,214.8 647.7,212.4 648.1,211.7 648.5,213.4" fill="none" stroke="#6fd3ac" stroke-width="1.3" stroke-linejoin="round"/>
<path d="M368.5,205.9 369.4,206.0 370.4,206.0 371.3,205.9 372.3,205.8 373.2,205.9 374.2,206.0 375.1,206.0 376.1,205.8 377.0,205.7 377.9,205.9 378.9,206.1 379.8,206.0 380.8,205.8 381.7,205.8 382.7,205.8 383.6,205.9 384.6,206.1 385.5,206.0 386.4,205.8 387.4,205.8 388.3,206.1 389.3,206.0 390.2,205.7 391.2,205.8 392.1,206.2 393.1,206.1 394.0,205.7 394.9,205.7 395.9,206.0 396.8,206.2 397.8,206.0 398.7,205.9 399.7,205.9 400.6,205.9 401.6,205.9 402.5,205.9 403.4,205.8 404.4,206.0 405.3,206.1 406.3,206.1 407.2,205.9 408.2,205.8 409.1,205.9 410.1,205.9 411.0,205.9 411.9,206.0 412.9,206.0 413.8,205.9 414.8,205.9 415.7,206.0 416.7,206.0 417.6,205.9 418.6,205.8 419.5,205.9 420.4,206.0 421.4,206.0 422.3,206.0 423.3,206.0 424.2,205.9 425.2,205.7 426.1,205.8 427.1,206.1 428.0,206.1 428.9,206.0 429.9,205.9 430.8,205.9 431.8,206.0 432.7,206.0 433.7,206.0 434.6,205.8 435.6,205.8 436.5,206.1 437.4,206.2 438.4,205.9 439.3,205.9 440.3,206.0 441.2,205.9 442.2,205.7 443.1,205.9 444.1,206.2 445.0,206.1 445.9,206.0 446.9,205.9 447.8,205.9 448.8,205.9 449.7,206.0 450.7,206.1 451.6,206.0 452.6,206.0 453.5,206.0 454.4,205.9 455.4,206.0 456.3,206.2 457.3,206.0 458.2,205.7 459.2,206.0 460.1,206.2 461.1,206.0 462.0,205.9 462.9,206.0 463.9,206.0 464.8,205.9 465.8,206.0 466.7,206.0 467.7,205.9 468.6,206.0 469.6,206.1 470.5,206.1 471.4,205.9 472.4,205.9 473.3,205.9 474.3,206.0 475.2,206.2 476.2,206.2 477.1,205.8 478.1,205.7 478.8,206.0 M483.2,205.2 483.8,205.5 484.5,205.3 485.1,205.4 485.7,205.4 486.3,205.1 487.0,205.3 487.6,205.4 488.2,205.2 488.9,205.4 489.5,205.3 490.1,205.3 490.8,205.5 491.4,205.3 492.0,205.2 492.6,205.3 493.3,205.4 493.9,205.7 494.5,205.7 495.2,205.6 495.8,205.5 496.4,205.7 497.1,205.9 497.7,206.2 498.3,206.5 498.9,206.6 499.6,206.7 500.2,207.0 500.8,207.1 501.5,207.2 502.1,207.9 502.7,208.3 503.3,208.5 504.0,209.2 504.6,209.0 505.2,208.4 505.9,208.3 506.5,207.7 507.1,207.3 507.8,207.4 508.4,207.1 509.0,206.8 509.6,206.5 510.3,206.2 510.9,206.2 511.5,206.1 512.2,205.9 512.8,205.7 513.4,205.6 514.1,205.6 514.7,205.7 515.3,205.8 515.9,205.3 516.6,205.3 517.2,205.7 517.8,205.8 518.5,205.9 519.1,205.9 519.7,206.4 520.3,207.3 521.0,207.8 521.6,207.9 522.2,207.1 522.9,206.2 523.5,206.3 524.1,206.0 524.8,205.4 525.4,205.3 526.0,204.9 526.6,204.7 527.3,204.5 527.9,203.7 528.5,202.9 529.2,202.3 529.8,201.6 530.4,200.6 531.0,199.6 531.2,199.3 531.4,199.0 531.7,198.6 531.9,198.3 532.2,197.9 532.3,197.7 532.4,197.6 532.6,197.2 532.9,196.9 532.9,196.8 533.1,196.6 533.3,196.2 533.6,195.9 533.8,195.4 534.0,195.0 534.2,194.7 534.3,194.6 534.5,194.2 534.7,194.0 534.8,193.9 535.0,193.8 535.2,193.6 535.5,193.4 535.7,193.2 536.1,193.1 536.7,194.2 537.3,195.3 538.0,195.9 538.6,196.0 539.2,196.4 539.9,197.3 540.5,197.6 541.1,197.6 541.8,198.2 542.4,198.5 543.0,198.5 543.6,198.9 544.3,199.2 544.9,199.5 545.5,199.9 546.2,200.2 546.3,200.3 546.5,200.5 546.6,200.6 546.8,200.6 546.9,200.6 547.1,200.5 547.3,200.3 547.4,200.0 547.6,199.5 547.7,198.8 547.9,198.0 548.0,197.1 548.2,195.9 548.4,194.5 548.5,193.0 548.7,191.2 548.8,189.1 549.0,187.0 549.2,184.9 549.3,183.4 549.5,182.8 549.6,183.3 549.8,184.2 549.9,185.6 550.1,187.2 550.3,188.8 550.4,190.4 550.6,191.9 550.7,193.3 550.9,194.5 551.0,195.7 551.2,196.7 551.4,197.7 551.5,198.6 551.7,199.3 551.8,200.0 552.0,200.5 552.1,201.0 552.3,201.4 552.5,201.7 552.6,201.9 553.1,202.6 553.7,203.1 554.3,203.2 555.0,203.4 555.6,203.7 556.0,203.8 556.4,203.9 556.8,203.9 557.2,203.8 557.6,203.8 558.0,203.7 558.4,203.5 558.8,203.2 559.1,203.0 559.5,203.1 559.9,203.1 560.3,203.0 560.7,203.0 561.1,203.2 561.5,203.5 561.9,203.6 562.3,203.0 562.7,202.1 563.1,201.6 563.5,202.7 563.9,204.7 564.3,205.2 564.7,203.2 565.0,200.8 565.4,200.5 565.8,202.1 566.2,203.6 566.6,203.8 567.0,203.6 567.4,204.0 567.8,204.2 568.2,203.4 568.6,202.2 569.0,201.8 569.4,202.3 569.8,202.9 570.2,202.9 570.6,202.5 571.0,202.8 571.3,203.8 571.7,204.5 572.1,203.8 572.5,202.3 572.9,201.7 573.3,202.7 573.7,203.5 574.1,203.0 574.5,202.2 574.9,202.9 575.3,204.4 575.7,204.8 576.1,203.9 576.5,203.0 576.9,202.9 577.2,203.0 577.6,202.8 578.0,202.9 578.4,203.9 578.6,204.5 578.8,205.1 579.0,205.4 579.2,205.5 579.4,205.2 579.6,204.7 579.8,204.0 580.0,203.3 580.2,202.8 580.4,203.0 580.6,203.8 580.8,204.5 581.0,204.8 581.2,204.5 581.4,203.8 581.6,203.1 581.8,202.9 582.0,203.2 582.2,203.8 582.4,204.2 582.6,203.9 582.8,203.3 583.0,202.9 583.1,203.1 583.3,204.0 583.5,205.2 583.7,205.9 583.9,205.6 584.1,204.4 584.3,202.9 584.5,202.1 584.7,202.4 584.9,203.5 585.1,204.7 585.3,204.9 585.5,204.1 585.7,203.1 585.9,202.7 586.1,203.8 586.3,205.7 586.5,207.3 586.7,207.4 586.9,205.3 587.1,201.9 587.3,199.2 587.5,198.3 587.7,199.9 587.9,202.9 588.1,205.9 588.3,207.8 588.5,208.5 588.7,209.0 588.9,209.4 589.1,209.0 589.2,206.6 589.4,202.0 589.6,196.3 589.8,192.2 590.0,192.3 590.2,197.2 590.4,205.2 590.6,212.9 590.8,216.8 591.0,215.9 591.2,210.7 591.4,204.0 591.6,198.3 591.8,195.2 592.0,195.2 592.2,197.9 592.4,202.4 592.6,207.1 592.8,210.4 593.0,210.9 593.2,208.0 593.4,203.3 593.6,199.3 593.8,198.2 594.0,201.0 594.2,205.5 594.4,208.9 594.6,208.9 594.8,205.5 595.0,201.5 595.2,199.8 595.3,201.5 595.5,205.2 595.7,207.5 595.9,206.6 596.1,203.3 596.3,200.2 596.5,199.4 596.7,201.8 596.9,205.6 597.1,208.4 597.3,208.9 597.5,206.9 597.7,204.1 597.9,202.1 598.1,201.5 598.3,202.1 598.5,203.0 598.7,203.8 598.9,204.7 599.1,205.5 599.3,205.7 599.5,205.0 599.7,203.7 599.9,202.6 600.1,202.5 600.3,203.7 600.5,205.1 600.7,205.6 600.9,205.5 601.1,204.9 601.2,204.3 601.4,203.8 601.6,203.8 601.8,204.1 602.0,204.6 602.4,205.0 602.8,204.3 603.2,204.0 603.6,205.1 604.0,206.0 604.4,205.9 604.8,205.7 605.2,205.9 605.6,205.3 606.0,203.7 606.4,202.9 606.8,204.0 607.2,206.0 607.5,207.2 607.9,207.3 608.3,206.7 608.7,205.6 609.1,204.9 609.5,205.0 609.9,204.9 610.3,203.8 610.7,203.6 611.1,205.7 611.5,208.0 611.9,207.0 612.3,204.0 612.7,204.1 613.1,207.4 613.4,208.8 613.8,205.8 614.2,203.2 614.6,205.0 615.0,207.9 615.4,206.8 615.8,203.1 616.2,202.3 616.6,205.3 617.0,208.0 617.4,207.8 617.8,206.7 618.2,206.7 618.6,207.1 619.0,206.6 619.4,206.0 619.7,205.8 620.1,205.0 620.5,203.3 620.9,203.2 621.3,205.8 621.7,208.9 622.1,209.1 622.5,207.0 622.9,206.0 623.3,206.8 623.7,207.1 624.1,205.6 624.5,204.4 624.9,205.4 625.3,207.1 625.6,206.8 626.0,205.4 626.4,205.5 626.8,207.2 627.2,207.9 627.6,206.9 628.0,206.2 628.4,206.8 628.8,207.4 629.2,207.2 629.6,207.1 630.0,207.1 630.4,205.5 630.8,203.2 631.2,204.0 631.5,208.4 631.9,211.1 632.3,208.8 632.7,205.2 633.1,205.6 633.5,208.2 633.9,208.0 634.3,205.2 634.7,204.7 635.1,207.2 635.5,208.6 635.9,207.3 636.3,206.7 636.7,208.3 637.1,208.8 637.5,206.4 637.8,204.1 638.2,205.0 638.6,207.7 639.0,209.2 639.4,208.9 639.8,208.2 640.2,207.3 640.6,206.5 641.0,206.9 641.4,207.9 641.8,207.5 642.2,205.8 642.6,205.8 643.0,208.2 643.4,209.7 643.7,207.8 644.1,205.2 644.5,205.8 644.9,208.7 645.3,209.9 645.7,208.9 646.1,208.3 646.5,208.9 646.9,208.6 647.3,206.3 647.7,204.0 648.1,204.0 648.5,206.3" fill="none" stroke="#94bd78" stroke-width="1.3" stroke-linejoin="round"/>
<path d="M368.5,191.7 369.4,191.4 370.4,191.8 371.3,192.2 372.3,192.0 373.2,191.8 374.2,191.8 375.1,191.8 376.1,191.8 377.0,191.8 377.9,191.9 378.9,192.0 379.8,192.0 380.8,191.9 381.7,191.9 382.7,192.0 383.6,191.9 384.6,191.7 385.5,191.8 386.4,192.1 387.4,192.0 388.3,191.9 389.3,192.0 390.2,192.1 391.2,191.9 392.1,191.8 393.1,192.0 394.0,192.0 394.9,191.7 395.9,191.7 396.8,192.0 397.8,192.1 398.7,191.9 399.7,191.8 400.6,191.7 401.6,191.6 402.5,191.7 403.4,191.8 404.4,191.8 405.3,191.7 406.3,191.8 407.2,191.7 408.2,191.7 409.1,191.7 410.1,191.7 411.0,191.7 411.9,191.6 412.9,191.5 413.8,191.8 414.8,192.1 415.7,192.1 416.7,191.6 417.6,191.4 418.6,191.8 419.5,192.1 420.4,191.9 421.4,191.8 422.3,192.0 423.3,192.2 424.2,192.1 425.2,192.0 426.1,192.0 427.1,192.0 428.0,192.1 428.9,192.2 429.9,192.3 430.8,192.3 431.8,192.2 432.7,192.1 433.7,192.2 434.6,192.4 435.6,192.3 436.5,192.2 437.4,192.2 438.4,192.4 439.3,192.5 440.3,192.3 441.2,192.3 442.2,192.3 443.1,192.4 444.1,192.6 445.0,192.6 445.9,192.3 446.9,192.3 447.8,192.5 448.8,192.5 449.7,192.4 450.7,192.4 451.6,192.6 452.6,192.6 453.5,192.5 454.4,192.5 455.4,192.5 456.3,192.5 457.3,192.6 458.2,192.5 459.2,192.5 460.1,192.6 461.1,192.8 462.0,192.7 462.9,192.7 463.9,192.7 464.8,192.6 465.8,192.4 466.7,192.6 467.7,192.8 468.6,192.8 469.6,192.7 470.5,192.8 471.4,192.8 472.4,192.6 473.3,192.6 474.3,192.8 475.2,192.8 476.2,192.7 477.1,192.6 478.1,192.8 478.8,193.0 M483.2,191.7 483.8,191.8 484.5,191.8 485.1,191.6 485.7,191.8 486.3,191.9 487.0,191.7 487.6,191.6 488.2,191.6 488.9,191.8 489.5,191.9 490.1,191.8 490.8,191.8 491.4,191.6 492.0,191.6 492.6,192.0 493.3,192.0 493.9,192.0 494.5,192.1 495.2,192.0 495.8,192.2 496.4,192.4 497.1,192.7 497.7,193.2 498.3,193.2 498.9,193.3 499.6,193.7 500.2,194.1 500.8,194.7 501.5,194.9 502.1,195.2 502.7,196.0 503.3,196.4 504.0,197.3 504.6,197.3 505.2,196.3 505.9,196.0 506.5,195.4 507.1,194.7 507.8,194.5 508.4,194.2 509.0,194.0 509.6,193.5 510.3,192.9 510.9,192.8 511.5,192.9 512.2,192.9 512.8,192.3 513.4,192.1 514.1,192.3 514.7,192.1 515.3,192.1 515.9,192.2 516.6,192.0 517.2,192.2 517.8,192.6 518.5,192.7 519.1,192.9 519.7,193.7 520.3,194.9 521.0,195.9 521.6,196.2 522.2,195.1 522.9,193.4 523.5,192.5 524.1,191.3 524.8,189.7 525.4,188.5 526.0,187.0 526.6,185.0 527.3,182.7 527.9,179.9 528.5,176.7 529.2,173.3 529.8,170.3 530.4,167.4 531.0,164.3 531.2,163.6 531.4,162.4 531.7,161.2 531.9,160.0 532.2,158.6 532.3,157.8 532.4,157.4 532.6,156.2 532.9,155.2 532.9,154.9 533.1,154.3 533.3,153.5 533.6,152.6 533.8,151.7 534.0,151.1 534.2,150.9 534.3,150.9 534.5,151.7 534.7,153.3 534.8,153.9 535.0,155.1 535.2,156.6 535.5,157.7 535.7,158.7 536.1,160.2 536.7,161.3 537.3,162.0 538.0,164.8 538.6,166.0 539.2,166.7 539.9,167.8 540.5,168.9 541.1,169.7 541.8,170.8 542.4,171.7 543.0,172.7 543.6,174.5 544.3,176.3 544.9,177.9 545.5,179.4 546.2,180.8 546.3,181.2 546.5,181.5 546.6,181.8 546.8,182.1 546.9,182.3 547.1,182.4 547.3,182.3 547.4,182.1 547.6,181.6 547.7,181.0 547.9,180.1 548.0,179.0 548.2,177.7 548.4,176.2 548.5,174.4 548.7,172.3 548.8,170.1 549.0,167.7 549.2,165.4 549.3,163.7 549.5,163.1 549.6,163.6 549.8,164.8 549.9,166.3 550.1,168.1 550.3,170.0 550.4,171.8 550.6,173.6 550.7,175.2 550.9,176.7 551.0,178.1 551.2,179.4 551.4,180.5 551.5,181.5 551.7,182.4 551.8,183.2 552.0,183.8 552.1,184.4 552.3,184.9 552.5,185.2 552.6,185.5 553.1,186.1 553.7,186.7 554.3,187.3 555.0,187.5 555.6,187.4 556.0,187.3 556.4,187.3 556.8,187.2 557.2,187.0 557.6,186.7 558.0,186.2 558.4,185.5 558.8,185.2 559.1,185.3 559.5,185.0 559.9,184.1 560.3,183.1 560.7,182.7 561.1,182.8 561.5,182.9 561.9,183.3 562.3,183.9 562.7,183.8 563.1,182.7 563.5,182.1 563.9,182.6 564.3,183.2 564.7,182.4 565.0,181.4 565.4,181.5 565.8,182.4 566.2,182.6 566.6,182.6 567.0,183.3 567.4,184.3 567.8,184.3 568.2,183.4 568.6,182.3 569.0,181.3 569.4,180.6 569.8,181.2 570.2,183.1 570.6,184.1 571.0,182.8 571.3,181.6 571.7,182.9 572.1,185.2 572.5,184.8 572.9,181.8 573.3,180.3 573.7,181.8 574.1,183.6 574.5,183.4 574.9,182.8 575.3,184.2 575.7,186.0 576.1,185.7 576.5,184.0 576.9,183.3 577.2,184.5 577.6,185.7 578.0,185.7 578.4,185.7 578.6,186.1 578.8,186.7 579.0,187.3 579.2,187.6 579.4,187.4 579.6,186.7 579.8,185.5 580.0,184.3 580.2,183.9 580.4,184.8 580.6,186.2 580.8,187.1 581.0,187.2 581.2,186.6 581.4,185.8 581.6,185.2 581.8,184.8 582.0,184.6 582.2,184.6 582.4,185.1 582.6,186.3 582.8,188.2 583.0,189.9 583.1,190.5 583.3,189.6 583.5,187.5 583.7,185.0 583.9,183.1 584.1,182.4 584.3,182.9 584.5,184.3 584.7,186.1 584.9,187.9 585.1,189.3 585.3,189.8 585.5,189.2 585.7,187.4 585.9,185.3 586.1,184.0 586.3,184.1 586.5,185.9 586.7,188.2 586.9,189.4 587.1,188.4 587.3,185.2 587.5,181.4 587.7,179.4 587.9,180.6 588.1,185.1 588.3,191.3 588.5,196.4 588.7,198.6 588.9,196.9 589.1,191.8 589.2,185.1 589.4,178.6 589.6,173.9 589.8,172.3 590.0,174.9 590.2,181.7 590.4,190.8 590.6,199.0 590.8,202.5 591.0,199.8 591.2,191.7 591.4,182.5 591.6,176.4 591.8,175.9 592.0,180.6 592.2,187.1 592.4,191.5 592.6,192.1 592.8,188.9 593.0,184.8 593.2,182.3 593.4,182.5 593.6,185.0 593.8,188.2 594.0,190.4 594.2,191.0 594.4,190.2 594.6,188.9 594.8,187.6 595.0,186.6 595.2,185.9 595.3,185.1 595.5,184.2 595.7,183.3 595.9,182.9 596.1,183.4 596.3,185.3 596.5,188.2 596.7,191.1 596.9,192.9 597.1,192.6 597.3,190.3 597.5,186.9 597.7,183.7 597.9,182.0 598.1,182.1 598.3,183.9 598.5,185.9 598.7,187.7 598.9,189.0 599.1,189.7 599.3,189.8 599.5,189.1 599.7,187.8 599.9,186.7 600.1,186.3 600.3,186.9 600.5,187.9 600.7,188.4 600.9,188.5 601.1,188.3 601.2,187.9 601.4,187.4 601.6,187.3 601.8,187.5 602.0,188.1 602.4,189.5 602.8,189.6 603.2,189.0 603.6,189.7 604.0,191.7 604.4,193.1 604.8,193.1 605.2,192.3 605.6,191.5 606.0,190.4 606.4,189.7 606.8,190.4 607.2,191.9 607.5,192.1 607.9,191.0 608.3,191.1 608.7,193.5 609.1,195.5 609.5,194.3 609.9,190.9 610.3,189.2 610.7,191.1 611.1,193.9 611.5,193.8 611.9,191.3 612.3,190.1 612.7,192.5 613.1,195.4 613.4,194.9 613.8,191.9 614.2,191.2 614.6,193.8 615.0,195.4 615.4,192.9 615.8,189.9 616.2,190.7 616.6,194.4 617.0,196.1 617.4,194.6 617.8,193.2 618.2,193.5 618.6,193.7 619.0,192.9 619.4,193.0 619.7,194.5 620.1,194.7 620.5,192.6 620.9,191.6 621.3,194.4 621.7,197.9 622.1,197.3 622.5,193.5 622.9,191.6 623.3,193.1 623.7,194.7 624.1,194.5 624.5,194.3 624.9,195.5 625.3,196.1 625.6,194.8 626.0,193.6 626.4,194.4 626.8,195.8 627.2,195.8 627.6,195.2 628.0,195.5 628.4,195.7 628.8,194.5 629.2,193.6 629.6,194.9 630.0,197.1 630.4,196.9 630.8,195.0 631.2,194.6 631.5,196.4 631.9,197.2 632.3,195.6 632.7,194.5 633.1,196.1 633.5,198.1 633.9,197.4 634.3,194.9 634.7,193.7 635.1,194.8 635.5,196.7 635.9,198.4 636.3,199.1 636.7,198.2 637.1,196.0 637.5,194.4 637.8,195.0 638.2,196.9 638.6,198.0 639.0,197.8 639.4,197.6 639.8,197.6 640.2,197.4 640.6,196.6 641.0,196.3 641.4,196.8 641.8,197.8 642.2,198.3 642.6,198.4 643.0,198.3 643.4,198.2 643.7,197.4 644.1,196.1 644.5,195.8 644.9,197.7 645.3,200.4 645.7,200.8 646.1,198.6 646.5,197.2 646.9,198.1 647.3,198.4 647.7,196.5 648.1,195.5 648.5,198.4" fill="none" stroke="#c2b05c" stroke-width="1.3" stroke-linejoin="round"/>
<path d="M368.5,176.5 369.4,176.3 370.4,176.4 371.3,176.4 372.3,176.2 373.2,176.4 374.2,176.6 375.1,176.4 376.1,176.1 377.0,176.3 377.9,176.6 378.9,176.6 379.8,176.4 380.8,176.3 381.7,176.2 382.7,176.2 383.6,176.3 384.6,176.4 385.5,176.5 386.4,176.4 387.4,176.2 388.3,176.1 389.3,176.2 390.2,176.3 391.2,176.2 392.1,175.9 393.1,175.9 394.0,176.0 394.9,176.0 395.9,175.8 396.8,175.8 397.8,175.8 398.7,175.5 399.7,175.4 400.6,175.4 401.6,175.3 402.5,175.1 403.4,175.2 404.4,175.3 405.3,175.2 406.3,175.1 407.2,174.9 408.2,174.7 409.1,174.6 410.1,174.8 411.0,174.9 411.9,174.8 412.9,174.9 413.8,175.0 414.8,174.8 415.7,174.8 416.7,174.9 417.6,175.1 418.6,175.1 419.5,175.1 420.4,175.1 421.4,175.2 422.3,175.5 423.3,175.8 424.2,175.6 425.2,175.4 426.1,175.5 427.1,175.8 428.0,175.7 428.9,175.7 429.9,175.8 430.8,176.0 431.8,176.0 432.7,176.1 433.7,176.0 434.6,175.8 435.6,176.0 436.5,176.1 437.4,176.1 438.4,176.0 439.3,176.1 440.3,176.2 441.2,176.2 442.2,176.2 443.1,176.2 444.1,176.0 445.0,176.0 445.9,176.3 446.9,176.3 447.8,176.2 448.8,176.3 449.7,176.3 450.7,176.1 451.6,176.1 452.6,176.2 453.5,176.3 454.4,176.4 455.4,176.4 456.3,176.3 457.3,176.1 458.2,176.2 459.2,176.3 460.1,176.4 461.1,176.5 462.0,176.4 462.9,176.2 463.9,176.2 464.8,176.5 465.8,176.5 466.7,176.2 467.7,176.1 468.6,176.3 469.6,176.6 470.5,176.6 471.4,176.4 472.4,176.2 473.3,176.2 474.3,176.3 475.2,176.3 476.2,176.4 477.1,176.5 478.1,176.5 478.8,176.4 M483.2,175.3 483.8,175.5 484.5,175.5 485.1,175.4 485.7,175.3 486.3,175.4 487.0,175.6 487.6,175.4 488.2,175.3 488.9,175.4 489.5,175.5 490.1,175.6 490.8,175.6 491.4,175.4 492.0,175.5 492.6,175.6 493.3,175.7 493.9,175.9 494.5,175.9 495.2,175.9 495.8,176.2 496.4,176.5 497.1,176.9 497.7,176.9 498.3,177.3 498.9,178.2 499.6,178.3 500.2,178.7 500.8,179.5 501.5,179.6 502.1,180.5 502.7,181.3 503.3,181.9 504.0,183.4 504.6,183.4 505.2,182.0 505.9,181.3 506.5,180.3 507.1,179.9 507.8,179.6 508.4,178.8 509.0,178.4 509.6,177.9 510.3,177.3 510.9,177.3 511.5,177.1 512.2,176.5 512.8,176.2 513.4,176.3 514.1,176.2 514.7,176.1 515.3,176.1 515.9,175.8 516.6,175.9 517.2,176.3 517.8,176.5 518.5,176.9 519.1,177.5 519.7,178.3 520.3,180.0 521.0,181.9 521.6,182.3 522.2,180.3 522.9,177.4 523.5,175.6 524.1,174.1 524.8,171.9 525.4,169.6 526.0,167.1 526.6,163.8 527.3,160.3 527.9,156.1 528.5,151.1 529.2,146.9 529.8,143.2 530.4,138.9 531.0,134.7 531.2,133.7 531.4,131.9 531.7,130.0 531.9,128.1 532.2,126.3 532.3,125.2 532.4,124.7 532.6,123.5 532.9,122.5 532.9,122.2 533.1,121.6 533.3,120.6 533.6,119.8 533.8,119.7 534.0,120.8 534.2,122.1 534.3,122.8 534.5,125.2 534.7,127.3 534.8,127.8 535.0,128.7 535.2,130.0 535.5,131.1 535.7,132.1 536.1,133.2 536.7,134.0 537.3,137.7 538.0,139.8 538.6,140.7 539.2,142.0 539.9,143.8 540.5,145.0 541.1,146.1 541.8,147.7 542.4,149.2 543.0,151.0 543.6,153.6 544.3,156.0 544.9,158.2 545.5,160.4 546.2,162.5 546.3,162.9 546.5,163.3 546.6,163.5 546.8,163.8 546.9,163.9 547.1,164.0 547.3,163.9 547.4,163.7 547.6,163.3 547.7,162.7 547.9,161.9 548.0,160.7 548.2,159.3 548.4,157.6 548.5,155.6 548.7,153.4 548.8,150.9 549.0,148.3 549.2,145.9 549.3,144.1 549.5,143.5 549.6,144.1 549.8,145.3 549.9,147.0 550.1,148.9 550.3,150.9 550.4,152.9 550.6,154.8 550.7,156.6 550.9,158.3 551.0,159.8 551.2,161.3 551.4,162.5 551.5,163.7 551.7,164.6 551.8,165.5 552.0,166.2 552.1,166.8 552.3,167.3 552.5,167.7 552.6,168.0 553.1,168.6 553.7,169.1 554.3,169.8 555.0,170.0 555.6,170.0 556.0,170.0 556.4,169.8 556.8,169.4 557.2,169.0 557.6,168.7 558.0,168.4 558.4,167.8 558.8,166.9 559.1,166.1 559.5,165.8 559.9,165.7 560.3,165.3 560.7,164.2 561.1,163.2 561.5,163.2 561.9,164.2 562.3,165.0 562.7,164.4 563.1,163.2 563.5,163.1 563.9,164.0 564.3,164.1 564.7,162.9 565.0,161.7 565.4,161.5 565.8,162.0 566.2,162.8 566.6,164.0 567.0,165.3 567.4,165.9 567.8,165.5 568.2,164.1 568.6,162.0 569.0,160.3 569.4,160.9 569.8,163.7 570.2,165.2 570.6,163.2 571.0,160.7 571.3,162.1 571.7,166.3 572.1,167.6 572.5,164.5 572.9,161.5 573.3,162.3 573.7,164.2 574.1,163.8 574.5,162.2 574.9,162.6 575.3,164.9 575.7,166.7 576.1,167.2 576.5,167.3 576.9,167.1 577.2,166.6 577.6,166.3 578.0,166.9 578.4,167.4 578.6,167.3 578.8,167.1 579.0,167.0 579.2,167.1 579.4,167.4 579.6,167.9 579.8,168.1 580.0,168.1 580.2,168.0 580.4,168.1 580.6,168.4 580.8,168.6 581.0,168.4 581.2,167.7 581.4,166.9 581.6,166.4 581.8,167.1 582.0,168.7 582.2,170.4 582.4,170.9 582.6,169.4 582.8,167.4 583.0,166.5 583.1,167.3 583.3,169.4 583.5,171.1 583.7,170.7 583.9,168.0 584.1,164.5 584.3,162.5 584.5,163.8 584.7,167.9 584.9,172.4 585.1,174.7 585.3,173.1 585.5,168.8 585.7,164.4 585.9,162.8 586.1,165.4 586.3,170.4 586.5,174.7 586.7,175.4 586.9,171.5 587.1,165.2 587.3,160.0 587.5,158.9 587.7,163.1 587.9,170.0 588.1,176.1 588.3,178.3 588.5,175.5 588.7,170.0 588.9,165.2 589.1,163.9 589.2,165.8 589.4,168.3 589.6,168.5 589.8,166.1 590.0,163.1 590.2,162.4 590.4,166.2 590.6,172.9 590.8,178.9 591.0,180.5 591.2,175.6 591.4,166.9 591.6,159.0 591.8,156.1 592.0,159.9 592.2,167.9 592.4,175.6 592.6,179.3 592.8,177.2 593.0,171.5 593.2,165.2 593.4,161.1 593.6,160.7 593.8,163.3 594.0,167.7 594.2,172.1 594.4,175.2 594.6,176.3 594.8,174.7 595.0,171.1 595.2,166.8 595.3,163.7 595.5,163.2 595.7,164.9 595.9,167.3 596.1,169.2 596.3,169.9 596.5,170.0 596.7,170.3 596.9,171.1 597.1,171.9 597.3,171.6 597.5,169.7 597.7,166.8 597.9,164.7 598.1,164.6 598.3,167.2 598.5,170.8 598.7,173.4 598.9,174.2 599.1,173.0 599.3,170.9 599.5,168.8 599.7,167.4 599.9,167.1 600.1,167.6 600.3,168.6 600.5,169.4 600.7,169.6 600.9,169.5 601.1,169.3 601.2,169.2 601.4,169.4 601.6,170.0 601.8,170.9 602.0,171.9 602.4,173.2 602.8,173.7 603.2,174.6 603.6,175.4 604.0,174.6 604.4,173.0 604.8,173.2 605.2,174.8 605.6,175.1 606.0,174.4 606.4,175.2 606.8,177.2 607.2,176.9 607.5,174.4 607.9,174.0 608.3,176.7 608.7,178.3 609.1,176.3 609.5,174.2 609.9,175.0 610.3,176.5 610.7,176.6 611.1,176.6 611.5,177.8 611.9,177.8 612.3,175.5 612.7,174.1 613.1,175.9 613.4,178.3 613.8,178.6 614.2,178.8 614.6,180.5 615.0,180.1 615.4,175.4 615.8,171.1 616.2,173.2 616.6,179.1 617.0,181.5 617.4,179.7 617.8,179.0 618.2,180.8 618.6,180.8 619.0,177.2 619.4,174.8 619.7,176.3 620.1,178.6 620.5,178.5 620.9,178.1 621.3,180.1 621.7,182.5 622.1,181.8 622.5,178.9 622.9,177.6 623.3,178.5 623.7,179.1 624.1,178.8 624.5,179.2 624.9,180.7 625.3,181.4 625.6,180.6 626.0,180.1 626.4,180.9 626.8,181.3 627.2,179.9 627.6,178.5 628.0,179.5 628.4,181.9 628.8,182.4 629.2,180.6 629.6,180.1 630.0,182.3 630.4,184.0 630.8,182.2 631.2,179.2 631.5,179.3 631.9,181.8 632.3,182.8 632.7,181.5 633.1,181.3 633.5,183.3 633.9,184.4 634.3,182.5 634.7,180.6 635.1,181.8 635.5,184.1 635.9,183.9 636.3,181.7 636.7,181.1 637.1,182.5 637.5,183.4 637.8,183.1 638.2,183.3 638.6,184.7 639.0,185.8 639.4,184.9 639.8,182.8 640.2,181.0 640.6,181.0 641.0,183.3 641.4,186.9 641.8,188.3 642.2,185.7 642.6,181.6 643.0,181.0 643.4,184.0 643.7,186.4 644.1,185.5 644.5,184.3 644.9,185.7 645.3,187.6 645.7,186.4 646.1,183.3 646.5,182.7 646.9,185.4 647.3,187.2 647.7,186.0 648.1,184.5 648.5,185.6" fill="none" stroke="#e2a03a" stroke-width="1.3" stroke-linejoin="round"/>
<path d="M368.5,163.3 369.4,163.6 370.4,163.8 371.3,163.7 372.3,163.5 373.2,163.5 374.2,163.6 375.1,163.6 376.1,163.5 377.0,163.4 377.9,163.3 378.9,163.4 379.8,163.5 380.8,163.4 381.7,163.3 382.7,163.3 383.6,163.3 384.6,163.1 385.5,163.0 386.4,163.1 387.4,163.0 388.3,162.8 389.3,162.7 390.2,162.7 391.2,162.6 392.1,162.3 393.1,162.1 394.0,162.0 394.9,161.8 395.9,161.6 396.8,161.3 397.8,161.1 398.7,161.0 399.7,160.8 400.6,160.4 401.6,159.9 402.5,159.7 403.4,159.7 404.4,159.5 405.3,159.2 406.3,159.0 407.2,158.8 408.2,158.6 409.1,158.4 410.1,158.4 411.0,158.4 411.9,158.5 412.9,158.5 413.8,158.4 414.8,158.3 415.7,158.6 416.7,159.0 417.6,159.1 418.6,159.0 419.5,159.2 420.4,159.6 421.4,159.7 422.3,159.8 423.3,160.1 424.2,160.4 425.2,160.5 426.1,160.7 427.1,161.0 428.0,161.0 428.9,160.9 429.9,161.1 430.8,161.3 431.8,161.4 432.7,161.6 433.7,161.9 434.6,161.7 435.6,161.4 436.5,161.6 437.4,162.0 438.4,162.0 439.3,161.8 440.3,161.9 441.2,162.0 442.2,162.0 443.1,162.0 444.1,162.0 445.0,162.0 445.9,162.1 446.9,162.1 447.8,162.0 448.8,162.1 449.7,162.2 450.7,162.1 451.6,162.0 452.6,162.2 453.5,162.5 454.4,162.2 455.4,161.9 456.3,162.1 457.3,162.4 458.2,162.3 459.2,162.2 460.1,162.3 461.1,162.4 462.0,162.2 462.9,162.1 463.9,162.1 464.8,162.3 465.8,162.4 466.7,162.4 467.7,162.3 468.6,162.2 469.6,162.2 470.5,162.2 471.4,162.2 472.4,162.2 473.3,162.3 474.3,162.4 475.2,162.3 476.2,162.3 477.1,162.3 478.1,162.3 478.8,162.1 M483.2,161.2 483.8,161.1 484.5,161.0 485.1,161.1 485.7,161.3 486.3,161.0 487.0,161.0 487.6,161.1 488.2,161.2 488.9,161.3 489.5,161.2 490.1,161.2 490.8,161.3 491.4,161.0 492.0,161.0 492.6,161.4 493.3,161.4 493.9,161.7 494.5,161.8 495.2,161.6 495.8,161.9 496.4,162.2 497.1,162.7 497.7,163.1 498.3,163.3 498.9,163.9 499.6,164.5 500.2,164.9 500.8,165.4 501.5,166.0 502.1,166.9 502.7,167.5 503.3,168.5 504.0,170.3 504.6,169.9 505.2,168.4 505.9,167.8 506.5,166.9 507.1,166.0 507.8,165.4 508.4,165.1 509.0,164.7 509.6,163.9 510.3,163.5 510.9,163.1 511.5,162.8 512.2,162.5 512.8,162.1 513.4,162.0 514.1,161.8 514.7,162.0 515.3,162.1 515.9,161.4 516.6,161.6 517.2,162.2 517.8,162.2 518.5,162.6 519.1,163.1 519.7,164.4 520.3,166.5 521.0,168.0 521.6,168.2 522.2,166.2 522.9,163.1 523.5,161.5 524.1,159.6 524.8,157.0 525.4,154.7 526.0,151.7 526.6,148.0 527.3,144.2 527.9,139.4 528.5,134.1 529.2,129.4 529.8,124.9 530.4,120.1 531.0,115.4 531.2,114.3 531.4,112.5 531.7,110.6 531.9,108.5 532.2,106.5 532.3,105.2 532.4,104.7 532.6,103.2 532.9,102.0 532.9,101.6 533.1,100.9 533.3,99.8 533.6,98.9 533.8,98.7 534.0,99.9 534.2,101.3 534.3,102.1 534.5,104.8 534.7,107.2 534.8,107.8 535.0,108.8 535.2,110.3 535.5,111.6 535.7,112.7 536.1,113.9 536.7,115.2 537.3,119.1 538.0,121.0 538.6,122.4 539.2,123.8 539.9,125.5 540.5,127.2 541.1,128.6 541.8,130.1 542.4,131.8 543.0,133.9 543.6,136.6 544.3,139.4 544.9,142.0 545.5,144.5 546.2,146.8 546.3,147.2 546.5,147.6 546.6,147.9 546.8,148.1 546.9,148.3 547.1,148.3 547.3,148.3 547.4,148.0 547.6,147.6 547.7,146.9 547.9,146.0 548.0,144.8 548.2,143.3 548.4,141.5 548.5,139.3 548.7,136.9 548.8,134.3 549.0,131.4 549.2,128.7 549.3,126.7 549.5,126.0 549.6,126.6 549.8,128.0 549.9,129.8 550.1,132.0 550.3,134.3 550.4,136.5 550.6,138.6 550.7,140.6 550.9,142.4 551.0,143.9 551.2,145.3 551.4,146.6 551.5,147.7 551.7,148.7 551.8,149.7 552.0,150.5 552.1,151.2 552.3,151.8 552.5,152.2 552.6,152.5 553.1,152.9 553.7,153.9 554.3,154.6 555.0,154.5 555.6,154.8 556.0,154.7 556.4,154.1 556.8,153.5 557.2,153.3 557.6,153.1 558.0,152.4 558.4,151.3 558.8,150.8 559.1,150.7 559.5,149.8 559.9,148.3 560.3,147.5 560.7,147.4 561.1,146.8 561.5,146.1 561.9,146.6 562.3,147.6 562.7,147.3 563.1,145.7 563.5,145.1 563.9,146.1 564.3,146.7 564.7,146.3 565.0,145.8 565.4,145.7 565.8,145.5 566.2,145.5 566.6,145.9 567.0,146.2 567.4,146.2 567.8,146.7 568.2,147.5 568.6,146.9 569.0,144.7 569.4,144.1 569.8,146.3 570.2,148.2 570.6,146.6 571.0,143.8 571.3,144.0 571.7,146.6 572.1,147.9 572.5,147.1 572.9,146.5 573.3,146.8 573.7,146.3 574.1,145.3 574.5,146.0 574.9,148.0 575.3,148.6 575.7,148.3 576.1,149.2 576.5,151.0 576.9,150.6 577.2,148.7 577.6,148.8 578.0,151.4 578.4,152.6 578.6,152.1 578.8,151.3 579.0,150.7 579.2,150.8 579.4,151.4 579.6,152.3 579.8,152.8 580.0,152.6 580.2,151.9 580.4,151.3 580.6,150.9 580.8,150.7 581.0,150.9 581.2,151.5 581.4,152.1 581.6,152.5 581.8,152.3 582.0,151.6 582.2,151.0 582.4,151.0 582.6,152.1 582.8,153.9 583.0,155.7 583.1,156.2 583.3,154.8 583.5,151.8 583.7,148.6 583.9,146.8 584.1,147.4 584.3,150.2 584.5,153.9 584.7,156.4 584.9,156.5 585.1,154.3 585.3,151.3 585.5,149.3 585.7,149.9 585.9,152.5 586.1,155.5 586.3,157.1 586.5,155.9 586.7,152.7 586.9,148.9 587.1,146.6 587.3,146.7 587.5,148.6 587.7,151.0 587.9,152.9 588.1,154.4 588.3,156.3 588.5,159.1 588.7,161.9 588.9,162.5 589.1,158.8 589.2,151.1 589.4,142.7 589.6,137.6 589.8,138.0 590.0,143.8 590.2,151.8 590.4,158.5 590.6,161.8 590.8,162.0 591.0,160.7 591.2,159.2 591.4,157.3 591.6,153.9 591.8,148.8 592.0,143.5 592.2,140.8 592.4,143.3 592.6,149.9 592.8,157.4 593.0,161.5 593.2,159.7 593.4,154.0 593.6,148.8 593.8,148.0 594.0,152.7 594.2,159.0 594.4,162.1 594.6,159.4 594.8,152.0 595.0,144.6 595.2,142.2 595.3,145.7 595.5,152.2 595.7,156.7 595.9,156.6 596.1,153.6 596.3,151.3 596.5,152.1 596.7,156.1 596.9,160.3 597.1,161.3 597.3,157.9 597.5,151.3 597.7,145.2 597.9,142.6 598.1,144.4 598.3,149.7 598.5,155.2 598.7,159.0 598.9,160.4 599.1,159.5 599.3,157.1 599.5,153.9 599.7,151.2 599.9,150.1 600.1,150.9 600.3,153.1 600.5,155.1 600.7,155.5 600.9,155.1 601.1,154.2 601.2,153.4 601.4,153.4 601.6,154.3 601.8,156.0 602.0,157.8 602.4,159.4 602.8,158.1 603.2,157.2 603.6,158.4 604.0,159.7 604.4,160.0 604.8,160.6 605.2,161.9 605.6,161.7 606.0,159.9 606.4,159.4 606.8,160.8 607.2,161.4 607.5,160.2 607.9,160.5 608.3,163.1 608.7,164.6 609.1,163.0 609.5,160.9 609.9,160.7 610.3,161.1 610.7,160.7 611.1,161.1 611.5,163.0 611.9,163.8 612.3,162.0 612.7,160.8 613.1,163.0 613.4,165.4 613.8,164.6 614.2,162.4 614.6,162.4 615.0,163.6 615.4,162.6 615.8,160.5 616.2,161.4 616.6,164.6 617.0,165.5 617.4,163.3 617.8,162.4 618.2,164.9 618.6,167.2 619.0,165.9 619.4,163.4 619.7,162.8 620.1,163.2 620.5,162.6 620.9,162.1 621.3,164.1 621.7,167.3 622.1,168.0 622.5,166.0 622.9,164.3 623.3,164.3 623.7,164.7 624.1,164.6 624.5,165.2 624.9,166.7 625.3,167.1 625.6,165.3 626.0,163.4 626.4,163.9 626.8,166.3 627.2,168.3 627.6,168.5 628.0,167.3 628.4,165.5 628.8,164.1 629.2,164.5 629.6,167.0 630.0,169.2 630.4,168.7 630.8,166.3 631.2,165.6 631.5,167.1 631.9,168.2 632.3,167.0 632.7,165.8 633.1,167.2 633.5,169.2 633.9,168.9 634.3,166.9 634.7,166.5 635.1,168.3 635.5,169.4 635.9,168.6 636.3,168.2 636.7,169.6 637.1,169.9 637.5,167.0 637.8,164.4 638.2,166.4 638.6,171.4 639.0,173.4 639.4,169.9 639.8,165.9 640.2,166.8 640.6,171.4 641.0,174.2 641.4,172.0 641.8,167.0 642.2,164.0 642.6,165.9 643.0,171.4 643.4,175.5 643.7,174.0 644.1,168.3 644.5,165.1 644.9,168.4 645.3,173.9 645.7,174.7 646.1,171.1 646.5,169.0 646.9,170.6 647.3,171.7 647.7,169.6 648.1,168.1 648.5,170.6" fill="none" stroke="#f7931e" stroke-width="1.3" stroke-linejoin="round"/>
<path d="M368.5,148.4 369.4,148.4 370.4,148.5 371.3,148.4 372.3,148.3 373.2,148.4 374.2,148.6 375.1,148.7 376.1,148.6 377.0,148.4 377.9,148.3 378.9,148.2 379.8,148.3 380.8,148.3 381.7,148.3 382.7,148.4 383.6,148.4 384.6,148.2 385.5,148.0 386.4,147.9 387.4,147.9 388.3,147.8 389.3,147.7 390.2,147.6 391.2,147.4 392.1,147.3 393.1,147.1 394.0,147.0 394.9,146.7 395.9,146.3 396.8,146.2 397.8,146.0 398.7,145.6 399.7,145.2 400.6,145.1 401.6,145.0 402.5,144.6 403.4,144.3 404.4,144.2 405.3,143.8 406.3,143.3 407.2,143.2 408.2,143.4 409.1,143.4 410.1,143.1 411.0,142.9 411.9,142.8 412.9,142.9 413.8,143.1 414.8,143.2 415.7,143.3 416.7,143.4 417.6,143.6 418.6,143.8 419.5,144.1 420.4,144.5 421.4,144.7 422.3,144.8 423.3,145.0 424.2,145.2 425.2,145.3 426.1,145.6 427.1,145.9 428.0,146.0 428.9,146.4 429.9,146.6 430.8,146.4 431.8,146.2 432.7,146.5 433.7,146.9 434.6,147.0 435.6,146.9 436.5,147.0 437.4,147.1 438.4,147.0 439.3,147.1 440.3,147.2 441.2,147.1 442.2,147.2 443.1,147.6 444.1,147.5 445.0,147.2 445.9,147.1 446.9,147.4 447.8,147.5 448.8,147.5 449.7,147.5 450.7,147.5 451.6,147.6 452.6,147.6 453.5,147.5 454.4,147.3 455.4,147.5 456.3,147.9 457.3,147.8 458.2,147.5 459.2,147.6 460.1,147.8 461.1,147.7 462.0,147.6 462.9,147.7 463.9,147.8 464.8,147.7 465.8,147.7 466.7,147.9 467.7,147.9 468.6,147.9 469.6,147.8 470.5,147.7 471.4,147.7 472.4,147.8 473.3,147.9 474.3,147.8 475.2,147.7 476.2,148.0 477.1,148.0 478.1,147.7 478.8,147.6 M483.2,146.7 483.8,146.8 484.5,146.8 485.1,146.6 485.7,146.7 486.3,146.6 487.0,146.9 487.6,146.9 488.2,146.5 488.9,146.7 489.5,146.9 490.1,146.9 490.8,146.9 491.4,146.6 492.0,146.7 492.6,147.2 493.3,147.2 493.9,147.1 494.5,147.2 495.2,147.5 495.8,147.8 496.4,148.2 497.1,148.4 497.7,148.8 498.3,149.5 498.9,149.9 499.6,150.5 500.2,151.3 500.8,151.6 501.5,152.4 502.1,153.5 502.7,154.2 503.3,155.5 504.0,156.9 504.6,156.8 505.2,155.5 505.9,154.4 506.5,153.4 507.1,152.4 507.8,151.6 508.4,151.3 509.0,150.9 509.6,149.9 510.3,149.4 510.9,149.1 511.5,148.5 512.2,148.2 512.8,148.0 513.4,147.8 514.1,147.8 514.7,147.6 515.3,147.4 515.9,147.2 516.6,147.4 517.2,148.0 517.8,148.2 518.5,148.5 519.1,149.1 519.7,150.5 520.3,152.8 521.0,155.3 521.6,155.3 522.2,152.7 522.9,149.6 523.5,147.3 524.1,144.8 524.8,142.4 525.4,139.9 526.0,136.6 526.6,132.7 527.3,128.4 527.9,123.0 528.5,117.5 529.2,112.3 529.8,107.3 530.4,102.4 531.0,97.2 531.2,95.8 531.4,93.8 531.7,91.7 531.9,89.6 532.2,87.5 532.3,86.2 532.4,85.6 532.6,83.8 532.9,82.4 532.9,81.9 533.1,81.0 533.3,79.8 533.6,79.0 533.8,78.9 534.0,80.3 534.2,81.9 534.3,82.8 534.5,85.7 534.7,88.3 534.8,88.9 535.0,90.1 535.2,91.8 535.5,93.3 535.7,94.4 536.1,95.3 536.7,96.3 537.3,101.0 538.0,103.5 538.6,104.8 539.2,106.0 539.9,107.9 540.5,109.9 541.1,111.4 541.8,113.2 542.4,114.8 543.0,117.0 543.6,120.2 544.3,123.1 544.9,126.0 545.5,128.7 546.2,130.9 546.3,131.3 546.5,131.8 546.6,132.2 546.8,132.5 546.9,132.8 547.1,132.9 547.3,132.8 547.4,132.6 547.6,132.1 547.7,131.3 547.9,130.3 548.0,129.0 548.2,127.3 548.4,125.3 548.5,123.0 548.7,120.3 548.8,117.5 549.0,114.5 549.2,111.6 549.3,109.5 549.5,108.9 549.6,109.6 549.8,111.1 549.9,113.0 550.1,115.2 550.3,117.5 550.4,119.8 550.6,122.0 550.7,124.0 550.9,125.9 551.0,127.6 551.2,129.2 551.4,130.7 551.5,131.9 551.7,133.0 551.8,133.9 552.0,134.7 552.1,135.4 552.3,136.0 552.5,136.6 552.6,137.0 553.1,137.9 553.7,138.4 554.3,139.1 555.0,139.2 555.6,138.7 556.0,138.8 556.4,138.8 556.8,138.4 557.2,137.6 557.6,137.0 558.0,136.4 558.4,135.5 558.8,134.1 559.1,132.9 559.5,132.8 559.9,132.6 560.3,131.3 560.7,129.3 561.1,128.4 561.5,129.1 561.9,130.4 562.3,130.8 562.7,130.1 563.1,128.9 563.5,128.3 563.9,128.5 564.3,128.8 564.7,128.3 565.0,127.2 565.4,126.5 565.8,127.1 566.2,129.1 566.6,130.8 567.0,131.0 567.4,129.7 567.8,128.5 568.2,128.3 568.6,128.2 569.0,127.8 569.4,127.7 569.8,128.8 570.2,129.8 570.6,128.9 571.0,126.6 571.3,126.0 571.7,128.5 572.1,131.7 572.5,132.4 572.9,130.4 573.3,128.1 573.7,127.5 574.1,128.0 574.5,128.7 574.9,129.3 575.3,130.5 575.7,132.4 576.1,134.1 576.5,134.5 576.9,133.6 577.2,132.9 577.6,133.2 578.0,134.2 578.4,135.0 578.6,135.3 578.8,135.5 579.0,135.6 579.2,135.5 579.4,135.1 579.6,134.6 579.8,134.1 580.0,133.8 580.2,134.3 580.4,135.5 580.6,137.1 580.8,138.0 581.0,137.7 581.2,136.0 581.4,133.6 581.6,131.9 581.8,132.0 582.0,134.1 582.2,137.0 582.4,139.4 582.6,139.5 582.8,138.5 583.0,137.4 583.1,136.8 583.3,136.8 583.5,136.7 583.7,135.8 583.9,134.2 584.1,132.7 584.3,132.1 584.5,133.2 584.7,135.4 584.9,137.9 585.1,139.5 585.3,139.7 585.5,139.0 585.7,137.8 585.9,136.8 586.1,135.7 586.3,134.7 586.5,133.5 586.7,132.7 586.9,132.9 587.1,134.3 587.3,136.5 587.5,138.5 587.7,139.2 587.9,138.3 588.1,136.7 588.3,135.7 588.5,136.6 588.7,139.2 588.9,142.1 589.1,142.9 589.2,140.2 589.4,134.9 589.6,128.9 589.8,124.9 590.0,125.0 590.2,129.2 590.4,136.2 590.6,143.5 590.8,148.2 591.0,149.2 591.2,146.0 591.4,140.2 591.6,133.8 591.8,129.0 592.0,127.1 592.2,128.2 592.4,131.8 592.6,136.2 592.8,139.9 593.0,141.8 593.2,141.4 593.4,139.4 593.6,136.8 593.8,135.1 594.0,135.1 594.2,136.7 594.4,139.0 594.6,140.5 594.8,140.0 595.0,137.5 595.2,134.1 595.3,131.5 595.5,131.2 595.7,133.1 595.9,136.2 596.1,139.2 596.3,141.1 596.5,141.4 596.7,140.4 596.9,138.9 597.1,137.5 597.3,136.6 597.5,136.1 597.7,135.9 597.9,135.9 598.1,135.8 598.3,135.9 598.5,136.4 598.7,137.4 598.9,138.7 599.1,139.6 599.3,139.7 599.5,139.0 599.7,138.0 599.9,137.3 600.1,137.3 600.3,137.8 600.5,138.3 600.7,138.0 600.9,137.8 601.1,137.8 601.2,138.3 601.4,139.1 601.6,140.2 601.8,141.1 602.0,141.6 602.4,141.5 602.8,141.9 603.2,144.5 603.6,146.9 604.0,146.4 604.4,144.5 604.8,144.5 605.2,146.1 605.6,146.6 606.0,145.9 606.4,145.9 606.8,146.7 607.2,146.4 607.5,145.6 607.9,146.4 608.3,148.5 608.7,149.5 609.1,149.0 609.5,148.5 609.9,147.6 610.3,145.4 610.7,144.0 611.1,146.3 611.5,149.8 611.9,149.8 612.3,146.7 612.7,146.0 613.1,148.9 613.4,150.8 613.8,149.3 614.2,148.4 614.6,150.4 615.0,151.2 615.4,147.5 615.8,143.6 616.2,144.8 616.6,149.3 617.0,151.1 617.4,149.9 617.8,150.3 618.2,152.7 618.6,152.9 619.0,149.4 619.4,146.7 619.7,147.8 620.1,149.7 620.5,148.9 620.9,147.2 621.3,148.9 621.7,153.4 622.1,155.5 622.5,152.7 622.9,148.5 623.3,147.6 623.7,149.9 624.1,151.8 624.5,151.5 624.9,150.1 625.3,150.0 625.6,151.2 626.0,152.5 626.4,152.5 626.8,151.8 627.2,151.3 627.6,151.5 628.0,152.3 628.4,152.5 628.8,151.6 629.2,150.6 629.6,150.7 630.0,151.8 630.4,152.7 630.8,153.1 631.2,153.8 631.5,154.9 631.9,154.6 632.3,152.1 632.7,149.9 633.1,150.7 633.5,153.0 633.9,153.9 634.3,153.3 634.7,153.4 635.1,154.6 635.5,154.8 635.9,153.6 636.3,153.5 636.7,154.9 637.1,155.2 637.5,152.8 637.8,151.1 638.2,152.9 638.6,156.0 639.0,156.3 639.4,153.9 639.8,152.9 640.2,155.1 640.6,157.2 641.0,156.5 641.4,154.1 641.8,152.9 642.2,153.9 642.6,155.8 643.0,157.2 643.4,157.4 643.7,155.7 644.1,153.0 644.5,151.9 644.9,154.6 645.3,158.8 645.7,160.3 646.1,157.7 646.5,154.7 646.9,154.6 647.3,156.2 647.7,156.3 648.1,154.8 648.5,155.3" fill="none" stroke="#f8742e" stroke-width="1.3" stroke-linejoin="round"/>
<path d="M368.5,132.7 369.4,132.8 370.4,132.7 371.3,132.6 372.3,132.8 373.2,133.0 374.2,132.6 375.1,132.3 376.1,132.5 377.0,132.8 377.9,132.7 378.9,132.3 379.8,132.4 380.8,132.6 381.7,132.4 382.7,132.2 383.6,132.1 384.6,132.1 385.5,132.1 386.4,132.1 387.4,131.9 388.3,131.6 389.3,131.5 390.2,131.5 391.2,131.2 392.1,130.9 393.1,130.8 394.0,130.6 394.9,130.2 395.9,129.9 396.8,129.7 397.8,129.3 398.7,128.9 399.7,128.6 400.6,128.4 401.6,128.1 402.5,127.7 403.4,127.2 404.4,126.7 405.3,126.5 406.3,126.6 407.2,126.3 408.2,126.0 409.1,125.9 410.1,125.7 411.0,125.4 411.9,125.5 412.9,125.8 413.8,125.7 414.8,125.6 415.7,125.9 416.7,126.3 417.6,126.3 418.6,126.6 419.5,127.0 420.4,127.0 421.4,127.0 422.3,127.5 423.3,128.0 424.2,128.2 425.2,128.4 426.1,128.8 427.1,128.8 428.0,128.7 428.9,129.0 429.9,129.4 430.8,129.6 431.8,129.7 432.7,129.7 433.7,129.7 434.6,129.8 435.6,130.0 436.5,130.1 437.4,130.0 438.4,130.1 439.3,130.2 440.3,130.1 441.2,130.2 442.2,130.4 443.1,130.3 444.1,130.2 445.0,130.4 445.9,130.4 446.9,130.2 447.8,130.2 448.8,130.6 449.7,130.6 450.7,130.3 451.6,130.3 452.6,130.5 453.5,130.5 454.4,130.4 455.4,130.4 456.3,130.6 457.3,130.7 458.2,130.5 459.2,130.3 460.1,130.3 461.1,130.5 462.0,130.6 462.9,130.7 463.9,130.6 464.8,130.3 465.8,130.2 466.7,130.6 467.7,130.9 468.6,130.5 469.6,130.2 470.5,130.4 471.4,130.6 472.4,130.5 473.3,130.5 474.3,130.6 475.2,130.4 476.2,130.3 477.1,130.5 478.1,130.5 478.8,130.3 M483.2,130.1 483.8,130.1 484.5,130.1 485.1,130.0 485.7,130.0 486.3,130.0 487.0,130.1 487.6,130.0 488.2,129.9 488.9,130.0 489.5,130.1 490.1,130.3 490.8,130.2 491.4,130.0 492.0,130.1 492.6,130.3 493.3,130.3 493.9,130.5 494.5,130.8 495.2,130.9 495.8,131.1 496.4,131.4 497.1,131.8 497.7,132.2 498.3,132.7 498.9,133.5 499.6,134.0 500.2,134.5 500.8,135.3 501.5,135.9 502.1,136.8 502.7,138.0 503.3,139.1 504.0,140.7 504.6,140.5 505.2,138.9 505.9,138.0 506.5,136.9 507.1,136.1 507.8,135.4 508.4,134.7 509.0,134.1 509.6,133.4 510.3,132.8 510.9,132.4 511.5,131.9 512.2,131.7 512.8,131.4 513.4,131.2 514.1,130.9 514.7,130.7 515.3,130.8 515.9,130.6 516.6,130.8 517.2,131.3 517.8,131.4 518.5,131.8 519.1,132.6 519.7,133.6 520.3,136.0 521.0,138.6 521.6,138.6 522.2,136.2 522.9,132.9 523.5,130.4 524.1,128.2 524.8,125.5 525.4,122.9 526.0,119.8 526.6,115.6 527.3,111.3 527.9,106.2 528.5,100.3 529.2,94.9 529.8,89.6 530.4,84.7 531.0,79.7 531.2,78.4 531.4,76.2 531.7,73.9 531.9,71.6 532.2,69.5 532.3,68.2 532.4,67.6 532.6,66.0 532.9,64.7 532.9,64.2 533.1,63.3 533.3,61.9 533.6,60.9 533.8,60.7 534.0,62.2 534.2,63.9 534.3,64.9 534.5,67.9 534.7,70.6 534.8,71.2 535.0,72.3 535.2,73.9 535.5,75.3 535.7,76.5 536.1,77.7 536.7,78.9 537.3,83.3 538.0,85.9 538.6,87.4 539.2,88.6 539.9,90.6 540.5,92.4 541.1,93.9 541.8,95.8 542.4,97.4 543.0,99.9 543.6,103.0 544.3,105.9 544.9,109.0 545.5,111.5 546.2,113.7 546.3,114.2 546.5,114.8 546.6,115.3 546.8,115.6 546.9,115.9 547.1,115.9 547.3,115.8 547.4,115.4 547.6,114.8 547.7,113.9 547.9,112.8 548.0,111.3 548.2,109.6 548.4,107.5 548.5,105.0 548.7,102.2 548.8,99.1 549.0,95.8 549.2,92.7 549.3,90.3 549.5,89.5 549.6,90.2 549.8,91.8 549.9,93.9 550.1,96.4 550.3,98.9 550.4,101.4 550.6,103.7 550.7,105.8 550.9,107.8 551.0,109.6 551.2,111.2 551.4,112.7 551.5,114.1 551.7,115.3 551.8,116.3 552.0,117.2 552.1,118.0 552.3,118.6 552.5,119.1 552.6,119.5 553.1,120.0 553.7,120.7 554.3,121.5 555.0,121.7 555.6,121.6 556.0,121.3 556.4,120.7 556.8,120.1 557.2,119.6 557.6,119.0 558.0,118.1 558.4,117.0 558.8,116.3 559.1,115.7 559.5,114.5 559.9,112.6 560.3,111.1 560.7,110.6 561.1,110.5 561.5,110.2 561.9,110.2 562.3,110.5 562.7,110.4 563.1,109.8 563.5,109.3 563.9,109.1 564.3,109.0 564.7,108.9 565.0,109.1 565.4,109.1 565.8,108.3 566.2,107.8 566.6,108.7 567.0,110.4 567.4,111.0 567.8,110.5 568.2,109.8 568.6,109.1 569.0,108.3 569.4,108.2 569.8,109.5 570.2,110.3 570.6,108.7 571.0,106.4 571.3,106.9 571.7,110.2 572.1,112.5 572.5,111.8 572.9,110.0 573.3,109.5 573.7,109.6 574.1,109.1 574.5,108.8 574.9,109.8 575.3,111.7 575.7,113.5 576.1,114.7 576.5,115.0 576.9,114.6 577.2,114.5 577.6,115.6 578.0,116.9 578.4,116.6 578.6,115.9 578.8,115.3 579.0,115.2 579.2,115.6 579.4,116.3 579.6,117.0 579.8,117.4 580.0,117.2 580.2,116.5 580.4,116.1 580.6,116.4 580.8,117.5 581.0,118.7 581.2,119.3 581.4,119.0 581.6,118.1 581.8,117.5 582.0,117.5 582.2,117.7 582.4,117.6 582.6,116.5 582.8,115.5 583.0,115.7 583.1,117.3 583.3,119.6 583.5,121.0 583.7,120.3 583.9,117.8 584.1,114.9 584.3,113.6 584.5,115.0 584.7,118.3 584.9,121.5 585.1,122.5 585.3,120.5 585.5,116.7 585.7,113.6 585.9,113.1 586.1,115.8 586.3,120.2 586.5,123.8 586.7,124.6 586.9,121.9 587.1,117.0 587.3,112.1 587.5,109.3 587.7,109.9 587.9,113.5 588.1,118.9 588.3,124.2 588.5,128.0 588.7,129.2 588.9,127.2 589.1,122.4 589.2,116.1 589.4,109.9 589.6,105.8 589.8,104.9 590.0,108.5 590.2,115.6 590.4,124.4 590.6,131.5 590.8,133.7 591.0,129.9 591.2,121.1 591.4,111.3 591.6,105.2 591.8,105.3 592.0,111.9 592.2,121.1 592.4,127.9 592.6,128.9 592.8,122.6 593.0,111.5 593.2,102.4 593.4,102.1 593.6,109.0 593.8,116.8 594.0,122.3 594.2,125.1 594.4,125.1 594.6,123.4 594.8,120.9 595.0,118.2 595.2,115.6 595.3,113.7 595.5,113.4 595.7,114.7 595.9,117.3 596.1,120.1 596.3,121.8 596.5,122.1 596.7,121.2 596.9,120.3 597.1,120.0 597.3,120.1 597.5,119.8 597.7,118.7 597.9,116.9 598.1,115.4 598.3,115.7 598.5,118.0 598.7,121.3 598.9,123.9 599.1,124.3 599.3,122.6 599.5,119.8 599.7,117.5 599.9,116.7 600.1,117.5 600.3,119.2 600.5,120.5 600.7,121.1 600.9,121.3 601.1,121.2 601.2,121.2 601.4,121.5 601.6,122.3 601.8,123.3 602.0,124.1 602.4,124.4 602.8,123.7 603.2,125.4 603.6,129.1 604.0,130.8 604.4,129.0 604.8,127.3 605.2,128.7 605.6,130.9 606.0,130.7 606.4,128.9 606.8,128.1 607.2,128.7 607.5,129.6 607.9,130.4 608.3,131.6 608.7,132.5 609.1,132.3 609.5,131.4 609.9,130.4 610.3,129.3 610.7,128.6 611.1,129.4 611.5,131.4 611.9,132.8 612.3,132.7 612.7,131.9 613.1,131.5 613.4,131.3 613.8,131.1 614.2,131.8 614.6,133.1 615.0,133.2 615.4,131.5 615.8,130.3 616.2,131.3 616.6,133.0 617.0,132.8 617.4,131.6 617.8,132.4 618.2,135.0 618.6,136.2 619.0,134.3 619.4,131.7 619.7,130.8 620.1,131.0 620.5,131.1 620.9,132.0 621.3,134.8 621.7,137.8 622.1,138.1 622.5,135.3 622.9,132.2 623.3,131.0 623.7,131.6 624.1,133.0 624.5,135.0 624.9,136.4 625.3,135.8 625.6,133.7 626.0,133.1 626.4,135.4 626.8,137.7 627.2,136.8 627.6,134.3 628.0,133.7 628.4,134.9 628.8,135.1 629.2,134.0 629.6,134.2 630.0,136.4 630.4,137.6 630.8,136.6 631.2,136.0 631.5,137.2 631.9,137.6 632.3,135.7 632.7,134.4 633.1,136.0 633.5,137.9 633.9,136.7 634.3,134.5 634.7,135.1 635.1,137.8 635.5,139.1 635.9,138.6 636.3,138.6 636.7,138.9 637.1,137.0 637.5,134.3 637.8,134.7 638.2,138.2 638.6,140.4 639.0,139.3 639.4,137.5 639.8,137.2 640.2,137.3 640.6,137.5 641.0,139.2 641.4,141.8 641.8,141.2 642.2,136.9 642.6,134.3 643.0,137.4 643.4,141.9 643.7,141.6 644.1,137.8 644.5,136.7 644.9,139.9 645.3,142.3 645.7,140.6 646.1,138.0 646.5,138.3 646.9,140.5 647.3,141.2 647.7,139.9 648.1,139.3 648.5,140.1" fill="none" stroke="#f55648" stroke-width="1.3" stroke-linejoin="round"/>
<path d="M368.5,116.6 369.4,116.4 370.4,116.3 371.3,116.3 372.3,116.1 373.2,116.2 374.2,116.5 375.1,116.6 376.1,116.3 377.0,116.1 377.9,116.0 378.9,116.0 379.8,116.2 380.8,116.3 381.7,116.0 382.7,115.8 383.6,115.9 384.6,116.0 385.5,115.7 386.4,115.5 387.4,115.4 388.3,115.1 389.3,114.9 390.2,114.9 391.2,114.9 392.1,114.5 393.1,114.1 394.0,113.7 394.9,113.2 395.9,112.9 396.8,112.8 397.8,112.4 398.7,111.8 399.7,111.5 400.6,111.1 401.6,110.4 402.5,109.8 403.4,109.7 404.4,109.4 405.3,108.8 406.3,108.6 407.2,108.4 408.2,108.0 409.1,107.7 410.1,107.7 411.0,107.5 411.9,107.5 412.9,107.7 413.8,107.9 414.8,107.9 415.7,108.0 416.7,108.3 417.6,108.5 418.6,108.9 419.5,109.4 420.4,109.7 421.4,109.9 422.3,110.4 423.3,110.8 424.2,111.0 425.2,111.3 426.1,111.9 427.1,112.1 428.0,112.1 428.9,112.4 429.9,112.9 430.8,113.1 431.8,113.1 432.7,113.1 433.7,113.4 434.6,113.6 435.6,113.6 436.5,113.6 437.4,113.8 438.4,114.1 439.3,113.9 440.3,113.9 441.2,114.2 442.2,114.3 443.1,114.2 444.1,114.1 445.0,114.2 445.9,114.3 446.9,114.3 447.8,114.6 448.8,114.7 449.7,114.4 450.7,114.3 451.6,114.5 452.6,114.5 453.5,114.4 454.4,114.6 455.4,114.8 456.3,114.7 457.3,114.7 458.2,114.7 459.2,114.7 460.1,114.7 461.1,114.8 462.0,114.8 462.9,114.7 463.9,114.8 464.8,114.9 465.8,114.7 466.7,114.8 467.7,115.1 468.6,115.1 469.6,114.7 470.5,114.7 471.4,114.8 472.4,114.8 473.3,114.9 474.3,115.2 475.2,115.1 476.2,114.8 477.1,114.8 478.1,114.9 478.8,114.8 M483.2,113.5 483.8,113.8 484.5,113.8 485.1,113.5 485.7,113.6 486.3,113.6 487.0,113.7 487.6,113.9 488.2,113.5 488.9,113.5 489.5,113.7 490.1,113.7 490.8,114.0 491.4,113.8 492.0,113.7 492.6,113.9 493.3,113.7 493.9,114.2 494.5,114.7 495.2,114.4 495.8,114.7 496.4,115.2 497.1,115.8 497.7,116.2 498.3,116.6 498.9,117.3 499.6,118.0 500.2,118.7 500.8,119.5 501.5,120.1 502.1,121.3 502.7,122.4 503.3,123.6 504.0,125.4 504.6,125.3 505.2,123.8 505.9,122.5 506.5,121.0 507.1,120.2 507.8,119.6 508.4,118.9 509.0,118.2 509.6,117.3 510.3,116.8 510.9,116.3 511.5,115.7 512.2,115.4 512.8,115.0 513.4,114.9 514.1,114.7 514.7,114.4 515.3,114.5 515.9,114.4 516.6,114.3 517.2,114.7 517.8,115.1 518.5,115.6 519.1,116.3 519.7,117.6 520.3,119.8 521.0,122.2 521.6,122.8 522.2,120.1 522.9,116.3 523.5,114.1 524.1,111.8 524.8,109.0 525.4,106.5 526.0,102.9 526.6,98.5 527.3,94.3 527.9,88.6 528.5,82.5 529.2,77.3 529.8,72.1 530.4,66.5 531.0,61.1 531.2,59.7 531.4,57.5 531.7,55.2 531.9,52.9 532.2,50.8 532.3,49.4 532.4,48.8 532.6,47.1 532.9,45.7 532.9,45.2 533.1,44.2 533.3,42.9 533.6,42.0 533.8,41.9 534.0,43.4 534.2,45.1 534.3,46.0 534.5,49.1 534.7,51.7 534.8,52.3 535.0,53.5 535.2,55.2 535.5,56.8 535.7,58.1 536.1,59.4 536.7,60.3 537.3,65.0 538.0,67.8 538.6,69.3 539.2,70.7 539.9,72.6 540.5,74.6 541.1,76.0 541.8,77.9 542.4,80.1 543.0,82.3 543.6,85.2 544.3,88.6 544.9,91.7 545.5,94.5 546.2,96.9 546.3,97.4 546.5,97.8 546.6,98.2 546.8,98.5 546.9,98.6 547.1,98.7 547.3,98.5 547.4,98.1 547.6,97.5 547.7,96.7 547.9,95.5 548.0,93.9 548.2,92.1 548.4,89.8 548.5,87.2 548.7,84.2 548.8,81.0 549.0,77.5 549.2,74.3 549.3,71.8 549.5,71.0 549.6,71.8 549.8,73.4 549.9,75.6 550.1,78.1 550.3,80.7 550.4,83.3 550.6,85.7 550.7,88.0 550.9,90.1 551.0,92.0 551.2,93.8 551.4,95.4 551.5,96.8 551.7,98.1 551.8,99.2 552.0,100.1 552.1,100.9 552.3,101.5 552.5,102.0 552.6,102.4 553.1,103.2 553.7,104.2 554.3,104.9 555.0,104.8 555.6,104.5 556.0,104.3 556.4,104.0 556.8,103.6 557.2,103.0 557.6,102.4 558.0,101.5 558.4,100.2 558.8,98.6 559.1,97.3 559.5,96.8 559.9,96.5 560.3,95.6 560.7,93.7 561.1,92.3 561.5,92.6 561.9,93.9 562.3,94.4 562.7,93.2 563.1,91.5 563.5,90.9 563.9,91.6 564.3,92.2 564.7,92.1 565.0,91.7 565.4,91.6 565.8,91.4 566.2,91.4 566.6,91.8 567.0,92.7 567.4,93.7 567.8,94.0 568.2,93.3 568.6,91.4 569.0,89.7 569.4,90.1 569.8,92.2 570.2,93.3 570.6,91.6 571.0,89.8 571.3,91.2 571.7,94.7 572.1,95.7 572.5,93.1 572.9,90.7 573.3,91.1 573.7,92.5 574.1,92.5 574.5,92.1 574.9,93.5 575.3,95.9 575.7,97.0 576.1,96.8 576.5,96.8 576.9,97.5 577.2,98.0 577.6,98.2 578.0,98.7 578.4,99.6 578.6,100.1 578.8,100.5 579.0,100.7 579.2,100.7 579.4,100.4 579.6,99.9 579.8,99.2 580.0,98.5 580.2,98.2 580.4,98.6 580.6,99.6 580.8,100.7 581.0,101.4 581.2,101.6 581.4,100.9 581.6,99.7 581.8,98.4 582.0,97.8 582.2,98.6 582.4,100.8 582.6,103.7 582.8,105.7 583.0,105.8 583.1,104.3 583.3,101.7 583.5,99.4 583.7,97.9 583.9,97.2 584.1,97.1 584.3,97.2 584.5,98.2 584.7,100.2 584.9,103.0 585.1,105.6 585.3,106.1 585.5,104.1 585.7,100.3 585.9,97.1 586.1,96.8 586.3,99.8 586.5,104.4 586.7,107.3 586.9,105.9 587.1,100.7 587.3,94.4 587.5,91.2 587.7,94.0 587.9,101.3 588.1,109.3 588.3,113.3 588.5,110.6 588.7,103.5 588.9,96.3 589.1,93.5 589.2,96.5 589.4,101.5 589.6,104.6 589.8,103.4 590.0,99.0 590.2,94.8 590.4,94.5 590.6,98.5 590.8,105.0 591.0,110.4 591.2,111.5 591.4,108.4 591.6,102.8 591.8,97.6 592.0,95.1 592.2,95.5 592.4,97.6 592.6,99.3 592.8,97.6 593.0,90.9 593.2,85.2 593.4,88.6 593.6,97.0 593.8,102.0 594.0,102.8 594.2,102.1 594.4,101.7 594.6,102.2 594.8,103.4 595.0,104.1 595.2,103.2 595.3,100.5 595.5,97.4 595.7,95.6 595.9,96.7 596.1,100.3 596.3,104.9 596.5,108.4 596.7,109.4 596.9,107.8 597.1,104.5 597.3,101.1 597.5,98.7 597.7,97.5 597.9,97.5 598.1,98.5 598.3,100.6 598.5,103.2 598.7,105.7 598.9,107.3 599.1,107.1 599.3,105.3 599.5,102.7 599.7,100.6 599.9,100.1 600.1,101.1 600.3,102.7 600.5,103.7 600.7,103.9 600.9,103.8 601.1,103.7 601.2,103.8 601.4,104.5 601.6,105.6 601.8,107.0 602.0,108.3 602.4,109.4 602.8,108.8 603.2,109.1 603.6,110.8 604.0,111.8 604.4,111.6 604.8,112.1 605.2,113.4 605.6,113.7 606.0,112.7 606.4,112.8 606.8,114.1 607.2,114.2 607.5,112.7 607.9,112.9 608.3,115.3 608.7,116.4 609.1,114.4 609.5,112.5 609.9,113.0 610.3,114.0 610.7,113.9 611.1,114.2 611.5,115.8 611.9,116.0 612.3,113.7 612.7,112.8 613.1,115.6 613.4,117.9 613.8,115.7 614.2,112.7 614.6,114.1 615.0,117.4 615.4,116.4 615.8,112.4 616.2,112.1 616.6,116.6 617.0,119.4 617.4,117.0 617.8,114.0 618.2,115.1 618.6,117.7 619.0,117.6 619.4,115.7 619.7,114.8 620.1,114.9 620.5,114.7 620.9,115.1 621.3,117.6 621.7,120.0 622.1,119.3 622.5,116.3 622.9,114.8 623.3,116.0 623.7,117.4 624.1,116.8 624.5,115.7 624.9,116.2 625.3,118.1 625.6,119.7 626.0,119.7 626.4,117.9 626.8,115.5 627.2,114.6 627.6,116.4 628.0,119.4 628.4,120.6 628.8,119.1 629.2,117.6 629.6,118.3 630.0,119.3 630.4,117.7 630.8,114.9 631.2,115.5 631.5,120.2 631.9,123.5 632.3,121.0 632.7,116.3 633.1,115.7 633.5,119.7 633.9,122.2 634.3,119.9 634.7,116.5 635.1,116.7 635.5,119.7 635.9,121.5 636.3,121.0 636.7,119.9 637.1,119.1 637.5,118.4 637.8,118.5 638.2,120.2 638.6,122.2 639.0,122.3 639.4,120.5 639.8,118.5 640.2,117.7 640.6,118.4 641.0,120.7 641.4,123.3 641.8,123.4 642.2,120.3 642.6,117.8 643.0,119.9 643.4,124.0 643.7,124.2 644.1,120.0 644.5,117.4 644.9,119.3 645.3,122.2 645.7,122.4 646.1,121.5 646.5,122.4 646.9,123.8 647.3,122.8 647.7,120.4 648.1,119.6 648.5,121.2" fill="none" stroke="#f23e60" stroke-width="1.3" stroke-linejoin="round"/>
<path d="M368.5,96.8 369.4,96.7 370.4,96.6 371.3,96.6 372.3,96.7 373.2,96.7 374.2,96.6 375.1,96.4 376.1,96.4 377.0,96.5 377.9,96.6 378.9,96.3 379.8,96.0 380.8,96.3 381.7,96.6 382.7,96.3 383.6,95.8 384.6,95.8 385.5,95.9 386.4,95.7 387.4,95.4 388.3,95.3 389.3,95.2 390.2,95.0 391.2,94.7 392.1,94.4 393.1,94.0 394.0,93.7 394.9,93.3 395.9,92.9 396.8,92.4 397.8,92.1 398.7,91.9 399.7,91.4 400.6,90.7 401.6,90.1 402.5,89.6 403.4,89.2 404.4,88.8 405.3,88.6 406.3,88.4 407.2,87.8 408.2,87.2 409.1,87.0 410.1,87.3 411.0,87.3 411.9,87.0 412.9,87.0 413.8,87.1 414.8,87.2 415.7,87.4 416.7,87.8 417.6,88.2 418.6,88.5 419.5,88.7 420.4,89.0 421.4,89.4 422.3,89.9 423.3,90.4 424.2,90.7 425.2,90.9 426.1,91.3 427.1,91.8 428.0,92.0 428.9,92.0 429.9,92.2 430.8,92.6 431.8,92.8 432.7,92.9 433.7,93.2 434.6,93.3 435.6,93.2 436.5,93.2 437.4,93.5 438.4,93.6 439.3,93.5 440.3,93.7 441.2,93.9 442.2,93.8 443.1,93.6 444.1,93.8 445.0,93.9 445.9,93.8 446.9,93.9 447.8,94.4 448.8,94.2 449.7,93.7 450.7,93.7 451.6,94.2 452.6,94.4 453.5,94.2 454.4,94.1 455.4,94.1 456.3,94.1 457.3,94.2 458.2,94.3 459.2,94.3 460.1,94.3 461.1,94.3 462.0,94.2 462.9,94.2 463.9,94.4 464.8,94.4 465.8,94.2 466.7,94.3 467.7,94.5 468.6,94.4 469.6,94.3 470.5,94.3 471.4,94.2 472.4,94.1 473.3,94.5 474.3,94.7 475.2,94.3 476.2,94.0 477.1,94.3 478.1,94.5 478.8,94.4 M483.2,95.3 483.8,95.3 484.5,95.3 485.1,95.3 485.7,95.3 486.3,95.2 487.0,95.1 487.6,95.2 488.2,95.3 488.9,95.4 489.5,95.2 490.1,95.2 490.8,95.4 491.4,95.3 492.0,95.2 492.6,95.6 493.3,95.7 493.9,95.7 494.5,96.0 495.2,96.0 495.8,96.3 496.4,96.9 497.1,97.2 497.7,97.6 498.3,98.2 498.9,99.0 499.6,99.6 500.2,100.3 500.8,101.0 501.5,101.6 502.1,102.7 502.7,103.8 503.3,105.1 504.0,106.8 504.6,106.9 505.2,105.3 505.9,103.7 506.5,102.4 507.1,101.8 507.8,101.1 508.4,100.4 509.0,99.7 509.6,98.9 510.3,98.4 510.9,97.8 511.5,97.3 512.2,97.0 512.8,96.5 513.4,96.4 514.1,96.3 514.7,96.1 515.3,96.3 515.9,96.0 516.6,95.8 517.2,96.3 517.8,96.8 518.5,97.2 519.1,97.9 519.7,99.4 520.3,101.8 521.0,104.1 521.6,104.4 522.2,101.8 522.9,98.1 523.5,95.6 524.1,93.4 524.8,90.7 525.4,87.9 526.0,84.4 526.6,80.0 527.3,75.4 527.9,69.9 528.5,63.8 529.2,58.3 529.8,53.1 530.4,47.4 531.0,42.1 531.2,40.7 531.4,38.5 531.7,36.2 531.9,33.8 532.2,31.5 532.3,30.1 532.4,29.4 532.6,27.6 532.9,26.2 532.9,25.7 533.1,24.8 533.3,23.4 533.6,22.5 533.8,22.3 534.0,23.9 534.2,25.7 534.3,26.7 534.5,30.0 534.7,32.8 534.8,33.4 535.0,34.6 535.2,36.2 535.5,37.6 535.7,38.7 536.1,39.9 536.7,41.3 537.3,46.1 538.0,48.7 538.6,50.4 539.2,51.7 539.9,53.5 540.5,55.6 541.1,57.3 541.8,59.1 542.4,61.1 543.0,63.5 543.6,66.6 544.3,69.9 544.9,72.9 545.5,75.7 546.2,78.3 546.3,78.7 546.5,79.1 546.6,79.5 546.8,79.8 546.9,80.0 547.1,80.1 547.3,80.0 547.4,79.7 547.6,79.0 547.7,78.0 547.9,76.7 548.0,75.0 548.2,72.9 548.4,70.5 548.5,67.8 548.7,64.8 548.8,61.5 549.0,58.0 549.2,54.7 549.3,52.2 549.5,51.3 549.6,52.0 549.8,53.5 549.9,55.6 550.1,58.1 550.3,60.7 550.4,63.4 550.6,66.0 550.7,68.5 550.9,70.8 551.0,72.8 551.2,74.7 551.4,76.3 551.5,77.7 551.7,79.0 551.8,80.1 552.0,81.0 552.1,81.9 552.3,82.6 552.5,83.1 552.6,83.6 553.1,84.2 553.7,84.8 554.3,85.6 555.0,85.6 555.6,85.5 556.0,85.2 556.4,84.7 556.8,84.0 557.2,83.5 557.6,82.9 558.0,81.7 558.4,79.9 558.8,78.6 559.1,78.0 559.5,77.2 559.9,75.6 560.3,73.8 560.7,72.5 561.1,72.0 561.5,72.2 561.9,73.1 562.3,73.9 562.7,73.3 563.1,71.0 563.5,69.1 563.9,70.0 564.3,72.1 564.7,72.6 565.0,70.6 565.4,68.4 565.8,68.7 566.2,71.2 566.6,73.3 567.0,73.2 567.4,72.1 567.8,71.6 568.2,71.6 568.6,71.0 569.0,70.1 569.4,70.1 569.8,70.8 570.2,70.7 570.6,69.9 571.0,70.2 571.3,72.0 571.7,73.4 572.1,73.1 572.5,71.7 572.9,70.6 573.3,70.4 573.7,71.0 574.1,72.0 574.5,72.9 574.9,73.2 575.3,73.8 575.7,75.6 576.1,77.4 576.5,77.3 576.9,76.2 577.2,76.8 577.6,79.3 578.0,80.5 578.4,79.3 578.6,78.6 578.8,78.3 579.0,78.7 579.2,79.4 579.4,80.2 579.6,80.5 579.8,80.2 580.0,79.4 580.2,78.7 580.4,78.8 580.6,79.5 580.8,80.2 581.0,80.4 581.2,80.3 581.4,80.5 581.6,81.4 581.8,83.0 582.0,84.3 582.2,84.0 582.4,82.0 582.6,79.0 582.8,77.3 583.0,78.1 583.1,80.6 583.3,83.3 583.5,84.5 583.7,83.1 583.9,80.0 584.1,77.2 584.3,76.2 584.5,77.8 584.7,80.9 584.9,83.6 585.1,84.6 585.3,83.4 585.5,81.3 585.7,79.9 585.9,80.2 586.1,82.1 586.3,84.4 586.5,85.2 586.7,83.8 586.9,80.4 587.1,76.5 587.3,74.3 587.5,75.0 587.7,78.6 587.9,83.7 588.1,88.0 588.3,89.8 588.5,88.4 588.7,84.8 588.9,81.0 589.1,78.6 589.2,78.1 589.4,78.5 589.6,78.5 589.8,77.7 590.0,76.7 590.2,77.0 590.4,79.8 590.6,84.5 590.8,89.1 591.0,91.2 591.2,89.3 591.4,84.2 591.6,78.4 591.8,74.7 592.0,74.9 592.2,78.2 592.4,82.4 592.6,84.0 592.8,78.7 593.0,65.1 593.2,53.0 593.4,56.1 593.6,69.3 593.8,79.5 594.0,84.5 594.2,86.5 594.4,86.4 594.6,85.1 594.8,83.4 595.0,82.0 595.2,80.9 595.3,79.9 595.5,78.8 595.7,77.8 595.9,77.6 596.1,78.9 596.3,81.9 596.5,85.8 596.7,89.2 596.9,90.5 597.1,89.0 597.3,85.2 597.5,80.5 597.7,76.8 597.9,75.7 598.1,77.0 598.3,80.0 598.5,82.9 598.7,84.7 598.9,85.3 599.1,85.2 599.3,84.6 599.5,84.0 599.7,83.4 599.9,82.9 600.1,83.0 600.3,83.6 600.5,84.5 600.7,84.7 600.9,85.1 601.1,85.5 601.2,86.1 601.4,86.6 601.6,87.1 601.8,87.3 602.0,87.3 602.4,87.4 602.8,89.0 603.2,91.7 603.6,93.3 604.0,93.1 604.4,92.9 604.8,94.1 605.2,95.5 605.6,95.1 606.0,93.6 606.4,93.5 606.8,95.2 607.2,96.7 607.5,96.0 607.9,94.6 608.3,94.8 608.7,96.4 609.1,97.3 609.5,96.3 609.9,94.4 610.3,93.2 610.7,93.7 611.1,95.9 611.5,98.3 611.9,98.2 612.3,95.3 612.7,92.9 613.1,94.4 613.4,98.3 613.8,99.6 614.2,97.0 614.6,94.8 615.0,95.4 615.4,96.0 615.8,94.2 616.2,93.1 616.6,95.8 617.0,99.5 617.4,99.7 617.8,97.4 618.2,96.5 618.6,97.3 619.0,96.8 619.4,95.3 619.7,95.5 620.1,97.1 620.5,96.6 620.9,94.6 621.3,95.2 621.7,99.0 622.1,101.1 622.5,99.2 622.9,96.6 623.3,96.3 623.7,96.7 624.1,96.1 624.5,95.9 624.9,97.3 625.3,98.6 625.6,98.3 626.0,97.6 626.4,97.8 626.8,97.7 627.2,97.1 627.6,97.7 628.0,99.5 628.4,99.0 628.8,96.2 629.2,95.3 629.6,98.5 630.0,100.7 630.4,98.4 630.8,95.9 631.2,97.7 631.5,101.1 631.9,100.5 632.3,97.1 632.7,95.8 633.1,97.4 633.5,98.7 633.9,98.9 634.3,99.6 634.7,100.0 635.1,98.8 635.5,98.0 635.9,99.8 636.3,101.0 636.7,98.2 637.1,94.6 637.5,96.2 637.8,101.3 638.2,102.7 638.6,99.7 639.0,98.3 639.4,100.1 639.8,100.1 640.2,97.0 640.6,96.3 641.0,100.3 641.4,103.3 641.8,100.7 642.2,97.1 642.6,98.2 643.0,101.9 643.4,101.9 643.7,98.2 644.1,96.2 644.5,98.5 644.9,101.7 645.3,102.3 645.7,100.9 646.1,100.1 646.5,100.7 646.9,101.1 647.3,99.8 647.7,97.9 648.1,98.1 648.5,100.7" fill="none" stroke="#ec2c78" stroke-width="1.3" stroke-linejoin="round"/>
<path d="M159.1,119 V146.5 M174.8,119 V146.5" stroke="#444" stroke-width="1.1"/>
<text x="155.8" y="114.6" font-size="14" text-anchor="start" fill="#1a1a1a" font-weight="normal" >H<tspan font-size="10" dy="3.5">2</tspan><tspan dy="-3.5">O</tspan></text>
<path d="M203,28.2 L201.8,55 L204.2,55 Z" fill="#5a0a28" opacity="0.9"/>
<text x="191.0" y="21.6" font-size="13.5" text-anchor="start" fill="#1a1a1a" font-weight="normal" >CF<tspan font-size="9.5" dy="3.5">4</tspan></text>
<rect x="274.4" y="13.0" width="22.5" height="17.3" fill="#8c8c8c"/>
<rect x="271.4" y="10.0" width="22.5" height="17.3" fill="#fff" stroke="#9a9a9a" stroke-width="0.8"/>

<text x="273.0" y="22.0" font-size="11" text-anchor="start" fill="#1a1a1a" font-weight="normal" >CF<tspan font-size="8" dy="2.5">4</tspan></text>
<path d="M311.4,219 V152" stroke="#111" stroke-width="1.1"/><path d="M311.4,145.9 L308.9,153.5 L313.9,153.5 Z" fill="#111"/>
<text x="305.3" y="140.7" font-size="11" text-anchor="start" fill="#e8288a" font-weight="normal" >80 min</text>
<text x="304.0" y="229.9" font-size="11" text-anchor="start" fill="#45d0cc" font-weight="normal" >0 min</text>
<path d="M411.2,83 V117.4 M504.4,96 V131.7 M521.5,96 V131.7" stroke="#111" stroke-width="1.1"/>
<path d="M534.4,17.4 V51 M549.7,51 V85.8" stroke="#333" stroke-width="1" opacity="0.9"/>
<path d="M534.4,22 L533.2,51 L535.6,51 Z M549.7,51 L548.6,85.8 L550.8,85.8 Z" fill="#4a0a20" opacity="0.8"/>
<text x="403.8" y="78.2" font-size="14" text-anchor="start" fill="#1a1a1a" font-weight="normal" >H<tspan font-size="9" dy="-5.5">+</tspan></text>
<text x="414.0" y="86.2" font-size="11.5" text-anchor="start" fill="#1a1a1a" font-weight="normal" >3226</text>
<text x="477.5" y="78.7" font-size="14" text-anchor="start" fill="#1a1a1a" font-weight="normal" >H<tspan font-size="9.5" dy="3.5">2</tspan><tspan dy="-3.5">O</tspan></text>
<text x="503.3" y="84.8" font-size="11.2" text-anchor="start" fill="#1a1a1a" font-weight="normal" >1460</text>
<text x="487.2" y="95.0" font-size="11.5" text-anchor="start" fill="#1a1a1a" font-weight="normal" >1566</text>
<text x="506.6" y="19.4" font-size="14" text-anchor="start" fill="#1a1a1a" font-weight="normal" >SO<tspan font-size="9.5" dy="3.5">2</tspan></text>
<text x="535.8" y="20.8" font-size="11.5" text-anchor="start" fill="#1a1a1a" font-weight="normal" >1379</text>
<text x="546.4" y="36.2" font-size="14" text-anchor="start" fill="#1a1a1a" font-weight="normal" >CF<tspan font-size="9.5" dy="3.5">4</tspan></text>
<text x="541.3" y="49.0" font-size="11.5" text-anchor="start" fill="#1a1a1a" font-weight="normal" >1279</text>
<text x="555.2" y="63.4" font-size="14" text-anchor="start" fill="#1a1a1a" font-weight="normal" >sulfate</text>
<rect x="598.0" y="12.3" width="49.4" height="17.2" fill="#8c8c8c"/>
<rect x="595.0" y="9.3" width="49.4" height="17.2" fill="#fff" stroke="#9a9a9a" stroke-width="0.8"/>

<text x="596.6" y="21.5" font-size="11" text-anchor="start" fill="#1a1a1a" font-weight="normal" >CF<tspan font-size="8" dy="2.5">4</tspan><tspan dy="-2.5">+SO</tspan><tspan font-size="8" dy="2.5">2</tspan></text>
<path d="M658.5,219 V152" stroke="#111" stroke-width="1.1"/><path d="M658.5,145.9 L656,153.5 L661,153.5 Z" fill="#111"/>
<text x="651.7" y="140.7" font-size="11" text-anchor="start" fill="#e8288a" font-weight="normal" >80 min</text>
<text x="651.2" y="229.9" font-size="11" text-anchor="start" fill="#45d0cc" font-weight="normal" >0 min</text>
</svg></body></html>
